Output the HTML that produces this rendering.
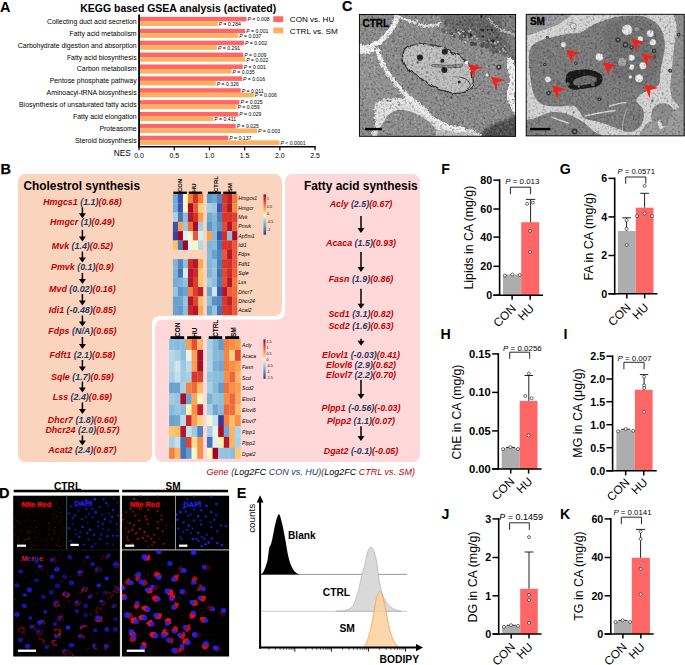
<!DOCTYPE html>
<html><head><meta charset="utf-8"><title>Figure</title>
<style>html,body{margin:0;padding:0;background:#fff;}svg{display:block;}text{font-family:"Liberation Sans",sans-serif;}</style></head>
<body>
<svg width="685" height="665" viewBox="0 0 685 665" font-family='"Liberation Sans", sans-serif'>
<rect width="685" height="665" fill="#fff"/>
<text x="0.00" y="11.80" font-size="14.5" fill="#000" font-weight="bold" >A</text>
<text x="178.20" y="12.40" font-size="10.5" fill="#000" font-weight="bold" text-anchor="middle" textLength="196.00" lengthAdjust="spacingAndGlyphs" >KEGG based GSEA analysis (activated)</text>
<rect x="140.00" y="16.90" width="106.50" height="4.55" fill="#FF6666" />
<rect x="140.00" y="21.45" width="77.75" height="4.55" fill="#FDB05E" />
<text x="136.60" y="23.90" font-size="6.9" fill="#000" text-anchor="end" >Collecting duct acid secretion</text>
<text x="247.50" y="21.20" font-size="5.15" fill="#000" ><tspan font-style="italic">P</tspan> = 0.008</text>
<text x="218.75" y="26.05" font-size="5.15" fill="#000" ><tspan font-style="italic">P</tspan> = 0.284</text>
<rect x="140.00" y="28.79" width="105.25" height="4.55" fill="#FF6666" />
<rect x="140.00" y="33.34" width="98.25" height="4.55" fill="#FDB05E" />
<text x="136.60" y="35.79" font-size="6.9" fill="#000" text-anchor="end" >Fatty acid metabolism</text>
<text x="246.25" y="33.09" font-size="5.15" fill="#000" ><tspan font-style="italic">P</tspan> = 0.001</text>
<text x="239.25" y="37.94" font-size="5.15" fill="#000" ><tspan font-style="italic">P</tspan> = 0.037</text>
<rect x="140.00" y="40.68" width="104.00" height="4.55" fill="#FF6666" />
<rect x="140.00" y="45.23" width="77.00" height="4.55" fill="#FDB05E" />
<text x="136.60" y="47.68" font-size="6.9" fill="#000" text-anchor="end" >Carbohydrate digestion and absorption</text>
<text x="245.00" y="44.98" font-size="5.15" fill="#000" ><tspan font-style="italic">P</tspan> = 0.002</text>
<text x="218.00" y="49.83" font-size="5.15" fill="#000" ><tspan font-style="italic">P</tspan> = 0.291</text>
<rect x="140.00" y="52.57" width="103.25" height="4.55" fill="#FF6666" />
<rect x="140.00" y="57.12" width="105.25" height="4.55" fill="#FDB05E" />
<text x="136.60" y="59.57" font-size="6.9" fill="#000" text-anchor="end" >Fatty acid biosynthesis</text>
<text x="244.25" y="56.87" font-size="5.15" fill="#000" ><tspan font-style="italic">P</tspan> = 0.009</text>
<text x="246.25" y="61.72" font-size="5.15" fill="#000" ><tspan font-style="italic">P</tspan> = 0.022</text>
<rect x="140.00" y="64.46" width="102.75" height="4.55" fill="#FF6666" />
<rect x="140.00" y="69.01" width="91.50" height="4.55" fill="#FDB05E" />
<text x="136.60" y="71.46" font-size="6.9" fill="#000" text-anchor="end" >Carbon metabolism</text>
<text x="243.75" y="68.76" font-size="5.15" fill="#000" ><tspan font-style="italic">P</tspan> = 0.001</text>
<text x="232.50" y="73.61" font-size="5.15" fill="#000" ><tspan font-style="italic">P</tspan> = 0.035</text>
<rect x="140.00" y="76.35" width="102.00" height="4.55" fill="#FF6666" />
<rect x="140.00" y="80.90" width="75.75" height="4.55" fill="#FDB05E" />
<text x="136.60" y="83.35" font-size="6.9" fill="#000" text-anchor="end" >Pentose phosphate pathway</text>
<text x="243.00" y="80.65" font-size="5.15" fill="#000" ><tspan font-style="italic">P</tspan> = 0.016</text>
<text x="216.75" y="85.50" font-size="5.15" fill="#000" ><tspan font-style="italic">P</tspan> = 0.326</text>
<rect x="140.00" y="88.24" width="100.75" height="4.55" fill="#FF6666" />
<rect x="140.00" y="92.79" width="113.75" height="4.55" fill="#FDB05E" />
<text x="136.60" y="95.24" font-size="6.9" fill="#000" text-anchor="end" >Aminoacyl-tRNA biosynthesis</text>
<text x="241.75" y="92.54" font-size="5.15" fill="#000" ><tspan font-style="italic">P</tspan> = 0.011</text>
<text x="254.75" y="97.39" font-size="5.15" fill="#000" ><tspan font-style="italic">P</tspan> = 0.006</text>
<rect x="140.00" y="100.13" width="99.50" height="4.55" fill="#FF6666" />
<rect x="140.00" y="104.68" width="96.50" height="4.55" fill="#FDB05E" />
<text x="136.60" y="107.13" font-size="6.9" fill="#000" text-anchor="end" >Biosynthesis of unsaturated fatty acids</text>
<text x="240.50" y="104.43" font-size="5.15" fill="#000" ><tspan font-style="italic">P</tspan> = 0.025</text>
<text x="237.50" y="109.28" font-size="5.15" fill="#000" ><tspan font-style="italic">P</tspan> = 0.059</text>
<rect x="140.00" y="112.02" width="98.25" height="4.55" fill="#FF6666" />
<rect x="140.00" y="116.57" width="73.25" height="4.55" fill="#FDB05E" />
<text x="136.60" y="119.02" font-size="6.9" fill="#000" text-anchor="end" >Fatty acid elongation</text>
<text x="239.25" y="116.32" font-size="5.15" fill="#000" ><tspan font-style="italic">P</tspan> = 0.029</text>
<text x="214.25" y="121.17" font-size="5.15" fill="#000" ><tspan font-style="italic">P</tspan> = 0.411</text>
<rect x="140.00" y="123.91" width="95.75" height="4.55" fill="#FF6666" />
<rect x="140.00" y="128.46" width="117.00" height="4.55" fill="#FDB05E" />
<text x="136.60" y="130.91" font-size="6.9" fill="#000" text-anchor="end" >Proteasome</text>
<text x="236.75" y="128.21" font-size="5.15" fill="#000" ><tspan font-style="italic">P</tspan> = 0.025</text>
<text x="258.00" y="133.06" font-size="5.15" fill="#000" ><tspan font-style="italic">P</tspan> = 0.003</text>
<rect x="140.00" y="135.80" width="88.25" height="4.55" fill="#FF6666" />
<rect x="140.00" y="140.35" width="139.50" height="4.55" fill="#FDB05E" />
<text x="136.60" y="142.80" font-size="6.9" fill="#000" text-anchor="end" >Steroid biosynthesis</text>
<text x="229.25" y="140.10" font-size="5.15" fill="#000" ><tspan font-style="italic">P</tspan> = 0.137</text>
<text x="280.50" y="144.95" font-size="5.15" fill="#000" ><tspan font-style="italic">P</tspan> &lt; 0.0001</text>
<line x1="139.05" y1="14.50" x2="139.05" y2="147.60" stroke="#000" stroke-width="1.8" />
<line x1="138.15" y1="146.80" x2="315.80" y2="146.80" stroke="#000" stroke-width="1.6" />
<line x1="139.05" y1="146.80" x2="139.05" y2="150.20" stroke="#000" stroke-width="1.2" />
<text x="139.05" y="157.60" font-size="7" fill="#000" text-anchor="middle" >0.0</text>
<line x1="174.25" y1="146.80" x2="174.25" y2="150.20" stroke="#000" stroke-width="1.2" />
<text x="174.25" y="157.60" font-size="7" fill="#000" text-anchor="middle" >0.5</text>
<line x1="209.45" y1="146.80" x2="209.45" y2="150.20" stroke="#000" stroke-width="1.2" />
<text x="209.45" y="157.60" font-size="7" fill="#000" text-anchor="middle" >1.0</text>
<line x1="244.65" y1="146.80" x2="244.65" y2="150.20" stroke="#000" stroke-width="1.2" />
<text x="244.65" y="157.60" font-size="7" fill="#000" text-anchor="middle" >1.5</text>
<line x1="279.85" y1="146.80" x2="279.85" y2="150.20" stroke="#000" stroke-width="1.2" />
<text x="279.85" y="157.60" font-size="7" fill="#000" text-anchor="middle" >2.0</text>
<line x1="315.05" y1="146.80" x2="315.05" y2="150.20" stroke="#000" stroke-width="1.2" />
<text x="315.05" y="157.60" font-size="7" fill="#000" text-anchor="middle" >2.5</text>
<text x="113.80" y="155.60" font-size="8.3" fill="#000" >NES</text>
<rect x="273.30" y="16.30" width="10.00" height="5.80" fill="#FF6666" />
<rect x="273.30" y="27.60" width="10.00" height="5.80" fill="#FDB05E" />
<text x="289.80" y="22.20" font-size="8.1" fill="#000" textLength="44.50" lengthAdjust="spacingAndGlyphs" >CON vs. HU</text>
<text x="289.80" y="33.60" font-size="8.1" fill="#000" textLength="48.00" lengthAdjust="spacingAndGlyphs" >CTRL vs. SM</text>
<text x="0.60" y="173.70" font-size="14.5" fill="#000" font-weight="bold" stroke="#000" stroke-width="0.25">B</text>
<path d="M18.00,181.50 A7.5,7.5 0 0 1 25.50,174.00 L274.50,174.00 A7.5,7.5 0 0 1 282.00,181.50 L282.00,308.50 A7.5,7.5 0 0 1 274.50,316.00 L159.50,316.00 A7.5,7.5 0 0 0 152.00,323.50 L152.00,454.50 A7.5,7.5 0 0 1 144.50,462.00 L25.50,462.00 A7.5,7.5 0 0 1 18.00,454.50 Z" fill="#FAD4BD" />
<path d="M285.00,181.50 A7.5,7.5 0 0 1 292.50,174.00 L412.50,174.00 A7.5,7.5 0 0 1 420.00,181.50 L420.00,454.50 A7.5,7.5 0 0 1 412.50,462.00 L162.50,462.00 A7.5,7.5 0 0 1 155.00,454.50 L155.00,327.00 A7.5,7.5 0 0 1 162.50,319.50 L277.50,319.50 A7.5,7.5 0 0 0 285.00,312.00 Z" fill="#FFD9D9" />
<text x="23.50" y="190.30" font-size="12" fill="#000" font-weight="bold" textLength="116.50" lengthAdjust="spacingAndGlyphs" >Cholestrol synthesis</text>
<text x="304.00" y="190.30" font-size="12" fill="#000" font-weight="bold" textLength="113.60" lengthAdjust="spacingAndGlyphs" >Fatty acid synthesis</text>
<text x="82.40" y="204.70" font-size="8.9" fill="#000" font-weight="bold" font-style="italic" text-anchor="middle" ><tspan fill="#C00000">Hmgcs1 </tspan><tspan fill="#1F3864">(1.1)</tspan><tspan fill="#C00000">(0.68)</tspan></text>
<text x="82.40" y="225.10" font-size="8.9" fill="#000" font-weight="bold" font-style="italic" text-anchor="middle" ><tspan fill="#C00000">Hmgcr </tspan><tspan fill="#1F3864">(1)</tspan><tspan fill="#C00000">(0.49)</tspan></text>
<text x="82.40" y="249.20" font-size="8.9" fill="#000" font-weight="bold" font-style="italic" text-anchor="middle" ><tspan fill="#C00000">Mvk </tspan><tspan fill="#1F3864">(1.4)</tspan><tspan fill="#C00000">(0.52)</tspan></text>
<text x="82.40" y="270.40" font-size="8.9" fill="#000" font-weight="bold" font-style="italic" text-anchor="middle" ><tspan fill="#C00000">Pmvk </tspan><tspan fill="#1F3864">(0.1)</tspan><tspan fill="#C00000">(0.9)</tspan></text>
<text x="82.40" y="291.60" font-size="8.9" fill="#000" font-weight="bold" font-style="italic" text-anchor="middle" ><tspan fill="#C00000">Mvd </tspan><tspan fill="#1F3864">(0.02)</tspan><tspan fill="#C00000">(0.16)</tspan></text>
<text x="82.40" y="313.10" font-size="8.9" fill="#000" font-weight="bold" font-style="italic" text-anchor="middle" ><tspan fill="#C00000">Idi1 </tspan><tspan fill="#1F3864">(-0.48)</tspan><tspan fill="#C00000">(0.85)</tspan></text>
<text x="82.40" y="334.20" font-size="8.9" fill="#000" font-weight="bold" font-style="italic" text-anchor="middle" ><tspan fill="#C00000">Fdps </tspan><tspan fill="#1F3864">(N/A)</tspan><tspan fill="#C00000">(0.65)</tspan></text>
<text x="82.40" y="357.80" font-size="8.9" fill="#000" font-weight="bold" font-style="italic" text-anchor="middle" ><tspan fill="#C00000">Fdft1 </tspan><tspan fill="#1F3864">(2.1)</tspan><tspan fill="#C00000">(0.58)</tspan></text>
<text x="82.40" y="379.50" font-size="8.9" fill="#000" font-weight="bold" font-style="italic" text-anchor="middle" ><tspan fill="#C00000">Sqle </tspan><tspan fill="#1F3864">(1.7)</tspan><tspan fill="#C00000">(0.59)</tspan></text>
<text x="82.40" y="400.00" font-size="8.9" fill="#000" font-weight="bold" font-style="italic" text-anchor="middle" ><tspan fill="#C00000">Lss </tspan><tspan fill="#1F3864">(2.4)</tspan><tspan fill="#C00000">(0.69)</tspan></text>
<text x="82.40" y="422.50" font-size="8.9" fill="#000" font-weight="bold" font-style="italic" text-anchor="middle" ><tspan fill="#C00000">Dhcr7 </tspan><tspan fill="#1F3864">(1.8)</tspan><tspan fill="#C00000">(0.60)</tspan></text>
<text x="82.40" y="433.20" font-size="8.9" fill="#000" font-weight="bold" font-style="italic" text-anchor="middle" ><tspan fill="#C00000">Dhcr24 </tspan><tspan fill="#1F3864">(2.0)</tspan><tspan fill="#C00000">(0.57)</tspan></text>
<text x="82.40" y="453.20" font-size="8.9" fill="#000" font-weight="bold" font-style="italic" text-anchor="middle" ><tspan fill="#C00000">Acat2 </tspan><tspan fill="#1F3864">(2.4)</tspan><tspan fill="#C00000">(0.87)</tspan></text>
<line x1="82.40" y1="207.30" x2="82.40" y2="213.80" stroke="#000" stroke-width="1.5" />
<path d="M78.90,213.30 L85.90,213.30 L82.40,218.30 Z" fill="#000" />
<line x1="82.40" y1="230.00" x2="82.40" y2="237.00" stroke="#000" stroke-width="1.5" />
<path d="M78.90,236.50 L85.90,236.50 L82.40,241.50 Z" fill="#000" />
<line x1="82.40" y1="251.50" x2="82.40" y2="258.00" stroke="#000" stroke-width="1.5" />
<path d="M78.90,257.50 L85.90,257.50 L82.40,262.50 Z" fill="#000" />
<line x1="82.40" y1="273.00" x2="82.40" y2="279.50" stroke="#000" stroke-width="1.5" />
<path d="M78.90,279.00 L85.90,279.00 L82.40,284.00 Z" fill="#000" />
<line x1="82.40" y1="294.00" x2="82.40" y2="301.00" stroke="#000" stroke-width="1.5" />
<path d="M78.90,300.50 L85.90,300.50 L82.40,305.50 Z" fill="#000" />
<line x1="82.40" y1="315.50" x2="82.40" y2="322.00" stroke="#000" stroke-width="1.5" />
<path d="M78.90,321.50 L85.90,321.50 L82.40,326.50 Z" fill="#000" />
<line x1="82.40" y1="337.00" x2="82.40" y2="344.50" stroke="#000" stroke-width="1.5" />
<path d="M78.90,344.00 L85.90,344.00 L82.40,349.00 Z" fill="#000" />
<line x1="82.40" y1="360.00" x2="82.40" y2="367.00" stroke="#000" stroke-width="1.5" />
<path d="M78.90,366.50 L85.90,366.50 L82.40,371.50 Z" fill="#000" />
<line x1="82.40" y1="381.50" x2="82.40" y2="388.00" stroke="#000" stroke-width="1.5" />
<path d="M78.90,387.50 L85.90,387.50 L82.40,392.50 Z" fill="#000" />
<line x1="82.40" y1="402.50" x2="82.40" y2="409.50" stroke="#000" stroke-width="1.5" />
<path d="M78.90,409.00 L85.90,409.00 L82.40,414.00 Z" fill="#000" />
<line x1="82.40" y1="435.50" x2="82.40" y2="441.00" stroke="#000" stroke-width="1.5" />
<path d="M78.90,440.50 L85.90,440.50 L82.40,445.50 Z" fill="#000" />
<text x="361.00" y="206.80" font-size="8.9" fill="#000" font-weight="bold" font-style="italic" text-anchor="middle" ><tspan fill="#C00000">Acly </tspan><tspan fill="#1F3864">(2.5)</tspan><tspan fill="#C00000">(0.67)</tspan></text>
<text x="361.00" y="245.50" font-size="8.9" fill="#000" font-weight="bold" font-style="italic" text-anchor="middle" ><tspan fill="#C00000">Acaca </tspan><tspan fill="#1F3864">(1.5)</tspan><tspan fill="#C00000">(0.93)</tspan></text>
<text x="361.00" y="281.60" font-size="8.9" fill="#000" font-weight="bold" font-style="italic" text-anchor="middle" ><tspan fill="#C00000">Fasn </tspan><tspan fill="#1F3864">(1.9)</tspan><tspan fill="#C00000">(0.86)</tspan></text>
<text x="361.00" y="317.20" font-size="8.9" fill="#000" font-weight="bold" font-style="italic" text-anchor="middle" ><tspan fill="#C00000">Scd1 </tspan><tspan fill="#1F3864">(3.1)</tspan><tspan fill="#C00000">(0.82)</tspan></text>
<text x="361.00" y="329.10" font-size="8.9" fill="#000" font-weight="bold" font-style="italic" text-anchor="middle" ><tspan fill="#C00000">Scd2 </tspan><tspan fill="#1F3864">(1.6)</tspan><tspan fill="#C00000">(0.63)</tspan></text>
<text x="361.00" y="357.50" font-size="8.9" fill="#000" font-weight="bold" font-style="italic" text-anchor="middle" ><tspan fill="#C00000">Elovl1 </tspan><tspan fill="#1F3864">(-0.03)</tspan><tspan fill="#C00000">(0.41)</tspan></text>
<text x="361.00" y="368.10" font-size="8.9" fill="#000" font-weight="bold" font-style="italic" text-anchor="middle" ><tspan fill="#C00000">Elovl6 </tspan><tspan fill="#1F3864">(2.9)</tspan><tspan fill="#C00000">(0.62)</tspan></text>
<text x="361.00" y="378.40" font-size="8.9" fill="#000" font-weight="bold" font-style="italic" text-anchor="middle" ><tspan fill="#C00000">Elovl7 </tspan><tspan fill="#1F3864">(2.2)</tspan><tspan fill="#C00000">(0.70)</tspan></text>
<text x="361.00" y="411.20" font-size="8.9" fill="#000" font-weight="bold" font-style="italic" text-anchor="middle" ><tspan fill="#C00000">Plpp1 </tspan><tspan fill="#1F3864">(-0.56)</tspan><tspan fill="#C00000">(-0.03)</tspan></text>
<text x="361.00" y="423.70" font-size="8.9" fill="#000" font-weight="bold" font-style="italic" text-anchor="middle" ><tspan fill="#C00000">Plpp2 </tspan><tspan fill="#1F3864">(1.1)</tspan><tspan fill="#C00000">(0.07)</tspan></text>
<text x="361.00" y="453.80" font-size="8.9" fill="#000" font-weight="bold" font-style="italic" text-anchor="middle" ><tspan fill="#C00000">Dgat2 </tspan><tspan fill="#1F3864">(-0.1)</tspan><tspan fill="#C00000">(-0.05)</tspan></text>
<line x1="361.00" y1="216.00" x2="361.00" y2="228.50" stroke="#000" stroke-width="1.5" />
<path d="M357.50,228.00 L364.50,228.00 L361.00,233.00 Z" fill="#000" />
<line x1="361.00" y1="252.00" x2="361.00" y2="267.50" stroke="#000" stroke-width="1.5" />
<path d="M357.50,267.00 L364.50,267.00 L361.00,272.00 Z" fill="#000" />
<line x1="361.00" y1="288.70" x2="361.00" y2="304.20" stroke="#000" stroke-width="1.5" />
<path d="M357.50,303.70 L364.50,303.70 L361.00,308.70 Z" fill="#000" />
<line x1="361.00" y1="338.80" x2="361.00" y2="341.30" stroke="#000" stroke-width="1.5" />
<path d="M357.50,340.80 L364.50,340.80 L361.00,345.80 Z" fill="#000" />
<line x1="361.00" y1="379.80" x2="361.00" y2="394.50" stroke="#000" stroke-width="1.5" />
<path d="M357.50,394.00 L364.50,394.00 L361.00,399.00 Z" fill="#000" />
<line x1="361.00" y1="426.20" x2="361.00" y2="436.60" stroke="#000" stroke-width="1.5" />
<path d="M357.50,436.10 L364.50,436.10 L361.00,441.10 Z" fill="#000" />
<rect x="172.90" y="193.90" width="5.17" height="9.46" fill="#6BAED6" />
<rect x="177.92" y="193.90" width="5.17" height="9.46" fill="#3A4CC0" />
<rect x="182.94" y="193.90" width="5.17" height="9.46" fill="#FFF5C0" />
<rect x="187.96" y="193.90" width="5.17" height="9.46" fill="#F5803A" />
<rect x="192.98" y="193.90" width="5.17" height="9.46" fill="#D62F27" />
<rect x="198.00" y="193.90" width="5.17" height="9.46" fill="#F5803A" />
<rect x="172.90" y="203.22" width="5.17" height="9.46" fill="#74B0DA" />
<rect x="177.92" y="203.22" width="5.17" height="9.46" fill="#3B50B5" />
<rect x="182.94" y="203.22" width="5.17" height="9.46" fill="#FDF2BE" />
<rect x="187.96" y="203.22" width="5.17" height="9.46" fill="#A50F26" />
<rect x="192.98" y="203.22" width="5.17" height="9.46" fill="#EA5A35" />
<rect x="198.00" y="203.22" width="5.17" height="9.46" fill="#FDD07E" />
<rect x="172.90" y="212.53" width="5.17" height="9.46" fill="#ABD2E8" />
<rect x="177.92" y="212.53" width="5.17" height="9.46" fill="#4A74B4" />
<rect x="182.94" y="212.53" width="5.17" height="9.46" fill="#8CBEDD" />
<rect x="187.96" y="212.53" width="5.17" height="9.46" fill="#B2182B" />
<rect x="192.98" y="212.53" width="5.17" height="9.46" fill="#D73027" />
<rect x="198.00" y="212.53" width="5.17" height="9.46" fill="#F99B4B" />
<rect x="172.90" y="221.84" width="5.17" height="9.46" fill="#3F52A8" />
<rect x="177.92" y="221.84" width="5.17" height="9.46" fill="#F9A155" />
<rect x="182.94" y="221.84" width="5.17" height="9.46" fill="#9ECAE1" />
<rect x="187.96" y="221.84" width="5.17" height="9.46" fill="#EE6A3C" />
<rect x="192.98" y="221.84" width="5.17" height="9.46" fill="#A50F26" />
<rect x="198.00" y="221.84" width="5.17" height="9.46" fill="#A6CEE3" />
<rect x="172.90" y="231.16" width="5.17" height="9.46" fill="#3A40A0" />
<rect x="177.92" y="231.16" width="5.17" height="9.46" fill="#A50026" />
<rect x="182.94" y="231.16" width="5.17" height="9.46" fill="#E0EFF3" />
<rect x="187.96" y="231.16" width="5.17" height="9.46" fill="#FBF7D0" />
<rect x="192.98" y="231.16" width="5.17" height="9.46" fill="#E8553A" />
<rect x="198.00" y="231.16" width="5.17" height="9.46" fill="#D5EAF2" />
<rect x="172.90" y="240.47" width="5.17" height="9.46" fill="#FDBE70" />
<rect x="177.92" y="240.47" width="5.17" height="9.46" fill="#4878B6" />
<rect x="182.94" y="240.47" width="5.17" height="9.46" fill="#A50026" />
<rect x="187.96" y="240.47" width="5.17" height="9.46" fill="#EAF4EC" />
<rect x="192.98" y="240.47" width="5.17" height="9.46" fill="#F7F7C8" />
<rect x="198.00" y="240.47" width="5.17" height="9.46" fill="#B5D8EA" />
<rect x="172.90" y="259.11" width="5.17" height="9.46" fill="#7FB5D7" />
<rect x="177.92" y="259.11" width="5.17" height="9.46" fill="#5087C0" />
<rect x="182.94" y="259.11" width="5.17" height="9.46" fill="#8FC1DE" />
<rect x="187.96" y="259.11" width="5.17" height="9.46" fill="#CF2A27" />
<rect x="192.98" y="259.11" width="5.17" height="9.46" fill="#B2182B" />
<rect x="198.00" y="259.11" width="5.17" height="9.46" fill="#FBA75B" />
<rect x="172.90" y="268.42" width="5.17" height="9.46" fill="#7FB5D7" />
<rect x="177.92" y="268.42" width="5.17" height="9.46" fill="#4670B5" />
<rect x="182.94" y="268.42" width="5.17" height="9.46" fill="#D5EAF2" />
<rect x="187.96" y="268.42" width="5.17" height="9.46" fill="#B2182B" />
<rect x="192.98" y="268.42" width="5.17" height="9.46" fill="#D0282A" />
<rect x="198.00" y="268.42" width="5.17" height="9.46" fill="#FDC870" />
<rect x="172.90" y="277.74" width="5.17" height="9.46" fill="#74AED4" />
<rect x="177.92" y="277.74" width="5.17" height="9.46" fill="#7BB2D6" />
<rect x="182.94" y="277.74" width="5.17" height="9.46" fill="#90C2DE" />
<rect x="187.96" y="277.74" width="5.17" height="9.46" fill="#B2182B" />
<rect x="192.98" y="277.74" width="5.17" height="9.46" fill="#DC3D2D" />
<rect x="198.00" y="277.74" width="5.17" height="9.46" fill="#FDC56D" />
<rect x="172.90" y="287.05" width="5.17" height="9.46" fill="#94C4DF" />
<rect x="177.92" y="287.05" width="5.17" height="9.46" fill="#5E96C7" />
<rect x="182.94" y="287.05" width="5.17" height="9.46" fill="#6BA3CF" />
<rect x="187.96" y="287.05" width="5.17" height="9.46" fill="#F57F3D" />
<rect x="192.98" y="287.05" width="5.17" height="9.46" fill="#DC3D2D" />
<rect x="198.00" y="287.05" width="5.17" height="9.46" fill="#BE1E2A" />
<rect x="172.90" y="296.37" width="5.17" height="9.46" fill="#6BA3CF" />
<rect x="177.92" y="296.37" width="5.17" height="9.46" fill="#6BA3CF" />
<rect x="182.94" y="296.37" width="5.17" height="9.46" fill="#94C4DF" />
<rect x="187.96" y="296.37" width="5.17" height="9.46" fill="#B2182B" />
<rect x="192.98" y="296.37" width="5.17" height="9.46" fill="#E0442F" />
<rect x="198.00" y="296.37" width="5.17" height="9.46" fill="#FDBC68" />
<rect x="172.90" y="305.68" width="5.17" height="9.46" fill="#6BA3CF" />
<rect x="177.92" y="305.68" width="5.17" height="9.46" fill="#639CCB" />
<rect x="182.94" y="305.68" width="5.17" height="9.46" fill="#8CBFDC" />
<rect x="187.96" y="305.68" width="5.17" height="9.46" fill="#CC2527" />
<rect x="192.98" y="305.68" width="5.17" height="9.46" fill="#B2182B" />
<rect x="198.00" y="305.68" width="5.17" height="9.46" fill="#FBA75B" />
<rect x="206.90" y="193.90" width="5.20" height="9.46" fill="#5E9BCB" />
<rect x="211.95" y="193.90" width="5.20" height="9.46" fill="#6BA5D0" />
<rect x="217.00" y="193.90" width="5.20" height="9.46" fill="#4F83BF" />
<rect x="222.05" y="193.90" width="5.20" height="9.46" fill="#D83428" />
<rect x="227.10" y="193.90" width="5.20" height="9.46" fill="#BE1E2A" />
<rect x="232.15" y="193.90" width="5.20" height="9.46" fill="#F4783A" />
<rect x="206.90" y="203.22" width="5.20" height="9.46" fill="#A5CFE4" />
<rect x="211.95" y="203.22" width="5.20" height="9.46" fill="#9CC9E0" />
<rect x="217.00" y="203.22" width="5.20" height="9.46" fill="#3F55AE" />
<rect x="222.05" y="203.22" width="5.20" height="9.46" fill="#DA3B2B" />
<rect x="227.10" y="203.22" width="5.20" height="9.46" fill="#B2182B" />
<rect x="232.15" y="203.22" width="5.20" height="9.46" fill="#F68D45" />
<rect x="206.90" y="212.53" width="5.20" height="9.46" fill="#6FA8D1" />
<rect x="211.95" y="212.53" width="5.20" height="9.46" fill="#82B7D8" />
<rect x="217.00" y="212.53" width="5.20" height="9.46" fill="#4E80BD" />
<rect x="222.05" y="212.53" width="5.20" height="9.46" fill="#D93629" />
<rect x="227.10" y="212.53" width="5.20" height="9.46" fill="#D93629" />
<rect x="232.15" y="212.53" width="5.20" height="9.46" fill="#DC4030" />
<rect x="206.90" y="221.84" width="5.20" height="9.46" fill="#5E96C7" />
<rect x="211.95" y="221.84" width="5.20" height="9.46" fill="#7DB4D6" />
<rect x="217.00" y="221.84" width="5.20" height="9.46" fill="#5B92C5" />
<rect x="222.05" y="221.84" width="5.20" height="9.46" fill="#E34B33" />
<rect x="227.10" y="221.84" width="5.20" height="9.46" fill="#B2182B" />
<rect x="232.15" y="221.84" width="5.20" height="9.46" fill="#EB6038" />
<rect x="206.90" y="231.16" width="5.20" height="9.46" fill="#F9A055" />
<rect x="211.95" y="231.16" width="5.20" height="9.46" fill="#84B8D9" />
<rect x="217.00" y="231.16" width="5.20" height="9.46" fill="#3D54AE" />
<rect x="222.05" y="231.16" width="5.20" height="9.46" fill="#D62F27" />
<rect x="227.10" y="231.16" width="5.20" height="9.46" fill="#8FC1DE" />
<rect x="232.15" y="231.16" width="5.20" height="9.46" fill="#A80F26" />
<rect x="206.90" y="240.47" width="5.20" height="9.46" fill="#7FB5D7" />
<rect x="211.95" y="240.47" width="5.20" height="9.46" fill="#86BAD9" />
<rect x="217.00" y="240.47" width="5.20" height="9.46" fill="#4878B6" />
<rect x="222.05" y="240.47" width="5.20" height="9.46" fill="#D83428" />
<rect x="227.10" y="240.47" width="5.20" height="9.46" fill="#D73027" />
<rect x="232.15" y="240.47" width="5.20" height="9.46" fill="#E9583A" />
<rect x="206.90" y="249.79" width="5.20" height="9.46" fill="#86BAD9" />
<rect x="211.95" y="249.79" width="5.20" height="9.46" fill="#6BA3CF" />
<rect x="217.00" y="249.79" width="5.20" height="9.46" fill="#5087C0" />
<rect x="222.05" y="249.79" width="5.20" height="9.46" fill="#E9583A" />
<rect x="227.10" y="249.79" width="5.20" height="9.46" fill="#B2182B" />
<rect x="232.15" y="249.79" width="5.20" height="9.46" fill="#E9583A" />
<rect x="206.90" y="259.11" width="5.20" height="9.46" fill="#7FB5D7" />
<rect x="211.95" y="259.11" width="5.20" height="9.46" fill="#90C2DE" />
<rect x="217.00" y="259.11" width="5.20" height="9.46" fill="#4B7DBB" />
<rect x="222.05" y="259.11" width="5.20" height="9.46" fill="#D93629" />
<rect x="227.10" y="259.11" width="5.20" height="9.46" fill="#D2302A" />
<rect x="232.15" y="259.11" width="5.20" height="9.46" fill="#E9583A" />
<rect x="206.90" y="268.42" width="5.20" height="9.46" fill="#7FB5D7" />
<rect x="211.95" y="268.42" width="5.20" height="9.46" fill="#94C4DF" />
<rect x="217.00" y="268.42" width="5.20" height="9.46" fill="#4670B5" />
<rect x="222.05" y="268.42" width="5.20" height="9.46" fill="#E24830" />
<rect x="227.10" y="268.42" width="5.20" height="9.46" fill="#CF2A27" />
<rect x="232.15" y="268.42" width="5.20" height="9.46" fill="#EB6038" />
<rect x="206.90" y="277.74" width="5.20" height="9.46" fill="#A0CBE2" />
<rect x="211.95" y="277.74" width="5.20" height="9.46" fill="#8CBFDC" />
<rect x="217.00" y="277.74" width="5.20" height="9.46" fill="#4B7DBB" />
<rect x="222.05" y="277.74" width="5.20" height="9.46" fill="#E34B33" />
<rect x="227.10" y="277.74" width="5.20" height="9.46" fill="#B2182B" />
<rect x="232.15" y="277.74" width="5.20" height="9.46" fill="#F4783A" />
<rect x="206.90" y="287.05" width="5.20" height="9.46" fill="#6BA3CF" />
<rect x="211.95" y="287.05" width="5.20" height="9.46" fill="#CFE6F0" />
<rect x="217.00" y="287.05" width="5.20" height="9.46" fill="#3F55AE" />
<rect x="222.05" y="287.05" width="5.20" height="9.46" fill="#B2182B" />
<rect x="227.10" y="287.05" width="5.20" height="9.46" fill="#EB6038" />
<rect x="232.15" y="287.05" width="5.20" height="9.46" fill="#EE683A" />
<rect x="206.90" y="296.37" width="5.20" height="9.46" fill="#8FC1DE" />
<rect x="211.95" y="296.37" width="5.20" height="9.46" fill="#5B92C5" />
<rect x="217.00" y="296.37" width="5.20" height="9.46" fill="#5087C0" />
<rect x="222.05" y="296.37" width="5.20" height="9.46" fill="#D93629" />
<rect x="227.10" y="296.37" width="5.20" height="9.46" fill="#BE1E2A" />
<rect x="232.15" y="296.37" width="5.20" height="9.46" fill="#EB6038" />
<rect x="206.90" y="305.68" width="5.20" height="9.46" fill="#6BA3CF" />
<rect x="211.95" y="305.68" width="5.20" height="9.46" fill="#94C4DF" />
<rect x="217.00" y="305.68" width="5.20" height="9.46" fill="#4670B5" />
<rect x="222.05" y="305.68" width="5.20" height="9.46" fill="#D93629" />
<rect x="227.10" y="305.68" width="5.20" height="9.46" fill="#D73027" />
<rect x="232.15" y="305.68" width="5.20" height="9.46" fill="#E9583A" />
<rect x="173.30" y="191.60" width="13.60" height="2.30" fill="#000" />
<rect x="188.70" y="191.60" width="13.50" height="2.30" fill="#000" />
<rect x="207.90" y="191.60" width="13.20" height="2.30" fill="#000" />
<rect x="223.20" y="191.60" width="13.10" height="2.30" fill="#000" />
<text x="182.40" y="191.90" font-size="5.9" fill="#000" font-weight="bold" transform="rotate(-90 182.40 191.90)" >CON</text>
<text x="196.40" y="191.90" font-size="5.9" fill="#000" font-weight="bold" transform="rotate(-90 196.40 191.90)" >HU</text>
<text x="217.60" y="191.90" font-size="5.9" fill="#000" font-weight="bold" transform="rotate(-90 217.60 191.90)" >CTRL</text>
<text x="232.50" y="191.90" font-size="5.9" fill="#000" font-weight="bold" transform="rotate(-90 232.50 191.90)" >SM</text>
<text x="238.20" y="200.40" font-size="5.2" fill="#000" font-style="italic" >Hmgcs1</text>
<text x="238.20" y="209.72" font-size="5.2" fill="#000" font-style="italic" >Hmgcr</text>
<text x="238.20" y="219.03" font-size="5.2" fill="#000" font-style="italic" >Mvk</text>
<text x="238.20" y="228.34" font-size="5.2" fill="#000" font-style="italic" >Pmvk</text>
<text x="238.20" y="237.66" font-size="5.2" fill="#000" font-style="italic" >Ap5m1</text>
<text x="238.20" y="246.97" font-size="5.2" fill="#000" font-style="italic" >Idi1</text>
<text x="238.20" y="256.29" font-size="5.2" fill="#000" font-style="italic" >Fdps</text>
<text x="238.20" y="265.61" font-size="5.2" fill="#000" font-style="italic" >Fdft1</text>
<text x="238.20" y="274.92" font-size="5.2" fill="#000" font-style="italic" >Sqle</text>
<text x="238.20" y="284.24" font-size="5.2" fill="#000" font-style="italic" >Lss</text>
<text x="238.20" y="293.55" font-size="5.2" fill="#000" font-style="italic" >Dhcr7</text>
<text x="238.20" y="302.87" font-size="5.2" fill="#000" font-style="italic" >Dhcr24</text>
<text x="238.20" y="312.18" font-size="5.2" fill="#000" font-style="italic" >Acat2</text>
<defs><linearGradient id="cb1" x1="0" y1="0" x2="0" y2="1"><stop offset="0" stop-color="#A50026"/><stop offset="0.12" stop-color="#D73027"/><stop offset="0.25" stop-color="#F46D43"/><stop offset="0.38" stop-color="#FDAE61"/><stop offset="0.5" stop-color="#FFFFBF"/><stop offset="0.62" stop-color="#ABD9E9"/><stop offset="0.75" stop-color="#74ADD1"/><stop offset="0.88" stop-color="#4575B4"/><stop offset="1" stop-color="#313695"/></linearGradient></defs>
<rect x="263.50" y="194.40" width="2.60" height="40.30" fill="url(#cb1)" />
<text x="267.10" y="199.60" font-size="3.6" fill="#000" >1</text>
<text x="267.10" y="207.80" font-size="3.6" fill="#000" >0.5</text>
<text x="267.10" y="215.30" font-size="3.6" fill="#000" >0</text>
<text x="267.10" y="223.20" font-size="3.6" fill="#000" >-0.5</text>
<text x="267.10" y="230.60" font-size="3.6" fill="#000" >-1</text>
<rect x="169.10" y="339.00" width="5.78" height="11.03" fill="#8CBFDC" />
<rect x="174.73" y="339.00" width="5.78" height="11.03" fill="#86BAD9" />
<rect x="180.36" y="339.00" width="5.78" height="11.03" fill="#8CBFDC" />
<rect x="185.99" y="339.00" width="5.78" height="11.03" fill="#FB9D50" />
<rect x="191.62" y="339.00" width="5.78" height="11.03" fill="#E6502F" />
<rect x="197.25" y="339.00" width="5.78" height="11.03" fill="#FDB466" />
<rect x="169.10" y="349.88" width="5.78" height="11.03" fill="#B5D8EA" />
<rect x="174.73" y="349.88" width="5.78" height="11.03" fill="#A8D0E5" />
<rect x="180.36" y="349.88" width="5.78" height="11.03" fill="#8CBFDC" />
<rect x="185.99" y="349.88" width="5.78" height="11.03" fill="#E8F3EA" />
<rect x="191.62" y="349.88" width="5.78" height="11.03" fill="#FB9D50" />
<rect x="197.25" y="349.88" width="5.78" height="11.03" fill="#A80F26" />
<rect x="169.10" y="360.76" width="5.78" height="11.03" fill="#B0D5E8" />
<rect x="174.73" y="360.76" width="5.78" height="11.03" fill="#CFE6F0" />
<rect x="180.36" y="360.76" width="5.78" height="11.03" fill="#9CC9E0" />
<rect x="185.99" y="360.76" width="5.78" height="11.03" fill="#BBDBEB" />
<rect x="191.62" y="360.76" width="5.78" height="11.03" fill="#FB9D50" />
<rect x="197.25" y="360.76" width="5.78" height="11.03" fill="#A80F26" />
<rect x="169.10" y="371.64" width="5.78" height="11.03" fill="#A5CFE4" />
<rect x="174.73" y="371.64" width="5.78" height="11.03" fill="#C5E0EE" />
<rect x="180.36" y="371.64" width="5.78" height="11.03" fill="#A0CBE2" />
<rect x="185.99" y="371.64" width="5.78" height="11.03" fill="#A8D0E5" />
<rect x="191.62" y="371.64" width="5.78" height="11.03" fill="#D93629" />
<rect x="197.25" y="371.64" width="5.78" height="11.03" fill="#DC4030" />
<rect x="169.10" y="382.52" width="5.78" height="11.03" fill="#6BA3CF" />
<rect x="174.73" y="382.52" width="5.78" height="11.03" fill="#6BA3CF" />
<rect x="180.36" y="382.52" width="5.78" height="11.03" fill="#A8D0E5" />
<rect x="185.99" y="382.52" width="5.78" height="11.03" fill="#F57F3D" />
<rect x="191.62" y="382.52" width="5.78" height="11.03" fill="#EE683A" />
<rect x="197.25" y="382.52" width="5.78" height="11.03" fill="#FDBC68" />
<rect x="169.10" y="393.40" width="5.78" height="11.03" fill="#A0CBE2" />
<rect x="174.73" y="393.40" width="5.78" height="11.03" fill="#94C4DF" />
<rect x="180.36" y="393.40" width="5.78" height="11.03" fill="#A80F26" />
<rect x="185.99" y="393.40" width="5.78" height="11.03" fill="#6BA3CF" />
<rect x="191.62" y="393.40" width="5.78" height="11.03" fill="#FBA75B" />
<rect x="197.25" y="393.40" width="5.78" height="11.03" fill="#FFF8C0" />
<rect x="169.10" y="404.28" width="5.78" height="11.03" fill="#86BAD9" />
<rect x="174.73" y="404.28" width="5.78" height="11.03" fill="#94C4DF" />
<rect x="180.36" y="404.28" width="5.78" height="11.03" fill="#86BAD9" />
<rect x="185.99" y="404.28" width="5.78" height="11.03" fill="#FFF5B0" />
<rect x="191.62" y="404.28" width="5.78" height="11.03" fill="#F98E47" />
<rect x="197.25" y="404.28" width="5.78" height="11.03" fill="#C4202A" />
<rect x="169.10" y="415.16" width="5.78" height="11.03" fill="#6BA3CF" />
<rect x="174.73" y="415.16" width="5.78" height="11.03" fill="#6FA8D1" />
<rect x="180.36" y="415.16" width="5.78" height="11.03" fill="#BBDBEB" />
<rect x="185.99" y="415.16" width="5.78" height="11.03" fill="#CC2527" />
<rect x="191.62" y="415.16" width="5.78" height="11.03" fill="#FB9D50" />
<rect x="197.25" y="415.16" width="5.78" height="11.03" fill="#FDD080" />
<rect x="169.10" y="426.04" width="5.78" height="11.03" fill="#FDC56D" />
<rect x="174.73" y="426.04" width="5.78" height="11.03" fill="#FDBC68" />
<rect x="180.36" y="426.04" width="5.78" height="11.03" fill="#B2182B" />
<rect x="185.99" y="426.04" width="5.78" height="11.03" fill="#BFE0EE" />
<rect x="191.62" y="426.04" width="5.78" height="11.03" fill="#9CC9E0" />
<rect x="197.25" y="426.04" width="5.78" height="11.03" fill="#4F83BF" />
<rect x="169.10" y="436.92" width="5.78" height="11.03" fill="#A8D0E5" />
<rect x="174.73" y="436.92" width="5.78" height="11.03" fill="#C5E0EE" />
<rect x="180.36" y="436.92" width="5.78" height="11.03" fill="#4575B4" />
<rect x="185.99" y="436.92" width="5.78" height="11.03" fill="#E0442F" />
<rect x="191.62" y="436.92" width="5.78" height="11.03" fill="#FEDD90" />
<rect x="197.25" y="436.92" width="5.78" height="11.03" fill="#F98E47" />
<rect x="169.10" y="447.80" width="5.78" height="11.03" fill="#F57F3D" />
<rect x="174.73" y="447.80" width="5.78" height="11.03" fill="#FDB466" />
<rect x="180.36" y="447.80" width="5.78" height="11.03" fill="#4575B4" />
<rect x="185.99" y="447.80" width="5.78" height="11.03" fill="#639CCB" />
<rect x="191.62" y="447.80" width="5.78" height="11.03" fill="#F7F7D0" />
<rect x="197.25" y="447.80" width="5.78" height="11.03" fill="#F98E47" />
<rect x="207.00" y="339.00" width="5.75" height="11.03" fill="#A8D0E5" />
<rect x="212.60" y="339.00" width="5.75" height="11.03" fill="#86BAD9" />
<rect x="218.20" y="339.00" width="5.75" height="11.03" fill="#639CCB" />
<rect x="223.80" y="339.00" width="5.75" height="11.03" fill="#F57F3D" />
<rect x="229.40" y="339.00" width="5.75" height="11.03" fill="#F98E47" />
<rect x="235.00" y="339.00" width="5.75" height="11.03" fill="#FB9D50" />
<rect x="207.00" y="349.88" width="5.75" height="11.03" fill="#ABD2E6" />
<rect x="212.60" y="349.88" width="5.75" height="11.03" fill="#86BAD9" />
<rect x="218.20" y="349.88" width="5.75" height="11.03" fill="#7FB5D7" />
<rect x="223.80" y="349.88" width="5.75" height="11.03" fill="#F68542" />
<rect x="229.40" y="349.88" width="5.75" height="11.03" fill="#FDD080" />
<rect x="235.00" y="349.88" width="5.75" height="11.03" fill="#E24830" />
<rect x="207.00" y="360.76" width="5.75" height="11.03" fill="#B0D5E8" />
<rect x="212.60" y="360.76" width="5.75" height="11.03" fill="#7BB2D6" />
<rect x="218.20" y="360.76" width="5.75" height="11.03" fill="#6FA8D1" />
<rect x="223.80" y="360.76" width="5.75" height="11.03" fill="#F57F3D" />
<rect x="229.40" y="360.76" width="5.75" height="11.03" fill="#F98E47" />
<rect x="235.00" y="360.76" width="5.75" height="11.03" fill="#FBA153" />
<rect x="207.00" y="371.64" width="5.75" height="11.03" fill="#94C4DF" />
<rect x="212.60" y="371.64" width="5.75" height="11.03" fill="#8CBFDC" />
<rect x="218.20" y="371.64" width="5.75" height="11.03" fill="#86BAD9" />
<rect x="223.80" y="371.64" width="5.75" height="11.03" fill="#F98E47" />
<rect x="229.40" y="371.64" width="5.75" height="11.03" fill="#EE683A" />
<rect x="235.00" y="371.64" width="5.75" height="11.03" fill="#FDB466" />
<rect x="207.00" y="382.52" width="5.75" height="11.03" fill="#A5CFE4" />
<rect x="212.60" y="382.52" width="5.75" height="11.03" fill="#86BAD9" />
<rect x="218.20" y="382.52" width="5.75" height="11.03" fill="#639CCB" />
<rect x="223.80" y="382.52" width="5.75" height="11.03" fill="#F0703B" />
<rect x="229.40" y="382.52" width="5.75" height="11.03" fill="#F98E47" />
<rect x="235.00" y="382.52" width="5.75" height="11.03" fill="#FB9D50" />
<rect x="207.00" y="393.40" width="5.75" height="11.03" fill="#7BB2D6" />
<rect x="212.60" y="393.40" width="5.75" height="11.03" fill="#94C4DF" />
<rect x="218.20" y="393.40" width="5.75" height="11.03" fill="#8CBFDC" />
<rect x="223.80" y="393.40" width="5.75" height="11.03" fill="#F98E47" />
<rect x="229.40" y="393.40" width="5.75" height="11.03" fill="#EE683A" />
<rect x="235.00" y="393.40" width="5.75" height="11.03" fill="#FBA75B" />
<rect x="207.00" y="404.28" width="5.75" height="11.03" fill="#A8D0E5" />
<rect x="212.60" y="404.28" width="5.75" height="11.03" fill="#6FA8D1" />
<rect x="218.20" y="404.28" width="5.75" height="11.03" fill="#86BAD9" />
<rect x="223.80" y="404.28" width="5.75" height="11.03" fill="#EE683A" />
<rect x="229.40" y="404.28" width="5.75" height="11.03" fill="#F0703B" />
<rect x="235.00" y="404.28" width="5.75" height="11.03" fill="#FDBC68" />
<rect x="207.00" y="415.16" width="5.75" height="11.03" fill="#F2F6D8" />
<rect x="212.60" y="415.16" width="5.75" height="11.03" fill="#C5E0EE" />
<rect x="218.20" y="415.16" width="5.75" height="11.03" fill="#36399A" />
<rect x="223.80" y="415.16" width="5.75" height="11.03" fill="#F57F3D" />
<rect x="229.40" y="415.16" width="5.75" height="11.03" fill="#FDBC68" />
<rect x="235.00" y="415.16" width="5.75" height="11.03" fill="#F98E47" />
<rect x="207.00" y="426.04" width="5.75" height="11.03" fill="#A8D0E5" />
<rect x="212.60" y="426.04" width="5.75" height="11.03" fill="#E8F3EA" />
<rect x="218.20" y="426.04" width="5.75" height="11.03" fill="#A80F26" />
<rect x="223.80" y="426.04" width="5.75" height="11.03" fill="#6FA8D1" />
<rect x="229.40" y="426.04" width="5.75" height="11.03" fill="#FDB466" />
<rect x="235.00" y="426.04" width="5.75" height="11.03" fill="#ABD8E8" />
<rect x="207.00" y="436.92" width="5.75" height="11.03" fill="#4575B4" />
<rect x="212.60" y="436.92" width="5.75" height="11.03" fill="#E0EFF3" />
<rect x="218.20" y="436.92" width="5.75" height="11.03" fill="#FFF0A8" />
<rect x="223.80" y="436.92" width="5.75" height="11.03" fill="#B2182B" />
<rect x="229.40" y="436.92" width="5.75" height="11.03" fill="#FDB466" />
<rect x="235.00" y="436.92" width="5.75" height="11.03" fill="#A5D3E6" />
<rect x="207.00" y="447.80" width="5.75" height="11.03" fill="#FFF8C0" />
<rect x="212.60" y="447.80" width="5.75" height="11.03" fill="#A50026" />
<rect x="218.20" y="447.80" width="5.75" height="11.03" fill="#94C4DF" />
<rect x="223.80" y="447.80" width="5.75" height="11.03" fill="#94C4DF" />
<rect x="229.40" y="447.80" width="5.75" height="11.03" fill="#8CBFDC" />
<rect x="235.00" y="447.80" width="5.75" height="11.03" fill="#FDC877" />
<rect x="170.50" y="336.20" width="13.70" height="2.80" fill="#000" />
<rect x="187.20" y="336.20" width="14.00" height="2.80" fill="#000" />
<rect x="208.70" y="336.20" width="13.50" height="2.80" fill="#000" />
<rect x="225.20" y="336.20" width="14.00" height="2.80" fill="#000" />
<text x="179.80" y="337.00" font-size="6.5" fill="#000" font-weight="bold" transform="rotate(-90 179.80 337.00)" >CON</text>
<text x="196.50" y="337.00" font-size="6.5" fill="#000" font-weight="bold" transform="rotate(-90 196.50 337.00)" >HU</text>
<text x="218.30" y="337.00" font-size="6.5" fill="#000" font-weight="bold" transform="rotate(-90 218.30 337.00)" >CTRL</text>
<text x="235.50" y="337.00" font-size="6.5" fill="#000" font-weight="bold" transform="rotate(-90 235.50 337.00)" >SM</text>
<text x="242.00" y="346.90" font-size="5.1" fill="#000" font-style="italic" >Acly</text>
<text x="242.00" y="357.78" font-size="5.1" fill="#000" font-style="italic" >Acaca</text>
<text x="242.00" y="368.66" font-size="5.1" fill="#000" font-style="italic" >Fasn</text>
<text x="242.00" y="379.54" font-size="5.1" fill="#000" font-style="italic" >Scd</text>
<text x="242.00" y="390.42" font-size="5.1" fill="#000" font-style="italic" >Scd2</text>
<text x="242.00" y="401.30" font-size="5.1" fill="#000" font-style="italic" >Elovl1</text>
<text x="242.00" y="412.18" font-size="5.1" fill="#000" font-style="italic" >Elovl6</text>
<text x="242.00" y="423.06" font-size="5.1" fill="#000" font-style="italic" >Elovl7</text>
<text x="242.00" y="433.94" font-size="5.1" fill="#000" font-style="italic" >Plpp1</text>
<text x="242.00" y="444.82" font-size="5.1" fill="#000" font-style="italic" >Plpp2</text>
<text x="242.00" y="455.70" font-size="5.1" fill="#000" font-style="italic" >Dgat2</text>
<defs><linearGradient id="cb2" x1="0" y1="0" x2="0" y2="1"><stop offset="0" stop-color="#A50026"/><stop offset="0.12" stop-color="#D73027"/><stop offset="0.25" stop-color="#F46D43"/><stop offset="0.38" stop-color="#FDAE61"/><stop offset="0.5" stop-color="#FFFFBF"/><stop offset="0.62" stop-color="#ABD9E9"/><stop offset="0.75" stop-color="#74ADD1"/><stop offset="0.88" stop-color="#4575B4"/><stop offset="1" stop-color="#313695"/></linearGradient></defs>
<rect x="263.40" y="339.40" width="2.20" height="39.40" fill="url(#cb2)" />
<text x="266.60" y="343.30" font-size="3.6" fill="#000" >1.5</text>
<text x="266.60" y="349.40" font-size="3.6" fill="#000" >1</text>
<text x="266.60" y="355.30" font-size="3.6" fill="#000" >0.5</text>
<text x="266.60" y="361.30" font-size="3.6" fill="#000" >0</text>
<text x="266.60" y="367.30" font-size="3.6" fill="#000" >-0.5</text>
<text x="266.60" y="373.30" font-size="3.6" fill="#000" >-1</text>
<text x="266.60" y="378.90" font-size="3.6" fill="#000" >-1.5</text>
<text x="206.60" y="475.00" font-size="9" fill="#000" font-style="italic" textLength="208.40" lengthAdjust="spacingAndGlyphs" ><tspan fill="#C00000">Gene </tspan><tspan fill="#1F3864">(</tspan><tspan fill="#000">Log2FC </tspan><tspan fill="#1F3864">CON vs. HU)</tspan><tspan fill="#C00000">(</tspan><tspan fill="#000">Log2FC </tspan><tspan fill="#C00000">CTRL vs. SM)</tspan></text>
<text x="342.00" y="10.50" font-size="14.3" fill="#000" font-weight="bold" stroke="#000" stroke-width="0.25">C</text>
<defs>
<filter id="emn" x="0" y="0" width="100%" height="100%"><feTurbulence type="fractalNoise" baseFrequency="0.42" numOctaves="3" seed="7" result="n"/>
<feColorMatrix in="n" type="matrix" values="0 0 0 0 0  0 0 0 0 0  0 0 0 0 0  1.6 1.6 0 0 -1.55" result="a"/>
<feFlood flood-color="#000"/><feComposite operator="in" in2="a"/></filter>
<filter id="emw" x="0" y="0" width="100%" height="100%"><feTurbulence type="fractalNoise" baseFrequency="0.42" numOctaves="3" seed="23" result="n"/>
<feColorMatrix in="n" type="matrix" values="0 0 0 0 0  0 0 0 0 0  0 0 0 0 0  1.6 1.6 0 0 -1.55" result="a"/>
<feFlood flood-color="#fff"/><feComposite operator="in" in2="a"/></filter>
<filter id="rag" x="-10%" y="-10%" width="120%" height="120%"><feTurbulence type="fractalNoise" baseFrequency="0.35" numOctaves="2" seed="4" result="t"/>
<feDisplacementMap in="SourceGraphic" in2="t" scale="4.5" xChannelSelector="R" yChannelSelector="G"/><feGaussianBlur stdDeviation="0.35"/></filter>
<filter id="rag2" x="-10%" y="-10%" width="120%" height="120%"><feTurbulence type="fractalNoise" baseFrequency="0.12" numOctaves="2" seed="9" result="t"/>
<feDisplacementMap in="SourceGraphic" in2="t" scale="5" xChannelSelector="R" yChannelSelector="G"/><feGaussianBlur stdDeviation="0.4"/></filter>
<filter id="rag3" x="-10%" y="-10%" width="120%" height="120%"><feTurbulence type="fractalNoise" baseFrequency="0.09" numOctaves="2" seed="12" result="t"/>
<feDisplacementMap in="SourceGraphic" in2="t" scale="6" xChannelSelector="R" yChannelSelector="G"/></filter>
<filter id="b1"><feGaussianBlur stdDeviation="0.6"/></filter>
<filter id="b2"><feGaussianBlur stdDeviation="1.4"/></filter>
<clipPath id="cc1"><rect x="359" y="14.1" width="157" height="122.4"/></clipPath>
<clipPath id="cc2"><rect x="526" y="13.9" width="158.4" height="122.1"/></clipPath>
</defs>
<g clip-path="url(#cc1)">
<rect x="359.00" y="14.00" width="157.00" height="122.50" fill="#8C8C8C" />
<path d="M357.4,52.2 C360.3,43.3 369.9,48.0 374.8,50.9 C379.8,53.8 383.1,63.1 387.2,69.5 C391.4,75.9 399.6,83.6 399.6,89.4 C399.6,95.2 394.3,101.8 387.2,104.3 C380.2,106.8 362.4,113.0 357.4,104.3 C352.5,95.6 354.6,61.1 357.4,52.2 Z" fill="#949494" filter="url(#b2)"/>
<path d="M444.3,13.7 C455.1,10.2 508.4,5.8 521.3,13.7 C534.1,21.5 524.2,53.8 521.3,60.8 C518.4,67.9 509.3,57.9 503.9,55.9 C498.5,53.8 494.0,51.1 489.0,48.4 C484.0,45.7 479.5,42.0 474.1,39.7 C468.7,37.5 461.7,39.1 456.7,34.8 C451.8,30.4 433.6,17.2 444.3,13.7 Z" fill="#6E6E6E" filter="url(#b2)"/>
<path d="M454.2,19.9 C457.6,17.6 479.9,17.4 489.0,18.7 C498.1,19.9 505.5,23.0 508.8,27.3 C512.2,31.7 512.2,42.2 508.8,44.7 C505.5,47.2 495.6,44.3 489.0,42.2 C482.4,40.2 474.9,36.0 469.1,32.3 C463.3,28.6 450.9,22.2 454.2,19.9 Z" fill="#5E5E5E" filter="url(#b2)" opacity="0.7"/>
<path d="M479.1,140.3 C473.7,138.0 484.9,129.9 489.0,126.6 C493.1,123.3 498.5,122.3 503.9,120.4 C509.3,118.6 518.4,112.1 521.3,115.4 C524.2,118.8 528.3,136.1 521.3,140.3 C514.2,144.4 484.4,142.5 479.1,140.3 Z" fill="#4C4C4C" filter="url(#b2)"/>
<path d="M501.4,14.9 C503.1,9.1 517.9,8.3 521.3,14.9 C524.6,21.5 522.9,48.8 521.3,54.6 C519.6,60.4 514.6,56.3 511.3,49.7 C508.0,43.1 499.7,20.7 501.4,14.9 Z" fill="#7E7E7E" filter="url(#b2)"/>
<path d="M375.5,103.7 C378.1,99.2 384.5,99.2 391.1,98.4 C397.8,97.7 409.2,97.5 415.2,99.4 C421.3,101.3 423.7,106.4 427.3,109.8 C430.9,113.1 432.1,116.5 436.9,119.4 C441.7,122.3 449.8,125.5 456.2,127.3 C462.6,129.2 472.7,128.8 475.5,130.7 C478.3,132.6 489.1,137.3 473.1,138.7 C457.0,140.0 395.4,140.9 379.1,138.7 C362.8,136.5 376.1,131.2 375.5,125.4 C374.9,119.6 372.9,108.2 375.5,103.7 Z" fill="#E2E2E2" filter="url(#rag)"/>
<clipPath id="llc"><path d="M375.5,103.7 C378.1,99.2 384.5,99.2 391.1,98.4 C397.8,97.7 409.2,97.5 415.2,99.4 C421.3,101.3 423.7,106.4 427.3,109.8 C430.9,113.1 432.1,116.5 436.9,119.4 C441.7,122.3 449.8,125.5 456.2,127.3 C462.6,129.2 472.7,128.8 475.5,130.7 C478.3,132.6 489.1,137.3 473.1,138.7 C457.0,140.0 395.4,140.9 379.1,138.7 C362.8,136.5 376.1,131.2 375.5,125.4 C374.9,119.6 372.9,108.2 375.5,103.7 Z"/></clipPath><g clip-path="url(#llc)">
<circle cx="391.15" cy="124.59" r="0.72" fill="#A8A8A8" opacity="0.85"/>
<circle cx="461.70" cy="136.59" r="0.64" fill="#9A9A9A" opacity="0.85"/>
<circle cx="426.53" cy="106.44" r="0.40" fill="#7A7A7A" opacity="0.85"/>
<circle cx="471.01" cy="114.13" r="0.47" fill="#9A9A9A" opacity="0.85"/>
<circle cx="469.84" cy="124.76" r="0.62" fill="#A8A8A8" opacity="0.85"/>
<circle cx="438.05" cy="98.36" r="0.56" fill="#A8A8A8" opacity="0.85"/>
<circle cx="446.17" cy="122.95" r="0.87" fill="#8A8A8A" opacity="0.85"/>
<circle cx="390.10" cy="129.70" r="0.46" fill="#8A8A8A" opacity="0.85"/>
<circle cx="421.13" cy="119.08" r="0.57" fill="#A8A8A8" opacity="0.85"/>
<circle cx="389.71" cy="123.60" r="0.63" fill="#9A9A9A" opacity="0.85"/>
<circle cx="381.76" cy="104.90" r="0.74" fill="#8A8A8A" opacity="0.85"/>
<circle cx="386.74" cy="116.05" r="0.81" fill="#9A9A9A" opacity="0.85"/>
<circle cx="409.49" cy="102.85" r="0.67" fill="#7A7A7A" opacity="0.85"/>
<circle cx="411.98" cy="115.05" r="0.59" fill="#A8A8A8" opacity="0.85"/>
<circle cx="414.21" cy="98.07" r="0.45" fill="#A8A8A8" opacity="0.85"/>
<circle cx="374.29" cy="99.80" r="0.70" fill="#9A9A9A" opacity="0.85"/>
<circle cx="433.44" cy="109.75" r="0.89" fill="#8A8A8A" opacity="0.85"/>
<circle cx="392.79" cy="103.80" r="0.57" fill="#7A7A7A" opacity="0.85"/>
<circle cx="410.05" cy="120.89" r="0.55" fill="#8A8A8A" opacity="0.85"/>
<circle cx="391.54" cy="133.93" r="0.49" fill="#A8A8A8" opacity="0.85"/>
<circle cx="412.99" cy="124.33" r="0.74" fill="#9A9A9A" opacity="0.85"/>
<circle cx="416.33" cy="136.56" r="0.88" fill="#8A8A8A" opacity="0.85"/>
<circle cx="465.85" cy="116.64" r="0.59" fill="#9A9A9A" opacity="0.85"/>
<circle cx="471.37" cy="106.83" r="0.68" fill="#A8A8A8" opacity="0.85"/>
<circle cx="457.75" cy="127.96" r="0.64" fill="#7A7A7A" opacity="0.85"/>
<circle cx="379.43" cy="107.32" r="0.54" fill="#A8A8A8" opacity="0.85"/>
<circle cx="399.85" cy="112.78" r="0.84" fill="#9A9A9A" opacity="0.85"/>
<circle cx="476.28" cy="126.83" r="0.64" fill="#7A7A7A" opacity="0.85"/>
<circle cx="388.52" cy="123.01" r="0.86" fill="#A8A8A8" opacity="0.85"/>
<circle cx="376.94" cy="105.48" r="0.82" fill="#9A9A9A" opacity="0.85"/>
<circle cx="465.67" cy="121.05" r="0.61" fill="#A8A8A8" opacity="0.85"/>
<circle cx="406.03" cy="118.37" r="0.54" fill="#8A8A8A" opacity="0.85"/>
<circle cx="413.77" cy="102.04" r="0.76" fill="#7A7A7A" opacity="0.85"/>
<circle cx="435.74" cy="122.75" r="0.83" fill="#A8A8A8" opacity="0.85"/>
<circle cx="400.75" cy="113.22" r="0.88" fill="#9A9A9A" opacity="0.85"/>
<circle cx="387.89" cy="100.79" r="0.45" fill="#8A8A8A" opacity="0.85"/>
<circle cx="440.74" cy="128.45" r="0.44" fill="#8A8A8A" opacity="0.85"/>
<circle cx="442.15" cy="102.06" r="0.67" fill="#7A7A7A" opacity="0.85"/>
<circle cx="415.21" cy="132.52" r="0.71" fill="#9A9A9A" opacity="0.85"/>
<circle cx="393.13" cy="112.11" r="0.75" fill="#8A8A8A" opacity="0.85"/>
<circle cx="436.81" cy="117.20" r="0.77" fill="#8A8A8A" opacity="0.85"/>
<circle cx="456.24" cy="97.31" r="0.63" fill="#8A8A8A" opacity="0.85"/>
<circle cx="415.39" cy="119.68" r="0.83" fill="#9A9A9A" opacity="0.85"/>
<circle cx="400.30" cy="124.87" r="0.56" fill="#8A8A8A" opacity="0.85"/>
<circle cx="399.45" cy="103.25" r="0.76" fill="#7A7A7A" opacity="0.85"/>
<circle cx="459.03" cy="129.12" r="0.65" fill="#8A8A8A" opacity="0.85"/>
<circle cx="430.72" cy="99.40" r="0.70" fill="#7A7A7A" opacity="0.85"/>
<circle cx="474.58" cy="109.41" r="0.75" fill="#9A9A9A" opacity="0.85"/>
<circle cx="380.63" cy="129.59" r="0.89" fill="#7A7A7A" opacity="0.85"/>
<circle cx="380.79" cy="123.32" r="0.61" fill="#8A8A8A" opacity="0.85"/>
<circle cx="441.78" cy="122.06" r="0.80" fill="#A8A8A8" opacity="0.85"/>
<circle cx="426.52" cy="134.88" r="0.74" fill="#A8A8A8" opacity="0.85"/>
<circle cx="422.97" cy="117.52" r="0.84" fill="#8A8A8A" opacity="0.85"/>
<circle cx="397.45" cy="98.95" r="0.62" fill="#9A9A9A" opacity="0.85"/>
<circle cx="402.66" cy="120.58" r="0.60" fill="#A8A8A8" opacity="0.85"/>
<circle cx="421.42" cy="106.46" r="0.59" fill="#A8A8A8" opacity="0.85"/>
<circle cx="397.69" cy="133.59" r="0.73" fill="#8A8A8A" opacity="0.85"/>
<circle cx="423.89" cy="116.68" r="0.76" fill="#9A9A9A" opacity="0.85"/>
<circle cx="455.07" cy="122.07" r="0.78" fill="#7A7A7A" opacity="0.85"/>
<circle cx="399.51" cy="133.67" r="0.59" fill="#A8A8A8" opacity="0.85"/>
<circle cx="459.78" cy="135.55" r="0.89" fill="#8A8A8A" opacity="0.85"/>
<circle cx="390.83" cy="105.08" r="0.84" fill="#9A9A9A" opacity="0.85"/>
<circle cx="383.43" cy="104.01" r="0.66" fill="#A8A8A8" opacity="0.85"/>
<circle cx="451.20" cy="115.49" r="0.45" fill="#9A9A9A" opacity="0.85"/>
<circle cx="447.21" cy="105.23" r="0.57" fill="#9A9A9A" opacity="0.85"/>
<circle cx="401.13" cy="135.05" r="0.56" fill="#7A7A7A" opacity="0.85"/>
<circle cx="472.28" cy="135.69" r="0.85" fill="#9A9A9A" opacity="0.85"/>
<circle cx="398.79" cy="124.53" r="0.76" fill="#9A9A9A" opacity="0.85"/>
<circle cx="471.84" cy="115.68" r="0.62" fill="#7A7A7A" opacity="0.85"/>
<circle cx="443.64" cy="123.71" r="0.71" fill="#8A8A8A" opacity="0.85"/>
<circle cx="393.60" cy="135.43" r="0.42" fill="#7A7A7A" opacity="0.85"/>
<circle cx="375.97" cy="117.05" r="0.42" fill="#A8A8A8" opacity="0.85"/>
<circle cx="446.84" cy="106.61" r="0.40" fill="#9A9A9A" opacity="0.85"/>
<circle cx="383.83" cy="109.36" r="0.63" fill="#8A8A8A" opacity="0.85"/>
<circle cx="412.48" cy="102.40" r="0.80" fill="#A8A8A8" opacity="0.85"/>
<circle cx="429.06" cy="98.97" r="0.49" fill="#A8A8A8" opacity="0.85"/>
<circle cx="465.78" cy="106.77" r="0.69" fill="#A8A8A8" opacity="0.85"/>
<circle cx="465.89" cy="97.70" r="0.69" fill="#8A8A8A" opacity="0.85"/>
<circle cx="419.32" cy="130.31" r="0.89" fill="#9A9A9A" opacity="0.85"/>
<circle cx="389.82" cy="116.89" r="0.66" fill="#A8A8A8" opacity="0.85"/>
<circle cx="423.00" cy="129.00" r="0.57" fill="#7A7A7A" opacity="0.85"/>
<circle cx="389.96" cy="108.52" r="0.72" fill="#8A8A8A" opacity="0.85"/>
<circle cx="466.58" cy="99.84" r="0.43" fill="#8A8A8A" opacity="0.85"/>
<circle cx="444.51" cy="104.59" r="0.53" fill="#8A8A8A" opacity="0.85"/>
<circle cx="390.86" cy="120.41" r="0.54" fill="#A8A8A8" opacity="0.85"/>
<circle cx="390.45" cy="101.16" r="0.87" fill="#7A7A7A" opacity="0.85"/>
<circle cx="416.48" cy="124.63" r="0.76" fill="#A8A8A8" opacity="0.85"/>
<circle cx="382.14" cy="130.09" r="0.51" fill="#8A8A8A" opacity="0.85"/>
<circle cx="449.68" cy="121.27" r="0.72" fill="#9A9A9A" opacity="0.85"/>
<circle cx="376.19" cy="111.74" r="0.64" fill="#A8A8A8" opacity="0.85"/>
<circle cx="457.90" cy="133.25" r="0.74" fill="#9A9A9A" opacity="0.85"/>
<circle cx="444.82" cy="122.91" r="0.71" fill="#8A8A8A" opacity="0.85"/>
<circle cx="474.90" cy="112.61" r="0.87" fill="#7A7A7A" opacity="0.85"/>
<circle cx="375.17" cy="111.08" r="0.71" fill="#8A8A8A" opacity="0.85"/>
<circle cx="452.59" cy="122.87" r="0.48" fill="#A8A8A8" opacity="0.85"/>
<circle cx="395.51" cy="136.92" r="0.68" fill="#A8A8A8" opacity="0.85"/>
<circle cx="450.96" cy="132.31" r="0.58" fill="#8A8A8A" opacity="0.85"/>
<circle cx="398.95" cy="120.97" r="0.58" fill="#7A7A7A" opacity="0.85"/>
<circle cx="433.58" cy="136.77" r="0.86" fill="#8A8A8A" opacity="0.85"/>
<circle cx="476.37" cy="126.60" r="0.77" fill="#9A9A9A" opacity="0.85"/>
<circle cx="470.48" cy="117.92" r="0.85" fill="#7A7A7A" opacity="0.85"/>
<circle cx="386.78" cy="106.60" r="0.61" fill="#A8A8A8" opacity="0.85"/>
<circle cx="454.17" cy="127.06" r="0.73" fill="#7A7A7A" opacity="0.85"/>
<circle cx="393.18" cy="130.08" r="0.51" fill="#A8A8A8" opacity="0.85"/>
<circle cx="401.61" cy="118.51" r="0.63" fill="#8A8A8A" opacity="0.85"/>
<circle cx="456.07" cy="110.44" r="0.62" fill="#7A7A7A" opacity="0.85"/>
<circle cx="450.60" cy="126.23" r="0.90" fill="#A8A8A8" opacity="0.85"/>
<circle cx="388.80" cy="98.31" r="0.79" fill="#7A7A7A" opacity="0.85"/>
<circle cx="433.95" cy="136.91" r="0.50" fill="#9A9A9A" opacity="0.85"/>
<circle cx="464.47" cy="119.13" r="0.78" fill="#8A8A8A" opacity="0.85"/>
</g>
<path d="M381.0,138.7 C372.0,135.5 382.6,124.1 385.1,119.4 C387.6,114.7 391.7,111.8 396.0,110.5 C400.2,109.2 405.6,110.1 410.4,111.4 C415.2,112.8 420.9,115.9 424.9,118.7 C428.9,121.4 432.1,124.5 434.5,127.8 C436.9,131.2 448.3,136.9 439.3,138.7 C430.4,140.5 390.1,141.9 381.0,138.7 Z" fill="#8E8E8E" filter="url(#b1)"/>
<path d="M439.8,138.7 C433.6,137.3 435.4,131.3 438.1,130.2 C440.9,129.2 450.4,131.4 456.2,132.2 C462.0,132.9 469.9,133.5 473.1,134.6 C476.3,135.7 481.0,138.0 475.5,138.7 C469.9,139.4 446.0,140.1 439.8,138.7 Z" fill="#BDBDBD" filter="url(#rag)"/>
<path d="M356.2,48.4 C357.9,48.3 362.4,48.7 366.1,47.7 C369.9,46.7 374.8,44.7 378.5,42.2 C382.3,39.7 385.8,35.9 388.5,32.8 C391.2,29.7 393.2,26.7 394.7,23.6 C396.1,20.6 396.7,16.0 397.2,14.4" fill="none" stroke="#F2F2F2" stroke-width="5.0" stroke-linecap="round" stroke-linejoin="round" filter="url(#rag)" opacity="1"/>
<path d="M357.4,44.7 C358.5,46.0 361.2,51.4 363.7,52.2 C366.1,52.9 370.9,49.7 372.3,49.2" fill="none" stroke="#F2F2F2" stroke-width="6.5" stroke-linecap="round" stroke-linejoin="round" filter="url(#rag)" opacity="1"/>
<path d="M397.2,16.2 C398.8,16.9 403.8,19.3 407.1,20.4 C410.4,21.5 414.1,21.9 417.0,22.9 C419.9,23.8 421.6,25.7 424.5,26.1 C427.4,26.5 431.7,26.0 434.4,25.4 C437.1,24.7 439.6,22.9 440.6,22.4" fill="none" stroke="#E4E4E4" stroke-width="2.6" stroke-linecap="round" stroke-linejoin="round" filter="url(#rag)" opacity="1"/>
<path d="M377.3,50.2 C377.9,51.7 379.4,56.0 381.0,59.6 C382.7,63.2 384.1,67.3 387.2,72.0 C390.3,76.8 395.5,83.4 399.6,88.1 C403.8,92.9 408.3,96.8 412.1,100.6 C415.8,104.3 418.5,107.5 422.0,110.5 C425.5,113.5 428.6,116.0 433.1,118.7 C437.7,121.4 444.3,124.9 449.3,126.6 C454.2,128.4 460.7,128.7 462.9,129.1" fill="none" stroke="#F2F2F2" stroke-width="4.2" stroke-linecap="round" stroke-linejoin="round" filter="url(#rag)" opacity="1"/>
<path d="M508.8,60.8 C509.8,63.9 514.1,73.9 514.3,79.5 C514.6,85.0 510.4,90.2 510.3,94.4 C510.3,98.5 512.3,101.0 513.8,104.3 C515.3,107.6 518.4,112.6 519.3,114.2" fill="none" stroke="#F2F2F2" stroke-width="8.0" stroke-linecap="round" stroke-linejoin="round" filter="url(#rag)" opacity="1"/>
<path d="M489.0,19.9 C491.1,21.5 497.3,27.3 501.4,29.8 C505.5,32.3 511.7,34.0 513.8,34.8" fill="none" stroke="#BEBEBE" stroke-width="1.8" stroke-linecap="round" stroke-linejoin="round" filter="url(#rag)" opacity="1"/>
<path d="M403.4,55.9 C403.0,52.2 404.5,49.3 407.6,47.2 C410.7,45.1 417.1,43.7 422.0,43.5 C426.9,43.3 431.5,44.3 436.9,46.0 C442.2,47.6 449.3,50.7 454.2,53.4 C459.2,56.1 463.7,58.8 466.7,62.1 C469.6,65.4 471.1,69.5 472.1,73.3 C473.1,77.0 473.8,81.3 472.9,84.4 C471.9,87.5 470.2,90.4 466.7,91.9 C463.1,93.3 456.7,93.7 451.8,93.1 C446.8,92.5 441.8,90.4 436.9,88.1 C431.9,85.9 426.5,82.6 422.0,79.5 C417.4,76.4 412.7,73.5 409.6,69.5 C406.5,65.6 403.7,59.6 403.4,55.9 Z" fill="#BEBEBE" stroke="#2A2A2A" stroke-width="1.2" filter="url(#rag3)"/>
<path d="M433.1,64.6 C435.8,64.4 444.5,65.4 449.3,65.3 C454.0,65.2 459.7,63.8 461.7,64.1 C463.7,64.4 463.3,66.5 461.2,67.1 C459.1,67.6 453.9,67.6 449.3,67.5 C444.6,67.5 436.1,67.1 433.4,66.6 C430.7,66.1 430.5,64.8 433.1,64.6 Z" fill="#9A9A9A" stroke="#3A3A3A" stroke-width="0.6"/>
<path d="M459.2,77.0 C460.4,77.4 464.8,78.0 466.7,79.5 C468.5,80.9 470.4,84.0 470.4,85.7 C470.4,87.3 467.3,88.8 466.7,89.4" fill="none" stroke="#2A2A2A" stroke-width="0.9"/>
<circle cx="419.99" cy="57.62" r="3.10" fill="#222" filter="url(#b1)"/>
<circle cx="444.81" cy="51.66" r="3.00" fill="#222" filter="url(#b1)"/>
<circle cx="444.32" cy="70.03" r="3.00" fill="#222" filter="url(#b1)"/>
<circle cx="442.33" cy="60.85" r="2.00" fill="#222" filter="url(#b1)"/>
<circle cx="459.21" cy="81.94" r="1.50" fill="#222" filter="url(#b1)"/>
<circle cx="482.13" cy="45.10" r="2.40" fill="#555" filter="url(#b1)"/>
<circle cx="496.62" cy="51.16" r="1.85" fill="#555" filter="url(#b1)"/>
<circle cx="497.83" cy="44.78" r="2.07" fill="#5C5C5C" filter="url(#b1)"/>
<circle cx="463.46" cy="31.12" r="1.85" fill="#5C5C5C" filter="url(#b1)"/>
<circle cx="465.60" cy="32.80" r="2.47" fill="#4E4E4E" filter="url(#b1)"/>
<circle cx="451.78" cy="33.72" r="1.74" fill="#4E4E4E" filter="url(#b1)"/>
<circle cx="446.27" cy="23.32" r="2.47" fill="#5C5C5C" filter="url(#b1)"/>
<circle cx="492.99" cy="51.63" r="1.77" fill="#5C5C5C" filter="url(#b1)"/>
<circle cx="461.03" cy="39.06" r="2.14" fill="#5C5C5C" filter="url(#b1)"/>
<circle cx="453.96" cy="36.35" r="1.80" fill="#4E4E4E" filter="url(#b1)"/>
<circle cx="459.14" cy="32.10" r="1.77" fill="#5C5C5C" filter="url(#b1)"/>
<circle cx="456.71" cy="30.84" r="2.42" fill="#555" filter="url(#b1)"/>
<circle cx="480.21" cy="43.99" r="1.67" fill="#636363" filter="url(#b1)"/>
<circle cx="493.94" cy="47.05" r="1.92" fill="#4E4E4E" filter="url(#b1)"/>
<circle cx="469.83" cy="34.40" r="1.86" fill="#555" filter="url(#b1)"/>
<circle cx="502.05" cy="48.97" r="2.00" fill="#4E4E4E" filter="url(#b1)"/>
<circle cx="464.50" cy="36.46" r="1.61" fill="#555" filter="url(#b1)"/>
<circle cx="487.23" cy="45.89" r="2.55" fill="#555" filter="url(#b1)"/>
<circle cx="491.68" cy="50.81" r="2.54" fill="#636363" filter="url(#b1)"/>
<circle cx="475.47" cy="44.04" r="1.85" fill="#4E4E4E" filter="url(#b1)"/>
<circle cx="448.17" cy="31.79" r="2.40" fill="#636363" filter="url(#b1)"/>
<circle cx="444.29" cy="32.30" r="1.69" fill="#636363" filter="url(#b1)"/>
<circle cx="473.27" cy="37.69" r="1.75" fill="#636363" filter="url(#b1)"/>
<circle cx="501.19" cy="50.57" r="1.91" fill="#636363" filter="url(#b1)"/>
<circle cx="461.46" cy="37.55" r="2.23" fill="#636363" filter="url(#b1)"/>
<circle cx="504.36" cy="47.85" r="1.65" fill="#4E4E4E" filter="url(#b1)"/>
<circle cx="443.11" cy="29.71" r="1.94" fill="#636363" filter="url(#b1)"/>
<circle cx="469.75" cy="36.91" r="1.66" fill="#555" filter="url(#b1)"/>
<circle cx="492.21" cy="44.85" r="1.81" fill="#5C5C5C" filter="url(#b1)"/>
<circle cx="482.82" cy="45.85" r="1.71" fill="#4E4E4E" filter="url(#b1)"/>
<circle cx="462.76" cy="30.40" r="2.02" fill="#5C5C5C" filter="url(#b1)"/>
<circle cx="472.01" cy="43.77" r="2.45" fill="#4E4E4E" filter="url(#b1)"/>
<circle cx="504.16" cy="53.23" r="1.92" fill="#636363" filter="url(#b1)"/>
<circle cx="458.80" cy="32.41" r="1.75" fill="#4E4E4E" filter="url(#b1)"/>
<circle cx="495.74" cy="47.59" r="0.61" fill="#D8D8D8" filter="url(#b1)" opacity="0.8"/>
<circle cx="505.92" cy="56.86" r="0.61" fill="#D8D8D8" filter="url(#b1)" opacity="0.8"/>
<circle cx="472.53" cy="38.05" r="0.83" fill="#D8D8D8" filter="url(#b1)" opacity="0.8"/>
<circle cx="470.45" cy="30.22" r="0.98" fill="#D8D8D8" filter="url(#b1)" opacity="0.8"/>
<circle cx="463.45" cy="35.53" r="0.52" fill="#D8D8D8" filter="url(#b1)" opacity="0.8"/>
<circle cx="459.77" cy="33.63" r="0.90" fill="#D8D8D8" filter="url(#b1)" opacity="0.8"/>
<circle cx="494.98" cy="43.15" r="1.09" fill="#D8D8D8" filter="url(#b1)" opacity="0.8"/>
<circle cx="491.00" cy="52.27" r="0.70" fill="#D8D8D8" filter="url(#b1)" opacity="0.8"/>
<circle cx="452.72" cy="35.33" r="0.78" fill="#D8D8D8" filter="url(#b1)" opacity="0.8"/>
<circle cx="491.06" cy="42.53" r="0.66" fill="#D8D8D8" filter="url(#b1)" opacity="0.8"/>
<circle cx="458.22" cy="32.09" r="0.90" fill="#D8D8D8" filter="url(#b1)" opacity="0.8"/>
<circle cx="461.54" cy="29.91" r="0.71" fill="#D8D8D8" filter="url(#b1)" opacity="0.8"/>
<circle cx="503.05" cy="48.60" r="1.05" fill="#D8D8D8" filter="url(#b1)" opacity="0.8"/>
<circle cx="452.39" cy="35.43" r="0.77" fill="#D8D8D8" filter="url(#b1)" opacity="0.8"/>
<circle cx="462.46" cy="31.22" r="0.59" fill="#D8D8D8" filter="url(#b1)" opacity="0.8"/>
<circle cx="504.72" cy="46.02" r="0.72" fill="#D8D8D8" filter="url(#b1)" opacity="0.8"/>
<circle cx="496.40" cy="44.00" r="0.55" fill="#D8D8D8" filter="url(#b1)" opacity="0.8"/>
<circle cx="484.43" cy="41.28" r="0.87" fill="#D8D8D8" filter="url(#b1)" opacity="0.8"/>
<circle cx="503.64" cy="50.51" r="1.06" fill="#D8D8D8" filter="url(#b1)" opacity="0.8"/>
<circle cx="459.52" cy="33.43" r="1.02" fill="#D8D8D8" filter="url(#b1)" opacity="0.8"/>
<circle cx="460.07" cy="40.51" r="0.62" fill="#D8D8D8" filter="url(#b1)" opacity="0.8"/>
<circle cx="479.83" cy="42.65" r="0.61" fill="#D8D8D8" filter="url(#b1)" opacity="0.8"/>
<circle cx="489.12" cy="39.50" r="0.93" fill="#D8D8D8" filter="url(#b1)" opacity="0.8"/>
<circle cx="510.08" cy="60.26" r="0.60" fill="#D8D8D8" filter="url(#b1)" opacity="0.8"/>
<circle cx="497.97" cy="41.97" r="1.08" fill="#D8D8D8" filter="url(#b1)" opacity="0.8"/>
<circle cx="472.09" cy="38.38" r="0.75" fill="#D8D8D8" filter="url(#b1)" opacity="0.8"/>
<circle cx="463.60" cy="36.76" r="0.54" fill="#D8D8D8" filter="url(#b1)" opacity="0.8"/>
<circle cx="453.68" cy="33.65" r="0.72" fill="#D8D8D8" filter="url(#b1)" opacity="0.8"/>
<circle cx="465.38" cy="41.95" r="1.01" fill="#D8D8D8" filter="url(#b1)" opacity="0.8"/>
<circle cx="499.84" cy="51.66" r="0.83" fill="#D8D8D8" filter="url(#b1)" opacity="0.8"/>
<circle cx="505.82" cy="51.90" r="0.68" fill="#D8D8D8" filter="url(#b1)" opacity="0.8"/>
<circle cx="458.75" cy="32.50" r="1.07" fill="#D8D8D8" filter="url(#b1)" opacity="0.8"/>
<circle cx="457.59" cy="29.54" r="0.58" fill="#D8D8D8" filter="url(#b1)" opacity="0.8"/>
<circle cx="467.05" cy="36.61" r="0.82" fill="#D8D8D8" filter="url(#b1)" opacity="0.8"/>
<circle cx="468.56" cy="30.91" r="0.73" fill="#D8D8D8" filter="url(#b1)" opacity="0.8"/>
<circle cx="469.50" cy="31.94" r="0.58" fill="#D8D8D8" filter="url(#b1)" opacity="0.8"/>
<circle cx="446.38" cy="32.33" r="0.90" fill="#D8D8D8" filter="url(#b1)" opacity="0.8"/>
<circle cx="463.63" cy="31.56" r="1.05" fill="#D8D8D8" filter="url(#b1)" opacity="0.8"/>
<circle cx="474.66" cy="35.96" r="1.03" fill="#D8D8D8" filter="url(#b1)" opacity="0.8"/>
<circle cx="477.05" cy="38.53" r="1.09" fill="#D8D8D8" filter="url(#b1)" opacity="0.8"/>
<circle cx="492.20" cy="29.91" r="1.12" fill="#1E1E1E" filter="url(#b1)"/>
<circle cx="487.28" cy="40.79" r="0.80" fill="#1E1E1E" filter="url(#b1)"/>
<circle cx="496.73" cy="37.49" r="0.88" fill="#1E1E1E" filter="url(#b1)"/>
<circle cx="481.30" cy="16.57" r="1.27" fill="#1E1E1E" filter="url(#b1)"/>
<circle cx="483.84" cy="42.96" r="0.79" fill="#1E1E1E" filter="url(#b1)"/>
<circle cx="471.07" cy="35.14" r="1.28" fill="#1E1E1E" filter="url(#b1)"/>
<circle cx="481.05" cy="17.16" r="0.78" fill="#1E1E1E" filter="url(#b1)"/>
<circle cx="487.66" cy="29.93" r="1.04" fill="#1E1E1E" filter="url(#b1)"/>
<circle cx="480.96" cy="29.75" r="0.72" fill="#1E1E1E" filter="url(#b1)"/>
<circle cx="492.06" cy="40.47" r="1.13" fill="#1E1E1E" filter="url(#b1)"/>
<circle cx="482.86" cy="30.28" r="1.30" fill="#1E1E1E" filter="url(#b1)"/>
<circle cx="493.32" cy="41.04" r="1.23" fill="#1E1E1E" filter="url(#b1)"/>
<circle cx="510.28" cy="16.47" r="0.78" fill="#1E1E1E" filter="url(#b1)"/>
<circle cx="482.71" cy="36.53" r="1.07" fill="#1E1E1E" filter="url(#b1)"/>
<circle cx="472.46" cy="20.51" r="0.74" fill="#555" filter="url(#b1)"/>
<circle cx="474.57" cy="86.33" r="0.53" fill="#6A6A6A" filter="url(#b1)"/>
<circle cx="445.06" cy="97.40" r="0.58" fill="#555" filter="url(#b1)"/>
<circle cx="443.89" cy="19.11" r="1.04" fill="#6A6A6A" filter="url(#b1)"/>
<circle cx="451.47" cy="97.79" r="1.17" fill="#555" filter="url(#b1)"/>
<circle cx="434.08" cy="123.77" r="0.77" fill="#6A6A6A" filter="url(#b1)"/>
<circle cx="464.93" cy="101.36" r="1.13" fill="#6A6A6A" filter="url(#b1)"/>
<circle cx="487.66" cy="25.12" r="1.09" fill="#555" filter="url(#b1)"/>
<circle cx="479.80" cy="85.32" r="0.95" fill="#6A6A6A" filter="url(#b1)"/>
<circle cx="500.07" cy="34.05" r="0.83" fill="#555" filter="url(#b1)"/>
<circle cx="496.68" cy="130.91" r="0.88" fill="#6A6A6A" filter="url(#b1)"/>
<circle cx="450.08" cy="112.11" r="0.55" fill="#5E5E5E" filter="url(#b1)"/>
<circle cx="401.05" cy="27.35" r="0.54" fill="#5E5E5E" filter="url(#b1)"/>
<circle cx="411.18" cy="67.49" r="0.55" fill="#6A6A6A" filter="url(#b1)"/>
<circle cx="467.84" cy="23.11" r="1.09" fill="#5E5E5E" filter="url(#b1)"/>
<circle cx="454.50" cy="113.57" r="0.58" fill="#5E5E5E" filter="url(#b1)"/>
<circle cx="512.90" cy="99.74" r="0.81" fill="#5E5E5E" filter="url(#b1)"/>
<circle cx="453.89" cy="65.70" r="0.61" fill="#555" filter="url(#b1)"/>
<circle cx="392.73" cy="82.21" r="0.96" fill="#555" filter="url(#b1)"/>
<circle cx="371.01" cy="24.12" r="0.90" fill="#555" filter="url(#b1)"/>
<circle cx="421.26" cy="90.17" r="0.51" fill="#5E5E5E" filter="url(#b1)"/>
<circle cx="408.34" cy="87.43" r="0.84" fill="#555" filter="url(#b1)"/>
<circle cx="417.51" cy="23.91" r="0.99" fill="#5E5E5E" filter="url(#b1)"/>
<circle cx="447.43" cy="96.50" r="0.70" fill="#555" filter="url(#b1)"/>
<circle cx="444.55" cy="43.14" r="0.54" fill="#5E5E5E" filter="url(#b1)"/>
<circle cx="399.04" cy="104.97" r="0.86" fill="#5E5E5E" filter="url(#b1)"/>
<circle cx="484.27" cy="118.14" r="0.82" fill="#6A6A6A" filter="url(#b1)"/>
<circle cx="387.52" cy="100.62" r="0.96" fill="#5E5E5E" filter="url(#b1)"/>
<circle cx="448.14" cy="21.60" r="1.10" fill="#555" filter="url(#b1)"/>
<circle cx="451.33" cy="45.24" r="1.11" fill="#6A6A6A" filter="url(#b1)"/>
<circle cx="508.16" cy="29.96" r="0.87" fill="#555" filter="url(#b1)"/>
<circle cx="471.50" cy="23.67" r="0.61" fill="#6A6A6A" filter="url(#b1)"/>
<circle cx="464.74" cy="43.43" r="0.58" fill="#555" filter="url(#b1)"/>
<circle cx="435.55" cy="42.08" r="0.99" fill="#6A6A6A" filter="url(#b1)"/>
<circle cx="414.45" cy="44.83" r="0.73" fill="#555" filter="url(#b1)"/>
<circle cx="468.47" cy="110.27" r="0.76" fill="#555" filter="url(#b1)"/>
<circle cx="487.82" cy="92.99" r="1.06" fill="#6A6A6A" filter="url(#b1)"/>
<circle cx="507.85" cy="59.66" r="0.53" fill="#555" filter="url(#b1)"/>
<circle cx="392.99" cy="38.47" r="0.54" fill="#5E5E5E" filter="url(#b1)"/>
<circle cx="365.03" cy="41.02" r="0.53" fill="#6A6A6A" filter="url(#b1)"/>
<circle cx="461.68" cy="58.07" r="0.80" fill="#6A6A6A" filter="url(#b1)"/>
<circle cx="496.85" cy="89.67" r="0.80" fill="#6A6A6A" filter="url(#b1)"/>
<circle cx="431.01" cy="39.76" r="0.96" fill="#5E5E5E" filter="url(#b1)"/>
<circle cx="417.58" cy="62.40" r="1.12" fill="#5E5E5E" filter="url(#b1)"/>
<circle cx="444.88" cy="30.27" r="1.07" fill="#6A6A6A" filter="url(#b1)"/>
<circle cx="498.92" cy="67.05" r="2.60" fill="#2A2A2A" />
<circle cx="498.92" cy="67.05" r="1.10" fill="#CFCFCF" />
<circle cx="466.65" cy="62.58" r="1.80" fill="#FFFFFF" />
<circle cx="487.01" cy="74.99" r="1.40" fill="#F0F0F0" />
<rect x="359.00" y="14.00" width="157.00" height="122.50" fill="#000" filter="url(#emn)" opacity="0.42"/>
<rect x="359.00" y="14.00" width="157.00" height="122.50" fill="#fff" filter="url(#emw)" opacity="0.28"/>
</g>
<rect x="359.40" y="14.50" width="156.20" height="121.80" fill="none" stroke="#000" stroke-width="0.9"/>
<text x="362.50" y="26.80" font-size="10" fill="#000" font-weight="bold" textLength="26.60" lengthAdjust="spacingAndGlyphs" stroke="#000" stroke-width="0.3">CTRL</text>
<rect x="364.90" y="127.90" width="16.90" height="2.40" fill="#000" />
<path d="M468.6,64.1 L483.4,67.7 L474.9,69.6 L474.3,78.2 Z" fill="#FF1A1A" />
<path d="M491.0,76.5 L505.7,80.2 L497.3,82.0 L496.7,90.6 Z" fill="#FF1A1A" />
<g clip-path="url(#cc2)">
<rect x="526.00" y="13.80" width="158.50" height="122.20" fill="#D4D4D4" />
<path d="M524.8,12.4 C532.2,8.8 563.2,10.8 569.4,12.4 C575.6,14.0 566.2,19.2 562.2,22.0 C558.2,24.9 551.5,27.3 545.3,29.3 C539.1,31.3 528.2,36.9 524.8,34.1 C521.4,31.3 517.4,16.0 524.8,12.4 Z" fill="#9C9C9C" filter="url(#b1)"/>
<path d="M674.2,12.4 C676.2,10.0 686.3,-3.2 688.7,12.4 C691.1,28.0 690.7,90.9 688.7,106.1 C686.7,121.4 679.6,106.1 676.6,103.7 C673.6,101.3 671.4,97.3 670.6,91.7 C669.8,86.1 671.2,77.8 671.8,70.2 C672.4,62.7 673.4,53.4 674.2,46.1 C675.0,38.9 676.6,32.5 676.6,26.9 C676.6,21.2 672.2,14.8 674.2,12.4 Z" fill="#8E8E8E" filter="url(#b1)"/>
<path d="M524.8,121.8 C526.4,118.4 530.0,119.8 534.5,118.2 C538.9,116.6 545.7,112.8 551.3,112.2 C556.9,111.6 563.0,113.0 568.2,114.6 C573.4,116.2 578.6,119.2 582.7,121.8 C586.7,124.4 589.3,127.4 592.3,130.2 C595.3,133.1 612.0,137.3 600.7,138.7 C589.5,140.1 537.5,141.5 524.8,138.7 C512.2,135.9 523.2,125.2 524.8,121.8 Z" fill="#808080" filter="url(#b1)"/>
<path d="M651.3,114.6 C651.7,112.0 652.7,108.0 654.9,106.1 C657.1,104.3 661.6,102.9 664.6,103.3 C667.6,103.7 671.3,106.1 673.0,108.6 C674.7,111.0 675.3,115.4 674.7,118.2 C674.1,121.0 672.1,124.1 669.4,125.4 C666.7,126.7 661.4,126.5 658.6,125.9 C655.7,125.3 653.7,123.7 652.5,121.8 C651.3,119.9 650.9,117.2 651.3,114.6 Z" fill="#8C8C8C" filter="url(#b1)"/>
<path d="M664.6,138.7 C661.0,136.7 665.0,129.4 667.0,126.6 C669.0,123.8 673.0,123.0 676.6,121.8 C680.2,120.6 686.7,116.6 688.7,119.4 C690.7,122.2 692.7,135.5 688.7,138.7 C684.7,141.9 668.2,140.7 664.6,138.7 Z" fill="#909090" filter="url(#b1)"/>
<path d="M645.3,138.7 C642.9,136.9 646.1,129.8 647.7,127.8 C649.3,125.8 652.5,125.8 654.9,126.6 C657.3,127.4 661.0,130.6 662.2,132.7 C663.4,134.7 665.0,137.7 662.2,138.7 C659.4,139.7 647.7,140.5 645.3,138.7 Z" fill="#A0A0A0" filter="url(#b1)"/>
<path d="M642.8,137.0 C635.7,135.4 642.8,130.0 643.7,127.5 C644.7,125.1 646.4,123.3 648.5,122.3 C650.5,121.3 653.8,120.3 656.1,121.3 C658.3,122.4 659.5,128.7 661.7,128.5 C664.0,128.2 667.4,122.8 669.3,119.9 C671.2,117.0 671.5,113.0 673.1,110.9 C674.7,108.9 676.6,108.5 678.8,107.6 C681.0,106.6 685.1,100.3 686.4,105.2 C687.7,110.1 693.7,131.7 686.4,137.0 C679.1,142.3 649.9,138.6 642.8,137.0 Z" fill="#9C9C9C" filter="url(#b1)"/>
<path d="M657.5,122.3 C657.6,121.0 659.5,119.5 660.3,120.4 C661.1,121.3 662.3,126.2 662.2,127.5 C662.1,128.9 660.6,129.3 659.8,128.5 C659.1,127.6 657.4,123.6 657.5,122.3 Z" fill="#E0E0E0" filter="url(#b1)"/>
<path d="M530.8,48.6 C532.4,44.5 535.9,43.1 539.3,41.3 C542.7,39.5 546.5,38.9 551.3,37.7 C556.1,36.5 563.4,34.9 568.2,34.1 C573.0,33.3 576.6,34.1 580.2,32.9 C583.9,31.7 586.7,28.6 589.9,26.9 C593.1,25.1 595.1,24.1 599.5,22.5 C603.9,20.9 610.8,18.3 616.4,17.2 C622.0,16.1 628.4,16.0 633.3,16.0 C638.1,16.0 641.3,15.8 645.3,17.2 C649.3,18.6 654.5,21.6 657.3,24.5 C660.2,27.3 661.4,30.5 662.7,34.1 C663.9,37.7 664.6,42.1 664.6,46.1 C664.6,50.2 663.4,54.2 662.7,58.2 C661.9,62.2 660.9,65.9 660.2,70.2 C659.6,74.6 660.2,81.3 658.6,84.5 C656.9,87.6 653.1,87.7 650.1,89.3 C647.1,90.9 642.8,92.1 640.5,94.1 C638.2,96.1 635.8,98.9 636.1,101.3 C636.5,103.7 641.2,105.7 642.4,108.6 C643.6,111.4 644.0,115.0 643.4,118.2 C642.7,121.4 641.0,125.6 638.6,127.8 C636.1,130.1 632.1,131.7 628.4,131.7 C624.7,131.7 621.2,129.5 616.4,127.8 C611.6,126.2 604.7,123.4 599.5,121.8 C594.3,120.2 588.3,119.8 585.1,118.2 C581.8,116.6 582.2,114.3 580.2,112.2 C578.2,110.0 576.6,106.2 573.0,105.2 C569.4,104.2 563.8,106.4 558.6,106.1 C553.3,105.9 545.9,106.1 541.7,103.7 C537.5,101.3 535.3,98.1 533.3,91.7 C531.2,85.3 530.0,72.6 529.6,65.4 C529.2,58.2 529.2,52.6 530.8,48.6 Z" fill="#7C7C7C" stroke="#686868" stroke-width="0.5"/>
<path d="M606.7,24.5 C611.6,20.0 625.2,19.2 633.3,19.6 C641.3,20.0 650.3,22.4 654.9,26.9 C659.6,31.3 660.6,38.9 661.0,46.1 C661.4,53.4 660.0,63.9 657.3,70.2 C654.7,76.6 651.3,82.9 645.3,84.5 C639.3,86.0 626.8,82.0 621.2,79.6 C615.6,77.3 614.4,75.8 611.6,70.2 C608.8,64.7 605.1,53.8 604.3,46.1 C603.5,38.5 601.9,28.9 606.7,24.5 Z" fill="#727272" filter="url(#b2)"/>
<path d="M565.9,77.5 C566.5,75.3 566.6,72.8 570.1,71.5 C573.6,70.2 582.1,69.2 587.0,69.5 C591.9,69.8 596.8,71.6 599.4,73.3 C602.0,74.9 602.8,77.4 602.6,79.5 C602.4,81.6 601.2,84.4 598.1,85.9 C595.1,87.4 588.8,87.8 584.5,88.4 C580.2,89.0 575.1,90.1 572.1,89.4 C569.1,88.7 567.7,86.4 566.6,84.4 C565.6,82.4 565.3,79.6 565.9,77.5 Z" fill="#181818" />
<path d="M574.1,80.0 C576.1,78.3 583.3,75.8 587.0,75.5 C590.7,75.2 595.0,76.9 596.4,78.0 C597.8,79.0 597.4,80.8 595.4,81.9 C593.4,83.1 587.9,84.4 584.5,84.9 C581.1,85.5 576.8,86.0 575.1,85.2 C573.3,84.3 572.1,81.6 574.1,80.0 Z" fill="#6E6E6E" filter="url(#b1)"/>
<circle cx="627.19" cy="29.82" r="5.50" fill="#E6E6E6" stroke="#5A5A5A" stroke-width="0.5"/>
<circle cx="650.27" cy="33.54" r="3.80" fill="#EFEFEF" stroke="#5A5A5A" stroke-width="0.5"/>
<circle cx="652.75" cy="42.23" r="3.50" fill="#EFEFEF" stroke="#5A5A5A" stroke-width="0.5"/>
<circle cx="640.34" cy="39.00" r="3.00" fill="#F2F2F2" stroke="#5A5A5A" stroke-width="0.5"/>
<circle cx="631.65" cy="57.62" r="3.40" fill="#F2F2F2" stroke="#5A5A5A" stroke-width="0.5"/>
<circle cx="631.65" cy="67.05" r="3.00" fill="#EEE" stroke="#5A5A5A" stroke-width="0.5"/>
<circle cx="642.82" cy="65.81" r="3.80" fill="#F0F0F0" stroke="#5A5A5A" stroke-width="0.5"/>
<circle cx="639.10" cy="78.22" r="4.20" fill="#F0F0F0" stroke="#5A5A5A" stroke-width="0.5"/>
<circle cx="630.41" cy="76.98" r="2.00" fill="#E6E6E6" stroke="#5A5A5A" stroke-width="0.5"/>
<circle cx="599.39" cy="57.12" r="4.10" fill="#EEE" stroke="#5A5A5A" stroke-width="0.5"/>
<circle cx="563.40" cy="44.71" r="2.90" fill="#E4E4E4" stroke="#5A5A5A" stroke-width="0.5"/>
<circle cx="548.01" cy="79.46" r="3.30" fill="#E8E8E8" stroke="#5A5A5A" stroke-width="0.5"/>
<circle cx="622.22" cy="62.09" r="4.60" fill="#A8A8A8" stroke="#5A5A5A" stroke-width="0.5"/>
<circle cx="573.33" cy="26.10" r="3.00" fill="#DCDCDC" stroke="#5A5A5A" stroke-width="0.5"/>
<circle cx="636.62" cy="29.32" r="2.60" fill="#9A9A9A" stroke="#5A5A5A" stroke-width="0.5"/>
<circle cx="618.00" cy="39.75" r="2.60" fill="#363636" filter="url(#b1)"/>
<circle cx="618.00" cy="39.75" r="1.04" fill="#9A9A9A" />
<circle cx="625.45" cy="44.71" r="3.00" fill="#363636" filter="url(#b1)"/>
<circle cx="625.45" cy="44.71" r="1.20" fill="#9A9A9A" />
<circle cx="631.65" cy="47.19" r="2.20" fill="#363636" filter="url(#b1)"/>
<circle cx="631.65" cy="47.19" r="0.88" fill="#9A9A9A" />
<circle cx="653.99" cy="50.92" r="2.30" fill="#363636" filter="url(#b1)"/>
<circle cx="653.99" cy="50.92" r="0.92" fill="#9A9A9A" />
<circle cx="548.51" cy="93.11" r="2.40" fill="#363636" filter="url(#b1)"/>
<circle cx="548.51" cy="93.11" r="0.96" fill="#9A9A9A" />
<circle cx="544.78" cy="64.57" r="1.80" fill="#363636" filter="url(#b1)"/>
<circle cx="544.78" cy="64.57" r="0.72" fill="#9A9A9A" />
<circle cx="575.81" cy="63.33" r="1.80" fill="#363636" filter="url(#b1)"/>
<circle cx="575.81" cy="63.33" r="0.72" fill="#9A9A9A" />
<circle cx="670.13" cy="70.77" r="2.00" fill="#363636" filter="url(#b1)"/>
<circle cx="670.13" cy="70.77" r="0.80" fill="#9A9A9A" />
<circle cx="678.81" cy="34.78" r="1.80" fill="#363636" filter="url(#b1)"/>
<circle cx="678.81" cy="34.78" r="0.72" fill="#9A9A9A" />
<circle cx="599.39" cy="99.32" r="2.00" fill="#363636" filter="url(#b1)"/>
<circle cx="599.39" cy="99.32" r="0.80" fill="#9A9A9A" />
<circle cx="574.57" cy="131.58" r="3.00" fill="#363636" filter="url(#b1)"/>
<circle cx="574.57" cy="131.58" r="1.20" fill="#9A9A9A" />
<circle cx="547.27" cy="37.27" r="1.50" fill="#363636" filter="url(#b1)"/>
<circle cx="547.27" cy="37.27" r="0.60" fill="#9A9A9A" />
<circle cx="653.99" cy="57.12" r="1.80" fill="#363636" filter="url(#b1)"/>
<circle cx="653.99" cy="57.12" r="0.72" fill="#9A9A9A" />
<circle cx="562.16" cy="13.69" r="1.60" fill="#363636" filter="url(#b1)"/>
<circle cx="562.16" cy="13.69" r="0.64" fill="#9A9A9A" />
<circle cx="592.83" cy="84.21" r="1.91" fill="#666" filter="url(#b1)"/>
<circle cx="592.77" cy="107.66" r="1.03" fill="#666" filter="url(#b1)"/>
<circle cx="612.65" cy="102.73" r="0.91" fill="#8A8A8A" filter="url(#b1)"/>
<circle cx="558.14" cy="82.53" r="1.87" fill="#6A6A6A" filter="url(#b1)"/>
<circle cx="608.81" cy="71.21" r="1.34" fill="#707070" filter="url(#b1)"/>
<circle cx="611.90" cy="105.81" r="0.88" fill="#6A6A6A" filter="url(#b1)"/>
<circle cx="563.55" cy="58.96" r="0.84" fill="#666" filter="url(#b1)"/>
<circle cx="578.75" cy="86.68" r="1.03" fill="#707070" filter="url(#b1)"/>
<circle cx="613.82" cy="79.44" r="1.59" fill="#666" filter="url(#b1)"/>
<circle cx="615.44" cy="72.06" r="1.46" fill="#6A6A6A" filter="url(#b1)"/>
<circle cx="621.36" cy="64.79" r="1.08" fill="#8A8A8A" filter="url(#b1)"/>
<circle cx="545.63" cy="84.48" r="0.93" fill="#6A6A6A" filter="url(#b1)"/>
<circle cx="636.86" cy="70.45" r="1.95" fill="#6A6A6A" filter="url(#b1)"/>
<circle cx="566.15" cy="113.38" r="0.86" fill="#666" filter="url(#b1)"/>
<circle cx="651.80" cy="71.31" r="0.89" fill="#707070" filter="url(#b1)"/>
<circle cx="629.25" cy="61.17" r="0.90" fill="#8A8A8A" filter="url(#b1)"/>
<circle cx="543.99" cy="72.32" r="1.91" fill="#707070" filter="url(#b1)"/>
<circle cx="569.82" cy="47.77" r="0.87" fill="#666" filter="url(#b1)"/>
<circle cx="562.15" cy="84.17" r="1.34" fill="#707070" filter="url(#b1)"/>
<circle cx="652.35" cy="100.87" r="1.30" fill="#666" filter="url(#b1)"/>
<circle cx="555.31" cy="73.17" r="1.06" fill="#8A8A8A" filter="url(#b1)"/>
<circle cx="638.84" cy="117.18" r="1.51" fill="#6A6A6A" filter="url(#b1)"/>
<circle cx="565.84" cy="71.06" r="1.83" fill="#6A6A6A" filter="url(#b1)"/>
<circle cx="547.01" cy="51.37" r="1.33" fill="#6A6A6A" filter="url(#b1)"/>
<circle cx="628.60" cy="65.88" r="1.16" fill="#6A6A6A" filter="url(#b1)"/>
<circle cx="550.60" cy="56.33" r="1.56" fill="#6A6A6A" filter="url(#b1)"/>
<circle cx="609.46" cy="69.27" r="1.34" fill="#666" filter="url(#b1)"/>
<circle cx="635.27" cy="50.53" r="1.26" fill="#707070" filter="url(#b1)"/>
<circle cx="577.02" cy="57.89" r="1.53" fill="#707070" filter="url(#b1)"/>
<circle cx="560.00" cy="89.70" r="1.46" fill="#666" filter="url(#b1)"/>
<circle cx="640.83" cy="87.68" r="1.31" fill="#6A6A6A" filter="url(#b1)"/>
<circle cx="554.48" cy="80.44" r="1.11" fill="#666" filter="url(#b1)"/>
<circle cx="571.00" cy="105.17" r="1.52" fill="#8A8A8A" filter="url(#b1)"/>
<circle cx="600.39" cy="113.55" r="1.97" fill="#707070" filter="url(#b1)"/>
<circle cx="567.81" cy="84.18" r="1.82" fill="#6A6A6A" filter="url(#b1)"/>
<circle cx="573.60" cy="112.61" r="1.04" fill="#6A6A6A" filter="url(#b1)"/>
<circle cx="550.03" cy="72.43" r="1.10" fill="#6A6A6A" filter="url(#b1)"/>
<circle cx="561.99" cy="69.04" r="1.49" fill="#707070" filter="url(#b1)"/>
<circle cx="552.60" cy="50.74" r="1.34" fill="#8A8A8A" filter="url(#b1)"/>
<circle cx="615.67" cy="94.65" r="1.50" fill="#707070" filter="url(#b1)"/>
<circle cx="608.19" cy="113.10" r="1.37" fill="#8A8A8A" filter="url(#b1)"/>
<circle cx="620.59" cy="116.22" r="0.83" fill="#6A6A6A" filter="url(#b1)"/>
<circle cx="596.16" cy="97.77" r="1.18" fill="#6A6A6A" filter="url(#b1)"/>
<circle cx="550.71" cy="83.12" r="1.68" fill="#707070" filter="url(#b1)"/>
<circle cx="630.90" cy="112.42" r="1.22" fill="#666" filter="url(#b1)"/>
<path d="M585.1,115.8 C587.5,115.3 594.5,113.8 599.5,112.9 C604.5,112.0 612.6,110.9 615.2,110.5" fill="none" stroke="#D8D8D8" stroke-width="1.5" stroke-linecap="round" filter="url(#b1)"/>
<path d="M609.2,106.1 C610.8,105.7 616.0,104.3 618.8,103.7 C621.6,103.1 624.8,102.7 626.0,102.5" fill="none" stroke="#D8D8D8" stroke-width="1.3" stroke-linecap="round" filter="url(#b1)"/>
<path d="M551.3,117.0 C552.9,117.6 558.2,119.6 561.0,120.6 C563.8,121.6 567.0,122.6 568.2,123.0" fill="none" stroke="#D8D8D8" stroke-width="1.3" stroke-linecap="round" filter="url(#b1)"/>
<path d="M622.4,130.2 C622.6,128.2 622.8,121.8 623.6,118.2 C624.4,114.6 626.6,110.2 627.2,108.6" fill="none" stroke="#B4B4B4" stroke-width="0.8" stroke-linecap="round" filter="url(#b1)"/>
<rect x="526.00" y="13.80" width="158.50" height="122.20" fill="#000" filter="url(#emn)" opacity="0.36"/>
<rect x="526.00" y="13.80" width="158.50" height="122.20" fill="#fff" filter="url(#emw)" opacity="0.15"/>
</g>
<rect x="526.20" y="14.30" width="158.00" height="121.60" fill="none" stroke="#000" stroke-width="0.9"/>
<text x="529.90" y="25.30" font-size="10" fill="#000" font-weight="bold" stroke="#000" stroke-width="0.3">SM</text>
<rect x="529.90" y="127.90" width="20.60" height="2.40" fill="#000" />
<path d="M631.2,38.5 L645.7,42.1 L637.4,43.9 L636.8,52.4 Z" fill="#FF1A1A" />
<path d="M641.6,53.4 L656.1,57.0 L647.8,58.8 L647.2,67.3 Z" fill="#FF1A1A" />
<path d="M603.1,62.1 L617.7,65.7 L609.3,67.5 L608.7,76.0 Z" fill="#FF1A1A" />
<path d="M566.4,49.7 L580.9,53.3 L572.6,55.1 L572.0,63.6 Z" fill="#FF1A1A" />
<path d="M552.2,85.7 L566.8,89.3 L558.5,91.1 L557.8,99.6 Z" fill="#FF1A1A" />
<path d="M644.1,84.4 L658.6,88.1 L650.3,89.8 L649.7,98.3 Z" fill="#FF1A1A" />
<text x="-1.00" y="497.60" font-size="14.5" fill="#000" font-weight="bold" stroke="#000" stroke-width="0.25">D</text>
<text x="67.60" y="490.00" font-size="10.2" fill="#000" font-weight="bold" text-anchor="middle" textLength="27.30" lengthAdjust="spacingAndGlyphs" >CTRL</text>
<text x="173.00" y="490.00" font-size="10.2" fill="#000" font-weight="bold" text-anchor="middle" textLength="15.00" lengthAdjust="spacingAndGlyphs" >SM</text>
<rect x="13.70" y="489.75" width="105.40" height="2.55" fill="#000" />
<rect x="122.20" y="489.75" width="105.90" height="2.55" fill="#000" />
<defs><filter id="fb" x="-50%" y="-50%" width="200%" height="200%"><feGaussianBlur stdDeviation="0.45"/></filter><filter id="frag" x="0" y="0" width="100%" height="100%" filterUnits="userSpaceOnUse"><feTurbulence type="fractalNoise" baseFrequency="0.3" numOctaves="2" seed="5" result="t"/><feDisplacementMap in="SourceGraphic" in2="t" scale="3.2" xChannelSelector="R" yChannelSelector="G"/></filter><filter id="fb2" x="-50%" y="-50%" width="200%" height="200%"><feGaussianBlur stdDeviation="0.8"/></filter><clipPath id="d1"><rect x="13.5" y="495.3" width="52.8" height="54"/></clipPath><clipPath id="d2"><rect x="67.0" y="495.3" width="52.6" height="54"/></clipPath><clipPath id="d3"><rect x="13.2" y="550.3" width="106.7" height="106.4"/></clipPath><clipPath id="d4"><rect x="122.2" y="495.3" width="52.9" height="54"/></clipPath><clipPath id="d5"><rect x="175.9" y="495.3" width="53" height="54"/></clipPath><clipPath id="d6"><rect x="121.9" y="550.3" width="107.2" height="106.4"/></clipPath></defs>
<rect x="13.20" y="495.70" width="106.70" height="160.80" fill="#000" />
<rect x="122.00" y="495.70" width="107.10" height="160.80" fill="#000" />
<line x1="66.65" y1="495.30" x2="66.65" y2="549.50" stroke="#6E6E6E" stroke-width="0.7" />
<line x1="13.20" y1="549.90" x2="119.90" y2="549.90" stroke="#2A2A2A" stroke-width="0.6" />
<line x1="175.50" y1="495.30" x2="175.50" y2="549.50" stroke="#B8B8B8" stroke-width="0.8" />
<line x1="121.90" y1="549.90" x2="229.10" y2="549.90" stroke="#D8D8D8" stroke-width="0.9" />
<line x1="120.90" y1="495.30" x2="120.90" y2="656.70" stroke="#C4C4C4" stroke-width="1.0" />
<g clip-path="url(#d3)">
<g filter="url(#frag)">
<path d="M68.8,593.4 A2.7,2.7 0 1 1 64.6,592.0" fill="none" stroke="#E8101C" stroke-width="1.5" stroke-linecap="round" opacity="0.80" filter="url(#fb)"/>
<path d="M87.2,588.9 A2.7,2.7 0 0 1 82.4,589.5" fill="none" stroke="#E8101C" stroke-width="1.5" stroke-linecap="round" opacity="0.80" filter="url(#fb)"/>
<path d="M100.1,616.5 A2.7,2.7 0 1 1 96.2,619.7" fill="none" stroke="#E8101C" stroke-width="1.5" stroke-linecap="round" opacity="0.80" filter="url(#fb)"/>
<path d="M40.3,620.8 A2.7,2.7 0 0 1 43.6,624.9" fill="none" stroke="#E8101C" stroke-width="1.5" stroke-linecap="round" opacity="0.64" filter="url(#fb)"/>
<path d="M55.3,630.3 A2.7,2.7 0 1 1 58.8,634.3" fill="none" stroke="#E8101C" stroke-width="1.5" stroke-linecap="round" opacity="0.72" filter="url(#fb)"/>
<path d="M55.0,635.9 A2.7,2.7 0 0 1 60.0,636.6" fill="none" stroke="#E8101C" stroke-width="1.5" stroke-linecap="round" opacity="0.72" filter="url(#fb)"/>
<path d="M81.3,629.6 A2.7,2.7 0 0 1 86.0,626.9" fill="none" stroke="#E8101C" stroke-width="1.5" stroke-linecap="round" opacity="0.72" filter="url(#fb)"/>
<path d="M55.7,601.2 A2.7,2.7 0 1 1 53.7,604.9" fill="none" stroke="#E8101C" stroke-width="1.5" stroke-linecap="round" opacity="0.56" filter="url(#fb)"/>
<path d="M80.2,602.1 A2.7,2.7 0 1 1 74.9,603.2" fill="none" stroke="#E8101C" stroke-width="1.5" stroke-linecap="round" opacity="0.48" filter="url(#fb)"/>
<path d="M88.3,598.6 A2.7,2.7 0 0 1 92.7,595.7" fill="none" stroke="#E8101C" stroke-width="1.5" stroke-linecap="round" opacity="0.40" filter="url(#fb)"/>
<path d="M104.9,602.7 A2.7,2.7 0 0 1 100.4,604.1" fill="none" stroke="#E8101C" stroke-width="1.5" stroke-linecap="round" opacity="0.48" filter="url(#fb)"/>
<path d="M111.9,607.9 A2.7,2.7 0 0 1 116.8,605.9" fill="none" stroke="#E8101C" stroke-width="1.5" stroke-linecap="round" opacity="0.40" filter="url(#fb)"/>
<path d="M58.9,620.6 A2.7,2.7 0 1 1 63.5,619.7" fill="none" stroke="#E8101C" stroke-width="1.5" stroke-linecap="round" opacity="0.48" filter="url(#fb)"/>
<path d="M78.5,636.8 A2.7,2.7 0 1 1 83.6,638.3" fill="none" stroke="#E8101C" stroke-width="1.5" stroke-linecap="round" opacity="0.56" filter="url(#fb)"/>
<path d="M96.3,648.7 A2.7,2.7 0 0 1 93.6,645.0" fill="none" stroke="#E8101C" stroke-width="1.5" stroke-linecap="round" opacity="0.56" filter="url(#fb)"/>
<path d="M106.3,649.3 A2.7,2.7 0 0 1 106.6,644.4" fill="none" stroke="#E8101C" stroke-width="1.5" stroke-linecap="round" opacity="0.48" filter="url(#fb)"/>
<path d="M18.7,630.0 A2.7,2.7 0 1 1 21.8,632.9" fill="none" stroke="#E8101C" stroke-width="1.5" stroke-linecap="round" opacity="0.48" filter="url(#fb)"/>
<path d="M39.5,639.2 A2.7,2.7 0 0 1 43.2,642.7" fill="none" stroke="#E8101C" stroke-width="1.5" stroke-linecap="round" opacity="0.48" filter="url(#fb)"/>
<path d="M67.4,649.6 A2.7,2.7 0 1 1 62.7,650.8" fill="none" stroke="#E8101C" stroke-width="1.5" stroke-linecap="round" opacity="0.48" filter="url(#fb)"/>
<path d="M116.0,587.1 A2.7,2.7 0 1 1 114.0,591.2" fill="none" stroke="#E8101C" stroke-width="1.5" stroke-linecap="round" opacity="0.48" filter="url(#fb)"/>
<path d="M80.5,570.4 A2.7,2.7 0 1 1 78.1,574.7" fill="none" stroke="#E8101C" stroke-width="1.5" stroke-linecap="round" opacity="0.40" filter="url(#fb)"/>
<path d="M96.6,572.6 A2.7,2.7 0 1 1 100.7,571.4" fill="none" stroke="#E8101C" stroke-width="1.5" stroke-linecap="round" opacity="0.32" filter="url(#fb)"/>
<path d="M43.3,566.3 A2.7,2.7 0 0 1 39.2,569.1" fill="none" stroke="#E8101C" stroke-width="1.5" stroke-linecap="round" opacity="0.32" filter="url(#fb)"/>
<path d="M116.4,562.4 A2.7,2.7 0 1 1 114.6,567.3" fill="none" stroke="#E8101C" stroke-width="1.5" stroke-linecap="round" opacity="0.40" filter="url(#fb)"/>
<path d="M101.4,559.6 A2.7,2.7 0 1 1 106.7,558.8" fill="none" stroke="#E8101C" stroke-width="1.5" stroke-linecap="round" opacity="0.40" filter="url(#fb)"/>
<path d="M50.3,560.9 A2.7,2.7 0 1 1 54.2,563.2" fill="none" stroke="#E8101C" stroke-width="1.5" stroke-linecap="round" opacity="0.32" filter="url(#fb)"/>
<path d="M106.6,595.0 A2.7,2.7 0 1 1 110.9,597.2" fill="none" stroke="#E8101C" stroke-width="1.5" stroke-linecap="round" opacity="0.40" filter="url(#fb)"/>
<path d="M97.1,613.0 A2.7,2.7 0 1 1 101.4,611.3" fill="none" stroke="#E8101C" stroke-width="1.5" stroke-linecap="round" opacity="0.40" filter="url(#fb)"/>
<path d="M41.1,630.4 A2.7,2.7 0 1 1 36.7,633.5" fill="none" stroke="#E8101C" stroke-width="1.5" stroke-linecap="round" opacity="0.40" filter="url(#fb)"/>
<path d="M30.3,626.5 A2.7,2.7 0 1 1 32.7,630.3" fill="none" stroke="#E8101C" stroke-width="1.5" stroke-linecap="round" opacity="0.32" filter="url(#fb)"/>
<path d="M70.1,653.0 A2.7,2.7 0 1 1 70.8,658.4" fill="none" stroke="#E8101C" stroke-width="1.5" stroke-linecap="round" opacity="0.56" filter="url(#fb)"/>
<path d="M56.1,645.2 A2.7,2.7 0 0 1 54.3,640.2" fill="none" stroke="#E8101C" stroke-width="1.5" stroke-linecap="round" opacity="0.64" filter="url(#fb)"/>
</g>
<ellipse cx="69.8" cy="557.3" rx="2.6" ry="2.5" fill="#1F22F5" opacity="0.52" filter="url(#fb)"/>
<ellipse cx="39.9" cy="566.1" rx="2.2" ry="1.9" fill="#1F22F5" opacity="0.86" filter="url(#fb)"/>
<ellipse cx="57.1" cy="569.3" rx="2.8" ry="2.5" fill="#1F22F5" opacity="0.77" filter="url(#fb)"/>
<ellipse cx="79.5" cy="572.3" rx="2.4" ry="2.2" fill="#1F22F5" opacity="0.74" filter="url(#fb)"/>
<ellipse cx="97.4" cy="569.6" rx="2.2" ry="2.0" fill="#1F22F5" opacity="0.54" filter="url(#fb)"/>
<ellipse cx="115.5" cy="564.3" rx="2.7" ry="2.2" fill="#1F22F5" opacity="0.73" filter="url(#fb)"/>
<ellipse cx="29.3" cy="589.8" rx="2.7" ry="2.6" fill="#1F22F5" opacity="0.78" filter="url(#fb)"/>
<ellipse cx="24.9" cy="595.1" rx="2.2" ry="1.7" fill="#1F22F5" opacity="0.79" filter="url(#fb)"/>
<ellipse cx="43.4" cy="596.9" rx="2.5" ry="2.1" fill="#1F22F5" opacity="0.57" filter="url(#fb)"/>
<ellipse cx="51.3" cy="592.5" rx="2.7" ry="2.4" fill="#1F22F5" opacity="0.50" filter="url(#fb)"/>
<ellipse cx="57.5" cy="585.8" rx="2.7" ry="2.3" fill="#1F22F5" opacity="0.56" filter="url(#fb)"/>
<ellipse cx="71.5" cy="582.8" rx="2.7" ry="2.6" fill="#1F22F5" opacity="0.64" filter="url(#fb)"/>
<ellipse cx="83.9" cy="588.1" rx="2.0" ry="1.7" fill="#1F22F5" opacity="0.61" filter="url(#fb)"/>
<ellipse cx="65.4" cy="593.4" rx="2.5" ry="2.5" fill="#1F22F5" opacity="0.49" filter="url(#fb)"/>
<ellipse cx="90.0" cy="596.9" rx="2.0" ry="1.6" fill="#1F22F5" opacity="0.78" filter="url(#fb)"/>
<ellipse cx="76.8" cy="602.1" rx="2.2" ry="1.8" fill="#1F22F5" opacity="0.82" filter="url(#fb)"/>
<ellipse cx="55.4" cy="603.0" rx="2.1" ry="1.9" fill="#1F22F5" opacity="0.76" filter="url(#fb)"/>
<ellipse cx="101.4" cy="601.3" rx="2.0" ry="1.7" fill="#1F22F5" opacity="0.90" filter="url(#fb)"/>
<ellipse cx="113.7" cy="606.5" rx="2.0" ry="1.9" fill="#1F22F5" opacity="0.60" filter="url(#fb)"/>
<ellipse cx="85.6" cy="605.7" rx="2.6" ry="2.3" fill="#1F22F5" opacity="0.50" filter="url(#fb)"/>
<ellipse cx="30.2" cy="618.0" rx="2.0" ry="1.9" fill="#1F22F5" opacity="0.65" filter="url(#fb)"/>
<ellipse cx="39.9" cy="622.4" rx="2.6" ry="2.5" fill="#1F22F5" opacity="0.86" filter="url(#fb)"/>
<ellipse cx="17.0" cy="614.5" rx="2.7" ry="2.4" fill="#1F22F5" opacity="0.77" filter="url(#fb)"/>
<ellipse cx="32.0" cy="626.8" rx="2.2" ry="1.9" fill="#1F22F5" opacity="0.75" filter="url(#fb)"/>
<ellipse cx="38.1" cy="631.2" rx="2.1" ry="2.0" fill="#1F22F5" opacity="0.65" filter="url(#fb)"/>
<ellipse cx="54.8" cy="624.1" rx="2.1" ry="1.8" fill="#1F22F5" opacity="0.71" filter="url(#fb)"/>
<ellipse cx="60.1" cy="618.0" rx="2.4" ry="2.4" fill="#1F22F5" opacity="0.51" filter="url(#fb)"/>
<ellipse cx="56.6" cy="636.4" rx="2.2" ry="2.0" fill="#1F22F5" opacity="0.72" filter="url(#fb)"/>
<ellipse cx="64.5" cy="650.5" rx="2.0" ry="1.7" fill="#1F22F5" opacity="0.70" filter="url(#fb)"/>
<ellipse cx="83.0" cy="626.8" rx="2.0" ry="1.7" fill="#1F22F5" opacity="0.47" filter="url(#fb)"/>
<ellipse cx="80.3" cy="636.4" rx="2.1" ry="1.9" fill="#1F22F5" opacity="0.74" filter="url(#fb)"/>
<ellipse cx="97.9" cy="618.0" rx="2.8" ry="2.8" fill="#1F22F5" opacity="0.87" filter="url(#fb)"/>
<ellipse cx="95.3" cy="630.3" rx="2.2" ry="1.9" fill="#1F22F5" opacity="0.65" filter="url(#fb)"/>
<ellipse cx="106.7" cy="629.4" rx="2.5" ry="2.4" fill="#1F22F5" opacity="0.73" filter="url(#fb)"/>
<ellipse cx="115.5" cy="629.4" rx="2.6" ry="2.3" fill="#1F22F5" opacity="0.57" filter="url(#fb)"/>
<ellipse cx="85.6" cy="615.3" rx="2.4" ry="2.0" fill="#1F22F5" opacity="0.45" filter="url(#fb)"/>
<ellipse cx="76.8" cy="610.9" rx="2.3" ry="2.2" fill="#1F22F5" opacity="0.50" filter="url(#fb)"/>
<ellipse cx="105.0" cy="592.5" rx="2.2" ry="1.8" fill="#1F22F5" opacity="0.49" filter="url(#fb)"/>
<ellipse cx="117.3" cy="589.0" rx="2.2" ry="2.0" fill="#1F22F5" opacity="0.55" filter="url(#fb)"/>
<ellipse cx="92.6" cy="564.3" rx="2.4" ry="2.2" fill="#1F22F5" opacity="0.59" filter="url(#fb)"/>
<ellipse cx="106.7" cy="578.4" rx="2.2" ry="2.2" fill="#1F22F5" opacity="0.86" filter="url(#fb)"/>
<ellipse cx="52.2" cy="576.7" rx="2.6" ry="2.3" fill="#1F22F5" opacity="0.65" filter="url(#fb)"/>
<ellipse cx="64.5" cy="576.7" rx="2.5" ry="2.2" fill="#1F22F5" opacity="0.47" filter="url(#fb)"/>
<ellipse cx="36.4" cy="580.2" rx="2.4" ry="2.0" fill="#1F22F5" opacity="0.53" filter="url(#fb)"/>
<ellipse cx="20.6" cy="640.0" rx="2.6" ry="2.4" fill="#1F22F5" opacity="0.61" filter="url(#fb)"/>
<ellipse cx="27.6" cy="646.1" rx="2.7" ry="2.3" fill="#1F22F5" opacity="0.72" filter="url(#fb)"/>
<ellipse cx="106.7" cy="646.1" rx="2.8" ry="2.2" fill="#1F22F5" opacity="0.62" filter="url(#fb)"/>
<ellipse cx="94.4" cy="645.2" rx="2.5" ry="2.2" fill="#1F22F5" opacity="0.50" filter="url(#fb)"/>
<ellipse cx="71.5" cy="645.2" rx="2.7" ry="2.1" fill="#1F22F5" opacity="0.75" filter="url(#fb)"/>
<ellipse cx="46.9" cy="647.0" rx="2.4" ry="2.1" fill="#1F22F5" opacity="0.63" filter="url(#fb)"/>
<ellipse cx="52.2" cy="559.9" rx="2.2" ry="1.8" fill="#1F22F5" opacity="0.71" filter="url(#fb)"/>
<ellipse cx="108.5" cy="555.6" rx="2.2" ry="2.2" fill="#1F22F5" opacity="0.62" filter="url(#fb)"/>
<ellipse cx="87.4" cy="557.3" rx="2.1" ry="1.7" fill="#1F22F5" opacity="0.79" filter="url(#fb)"/>
<ellipse cx="20.6" cy="571.4" rx="2.5" ry="2.2" fill="#1F22F5" opacity="0.63" filter="url(#fb)"/>
<ellipse cx="17.0" cy="585.4" rx="2.6" ry="2.1" fill="#1F22F5" opacity="0.63" filter="url(#fb)"/>
<ellipse cx="115.5" cy="618.9" rx="2.1" ry="2.0" fill="#1F22F5" opacity="0.49" filter="url(#fb)"/>
<ellipse cx="68.0" cy="627.6" rx="2.5" ry="2.4" fill="#1F22F5" opacity="0.88" filter="url(#fb)"/>
<ellipse cx="45.2" cy="611.8" rx="2.0" ry="1.9" fill="#1F22F5" opacity="0.75" filter="url(#fb)"/>
<ellipse cx="24.1" cy="605.7" rx="2.6" ry="2.2" fill="#1F22F5" opacity="0.67" filter="url(#fb)"/>
<ellipse cx="98.8" cy="585.4" rx="2.4" ry="2.0" fill="#1F22F5" opacity="0.81" filter="url(#fb)"/>
<circle cx="69.26" cy="601.19" r="0.68" fill="#E8101C" opacity="0.70"/>
<circle cx="111.87" cy="638.11" r="0.42" fill="#E8101C" opacity="0.42"/>
<circle cx="65.32" cy="578.72" r="0.47" fill="#E8101C" opacity="0.64"/>
<circle cx="110.45" cy="612.35" r="0.63" fill="#E8101C" opacity="0.35"/>
<circle cx="51.39" cy="654.77" r="0.36" fill="#E8101C" opacity="0.51"/>
<circle cx="21.02" cy="560.87" r="0.66" fill="#E8101C" opacity="0.79"/>
<circle cx="82.05" cy="565.24" r="0.42" fill="#E8101C" opacity="0.42"/>
<circle cx="84.43" cy="622.15" r="0.48" fill="#E8101C" opacity="0.56"/>
<circle cx="25.77" cy="607.71" r="0.68" fill="#E8101C" opacity="0.68"/>
<circle cx="24.10" cy="605.20" r="0.59" fill="#E8101C" opacity="0.43"/>
<circle cx="107.96" cy="599.48" r="0.58" fill="#E8101C" opacity="0.50"/>
<circle cx="118.49" cy="632.63" r="0.53" fill="#E8101C" opacity="0.37"/>
<circle cx="60.32" cy="555.03" r="0.54" fill="#E8101C" opacity="0.74"/>
<circle cx="32.94" cy="604.55" r="0.49" fill="#E8101C" opacity="0.50"/>
<circle cx="88.60" cy="648.48" r="0.58" fill="#E8101C" opacity="0.54"/>
<circle cx="115.01" cy="586.06" r="0.60" fill="#E8101C" opacity="0.63"/>
<circle cx="93.97" cy="639.76" r="0.39" fill="#E8101C" opacity="0.61"/>
<circle cx="56.29" cy="620.70" r="0.69" fill="#E8101C" opacity="0.62"/>
<circle cx="15.22" cy="599.85" r="0.58" fill="#E8101C" opacity="0.74"/>
<circle cx="82.26" cy="636.06" r="0.31" fill="#E8101C" opacity="0.77"/>
<circle cx="90.59" cy="614.46" r="0.66" fill="#E8101C" opacity="0.74"/>
<circle cx="24.55" cy="636.01" r="0.61" fill="#E8101C" opacity="0.40"/>
<circle cx="92.15" cy="612.38" r="0.38" fill="#E8101C" opacity="0.70"/>
<circle cx="28.48" cy="615.07" r="0.47" fill="#E8101C" opacity="0.43"/>
<circle cx="73.44" cy="600.11" r="0.38" fill="#E8101C" opacity="0.78"/>
<circle cx="21.65" cy="552.31" r="0.49" fill="#E8101C" opacity="0.72"/>
<circle cx="83.13" cy="629.73" r="0.49" fill="#E8101C" opacity="0.64"/>
<circle cx="49.16" cy="579.50" r="0.50" fill="#E8101C" opacity="0.31"/>
<circle cx="22.38" cy="629.66" r="0.37" fill="#E8101C" opacity="0.68"/>
<circle cx="96.36" cy="593.66" r="0.57" fill="#E8101C" opacity="0.69"/>
<circle cx="104.72" cy="565.89" r="0.37" fill="#E8101C" opacity="0.49"/>
<circle cx="62.79" cy="582.37" r="0.30" fill="#E8101C" opacity="0.58"/>
<circle cx="115.53" cy="589.75" r="0.52" fill="#E8101C" opacity="0.49"/>
<circle cx="60.49" cy="641.66" r="0.42" fill="#E8101C" opacity="0.62"/>
<circle cx="64.80" cy="607.47" r="0.67" fill="#E8101C" opacity="0.34"/>
<circle cx="100.56" cy="583.33" r="0.56" fill="#E8101C" opacity="0.70"/>
<circle cx="82.61" cy="592.48" r="0.64" fill="#E8101C" opacity="0.35"/>
<circle cx="80.50" cy="592.29" r="0.51" fill="#E8101C" opacity="0.73"/>
<circle cx="97.78" cy="616.77" r="0.42" fill="#E8101C" opacity="0.42"/>
<circle cx="62.04" cy="575.91" r="0.41" fill="#E8101C" opacity="0.78"/>
<circle cx="25.76" cy="636.32" r="0.45" fill="#E8101C" opacity="0.48"/>
<circle cx="47.43" cy="559.97" r="0.48" fill="#E8101C" opacity="0.38"/>
<circle cx="60.41" cy="582.07" r="0.66" fill="#E8101C" opacity="0.76"/>
<circle cx="60.41" cy="617.88" r="0.67" fill="#E8101C" opacity="0.46"/>
<circle cx="24.45" cy="576.50" r="0.38" fill="#E8101C" opacity="0.64"/>
<circle cx="53.25" cy="588.68" r="0.62" fill="#E8101C" opacity="0.42"/>
<circle cx="98.90" cy="617.19" r="0.46" fill="#E8101C" opacity="0.71"/>
<circle cx="49.94" cy="642.49" r="0.67" fill="#E8101C" opacity="0.55"/>
<circle cx="86.45" cy="649.72" r="0.60" fill="#E8101C" opacity="0.68"/>
<circle cx="105.28" cy="648.36" r="0.60" fill="#E8101C" opacity="0.79"/>
<circle cx="44.62" cy="616.12" r="0.57" fill="#E8101C" opacity="0.48"/>
<circle cx="55.49" cy="570.00" r="0.68" fill="#E8101C" opacity="0.48"/>
<circle cx="64.05" cy="644.04" r="0.37" fill="#E8101C" opacity="0.78"/>
<circle cx="27.34" cy="554.89" r="0.44" fill="#E8101C" opacity="0.48"/>
<circle cx="110.35" cy="642.97" r="0.60" fill="#E8101C" opacity="0.52"/>
<circle cx="70.98" cy="576.39" r="0.63" fill="#E8101C" opacity="0.49"/>
<circle cx="43.89" cy="617.69" r="0.36" fill="#E8101C" opacity="0.46"/>
<circle cx="111.25" cy="561.79" r="0.36" fill="#E8101C" opacity="0.40"/>
<circle cx="40.35" cy="595.30" r="0.40" fill="#E8101C" opacity="0.47"/>
<circle cx="39.88" cy="576.73" r="0.54" fill="#E8101C" opacity="0.47"/>
<circle cx="53.14" cy="631.09" r="0.32" fill="#E8101C" opacity="0.37"/>
<circle cx="103.34" cy="596.27" r="0.61" fill="#E8101C" opacity="0.37"/>
<circle cx="68.91" cy="639.07" r="0.44" fill="#E8101C" opacity="0.68"/>
<circle cx="78.09" cy="592.64" r="0.70" fill="#E8101C" opacity="0.50"/>
<circle cx="63.75" cy="615.81" r="0.43" fill="#E8101C" opacity="0.72"/>
<circle cx="76.74" cy="612.56" r="0.52" fill="#E8101C" opacity="0.79"/>
<circle cx="117.84" cy="638.60" r="0.48" fill="#E8101C" opacity="0.51"/>
<circle cx="69.10" cy="556.75" r="0.34" fill="#E8101C" opacity="0.80"/>
<circle cx="27.46" cy="648.55" r="0.57" fill="#E8101C" opacity="0.76"/>
<circle cx="22.12" cy="583.50" r="0.62" fill="#E8101C" opacity="0.30"/>
<circle cx="25.13" cy="588.12" r="0.37" fill="#E8101C" opacity="0.37"/>
<circle cx="84.33" cy="561.47" r="0.69" fill="#E8101C" opacity="0.62"/>
<circle cx="19.23" cy="644.57" r="0.40" fill="#E8101C" opacity="0.54"/>
<circle cx="72.67" cy="566.28" r="0.50" fill="#E8101C" opacity="0.33"/>
<circle cx="34.96" cy="646.61" r="0.63" fill="#E8101C" opacity="0.56"/>
<circle cx="85.59" cy="642.18" r="0.36" fill="#E8101C" opacity="0.55"/>
<circle cx="27.84" cy="564.00" r="0.34" fill="#E8101C" opacity="0.41"/>
<circle cx="19.58" cy="574.17" r="0.45" fill="#E8101C" opacity="0.61"/>
<circle cx="104.15" cy="645.13" r="0.59" fill="#E8101C" opacity="0.55"/>
<circle cx="110.28" cy="568.79" r="0.34" fill="#E8101C" opacity="0.71"/>
<circle cx="79.85" cy="573.66" r="0.45" fill="#E8101C" opacity="0.45"/>
<circle cx="59.24" cy="596.06" r="0.46" fill="#E8101C" opacity="0.70"/>
<circle cx="99.21" cy="609.93" r="0.49" fill="#E8101C" opacity="0.44"/>
<circle cx="94.36" cy="653.65" r="0.39" fill="#E8101C" opacity="0.65"/>
<circle cx="87.40" cy="619.80" r="0.31" fill="#E8101C" opacity="0.58"/>
<circle cx="35.21" cy="572.02" r="0.53" fill="#E8101C" opacity="0.62"/>
<circle cx="79.67" cy="628.45" r="0.58" fill="#E8101C" opacity="0.54"/>
<circle cx="19.02" cy="631.54" r="0.63" fill="#E8101C" opacity="0.72"/>
<circle cx="76.80" cy="555.93" r="0.38" fill="#E8101C" opacity="0.35"/>
<circle cx="80.76" cy="608.06" r="0.37" fill="#E8101C" opacity="0.78"/>
</g>
<g clip-path="url(#d6)">
<g filter="url(#frag)">
<ellipse cx="146.9" cy="557.8" rx="3.5" ry="3.0" fill="#E8101C" opacity="1.00" filter="url(#fb)" transform="rotate(0 146.1 557.0)"/>
<ellipse cx="159.6" cy="551.1" rx="3.5" ry="3.0" fill="#E8101C" opacity="1.00" filter="url(#fb)" transform="rotate(-90 158.8 550.3)"/>
<ellipse cx="194.4" cy="551.5" rx="3.5" ry="3.0" fill="#E8101C" opacity="0.50" filter="url(#fb)" transform="rotate(-90 193.6 550.7)"/>
<ellipse cx="183.0" cy="571.3" rx="3.5" ry="3.0" fill="#E8101C" opacity="0.40" filter="url(#fb)" transform="rotate(180 182.2 570.5)"/>
<ellipse cx="206.7" cy="567.8" rx="3.5" ry="3.0" fill="#E8101C" opacity="0.30" filter="url(#fb)" transform="rotate(0 205.9 567.0)"/>
<ellipse cx="139.0" cy="577.0" rx="3.5" ry="3.0" fill="#E8101C" opacity="0.80" filter="url(#fb)" transform="rotate(90 138.2 576.2)"/>
<ellipse cx="130.3" cy="583.6" rx="3.5" ry="3.0" fill="#E8101C" opacity="0.70" filter="url(#fb)" transform="rotate(180 129.5 582.8)"/>
<ellipse cx="144.2" cy="582.7" rx="3.5" ry="3.0" fill="#E8101C" opacity="0.60" filter="url(#fb)" transform="rotate(0 143.4 581.9)"/>
<ellipse cx="158.4" cy="577.1" rx="3.5" ry="3.0" fill="#E8101C" opacity="1.00" filter="url(#fb)" transform="rotate(-135 157.6 576.3)"/>
<ellipse cx="175.4" cy="578.9" rx="3.5" ry="3.0" fill="#E8101C" opacity="0.90" filter="url(#fb)" transform="rotate(-45 174.6 578.1)"/>
<ellipse cx="194.4" cy="581.9" rx="3.5" ry="3.0" fill="#E8101C" opacity="0.80" filter="url(#fb)" transform="rotate(-90 193.6 581.1)"/>
<ellipse cx="149.5" cy="590.6" rx="3.5" ry="3.0" fill="#E8101C" opacity="0.90" filter="url(#fb)" transform="rotate(0 148.7 589.8)"/>
<ellipse cx="154.8" cy="587.6" rx="3.5" ry="3.0" fill="#E8101C" opacity="0.30" filter="url(#fb)" transform="rotate(0 154.0 586.8)"/>
<ellipse cx="169.7" cy="591.9" rx="3.5" ry="3.0" fill="#E8101C" opacity="1.00" filter="url(#fb)" transform="rotate(0 168.9 591.1)"/>
<ellipse cx="184.7" cy="592.4" rx="3.5" ry="3.0" fill="#E8101C" opacity="0.20" filter="url(#fb)" transform="rotate(0 183.9 591.6)"/>
<ellipse cx="202.4" cy="589.8" rx="3.5" ry="3.0" fill="#E8101C" opacity="0.60" filter="url(#fb)" transform="rotate(180 201.6 589.0)"/>
<ellipse cx="124.1" cy="598.6" rx="3.5" ry="3.0" fill="#E8101C" opacity="1.00" filter="url(#fb)" transform="rotate(180 123.3 597.8)"/>
<ellipse cx="157.5" cy="600.0" rx="3.5" ry="3.0" fill="#E8101C" opacity="0.90" filter="url(#fb)" transform="rotate(180 156.7 599.2)"/>
<ellipse cx="172.4" cy="598.3" rx="3.5" ry="3.0" fill="#E8101C" opacity="0.90" filter="url(#fb)" transform="rotate(-90 171.6 597.5)"/>
<ellipse cx="194.4" cy="602.9" rx="3.5" ry="3.0" fill="#E8101C" opacity="0.90" filter="url(#fb)" transform="rotate(0 193.6 602.1)"/>
<ellipse cx="202.3" cy="598.6" rx="3.5" ry="3.0" fill="#E8101C" opacity="0.90" filter="url(#fb)" transform="rotate(0 201.5 597.8)"/>
<ellipse cx="138.1" cy="605.5" rx="3.5" ry="3.0" fill="#E8101C" opacity="0.90" filter="url(#fb)" transform="rotate(90 137.3 604.7)"/>
<ellipse cx="175.0" cy="606.8" rx="3.5" ry="3.0" fill="#E8101C" opacity="0.90" filter="url(#fb)" transform="rotate(-60 174.2 606.0)"/>
<ellipse cx="147.0" cy="610.0" rx="3.5" ry="3.0" fill="#E8101C" opacity="1.00" filter="url(#fb)" transform="rotate(180 146.2 609.2)"/>
<ellipse cx="158.3" cy="616.1" rx="3.5" ry="3.0" fill="#E8101C" opacity="1.00" filter="url(#fb)" transform="rotate(0 157.5 615.3)"/>
<ellipse cx="129.3" cy="615.8" rx="3.5" ry="3.0" fill="#E8101C" opacity="0.60" filter="url(#fb)" transform="rotate(0 128.5 615.0)"/>
<ellipse cx="143.5" cy="618.8" rx="3.5" ry="3.0" fill="#E8101C" opacity="1.00" filter="url(#fb)" transform="rotate(180 142.7 618.0)"/>
<ellipse cx="135.6" cy="622.3" rx="3.5" ry="3.0" fill="#E8101C" opacity="1.00" filter="url(#fb)" transform="rotate(180 134.8 621.5)"/>
<ellipse cx="194.4" cy="615.2" rx="3.5" ry="3.0" fill="#E8101C" opacity="1.00" filter="url(#fb)" transform="rotate(90 193.6 614.4)"/>
<ellipse cx="212.1" cy="610.0" rx="3.5" ry="3.0" fill="#E8101C" opacity="0.40" filter="url(#fb)" transform="rotate(180 211.3 609.2)"/>
<ellipse cx="224.3" cy="612.9" rx="3.5" ry="3.0" fill="#E8101C" opacity="0.30" filter="url(#fb)" transform="rotate(90 223.5 612.1)"/>
<ellipse cx="205.0" cy="621.4" rx="3.5" ry="3.0" fill="#E8101C" opacity="0.90" filter="url(#fb)" transform="rotate(180 204.2 620.6)"/>
<ellipse cx="151.4" cy="624.9" rx="3.5" ry="3.0" fill="#E8101C" opacity="1.00" filter="url(#fb)" transform="rotate(180 150.6 624.1)"/>
<ellipse cx="168.0" cy="622.9" rx="3.5" ry="3.0" fill="#E8101C" opacity="1.00" filter="url(#fb)" transform="rotate(-90 167.2 622.1)"/>
<ellipse cx="187.3" cy="628.1" rx="3.5" ry="3.0" fill="#E8101C" opacity="0.80" filter="url(#fb)" transform="rotate(0 186.5 627.3)"/>
<ellipse cx="133.2" cy="633.2" rx="3.5" ry="3.0" fill="#E8101C" opacity="0.90" filter="url(#fb)" transform="rotate(45 132.4 632.4)"/>
<ellipse cx="154.9" cy="636.4" rx="3.5" ry="3.0" fill="#E8101C" opacity="1.00" filter="url(#fb)" transform="rotate(180 154.1 635.6)"/>
<ellipse cx="164.5" cy="634.7" rx="3.5" ry="3.0" fill="#E8101C" opacity="1.00" filter="url(#fb)" transform="rotate(-90 163.7 633.9)"/>
<ellipse cx="175.1" cy="631.1" rx="3.5" ry="3.0" fill="#E8101C" opacity="0.90" filter="url(#fb)" transform="rotate(-90 174.3 630.3)"/>
<ellipse cx="182.0" cy="635.8" rx="3.5" ry="3.0" fill="#E8101C" opacity="0.90" filter="url(#fb)" transform="rotate(0 181.2 635.0)"/>
<ellipse cx="197.0" cy="635.5" rx="3.5" ry="3.0" fill="#E8101C" opacity="0.30" filter="url(#fb)" transform="rotate(0 196.2 634.7)"/>
<ellipse cx="170.6" cy="640.8" rx="3.5" ry="3.0" fill="#E8101C" opacity="0.60" filter="url(#fb)" transform="rotate(0 169.8 640.0)"/>
<ellipse cx="187.4" cy="643.4" rx="3.5" ry="3.0" fill="#E8101C" opacity="1.00" filter="url(#fb)" transform="rotate(180 186.6 642.6)"/>
<ellipse cx="183.0" cy="648.6" rx="3.5" ry="3.0" fill="#E8101C" opacity="0.70" filter="url(#fb)" transform="rotate(90 182.2 647.8)"/>
<ellipse cx="176.8" cy="651.0" rx="3.5" ry="3.0" fill="#E8101C" opacity="0.50" filter="url(#fb)" transform="rotate(0 176.0 650.2)"/>
<ellipse cx="206.7" cy="646.0" rx="3.5" ry="3.0" fill="#E8101C" opacity="0.90" filter="url(#fb)" transform="rotate(90 205.9 645.2)"/>
<ellipse cx="218.1" cy="648.7" rx="3.5" ry="3.0" fill="#E8101C" opacity="0.30" filter="url(#fb)" transform="rotate(0 217.3 647.9)"/>
<ellipse cx="143.4" cy="647.0" rx="3.5" ry="3.0" fill="#E8101C" opacity="1.00" filter="url(#fb)" transform="rotate(-90 142.6 646.2)"/>
<ellipse cx="134.6" cy="638.9" rx="3.5" ry="3.0" fill="#E8101C" opacity="0.80" filter="url(#fb)" transform="rotate(90 133.8 638.1)"/>
<ellipse cx="122.4" cy="588.9" rx="3.5" ry="3.0" fill="#E8101C" opacity="1.00" filter="url(#fb)" transform="rotate(180 121.6 588.1)"/>
</g>
<ellipse cx="144.4" cy="557.0" rx="3.0" ry="2.9" fill="#1F22F5" opacity="0.87" filter="url(#fb)"/>
<ellipse cx="158.8" cy="552.0" rx="2.5" ry="2.2" fill="#1F22F5" opacity="0.96" filter="url(#fb)"/>
<ellipse cx="193.6" cy="552.4" rx="2.8" ry="2.5" fill="#1F22F5" opacity="0.98" filter="url(#fb)"/>
<ellipse cx="169.9" cy="563.5" rx="2.7" ry="2.5" fill="#1F22F5" opacity="0.85" filter="url(#fb)"/>
<ellipse cx="183.9" cy="570.5" rx="2.8" ry="2.6" fill="#1F22F5" opacity="0.91" filter="url(#fb)"/>
<ellipse cx="204.2" cy="567.0" rx="2.4" ry="2.3" fill="#1F22F5" opacity="0.82" filter="url(#fb)"/>
<ellipse cx="138.2" cy="574.5" rx="2.9" ry="2.6" fill="#1F22F5" opacity="0.83" filter="url(#fb)"/>
<ellipse cx="131.2" cy="582.8" rx="2.7" ry="2.4" fill="#1F22F5" opacity="0.88" filter="url(#fb)"/>
<ellipse cx="141.7" cy="581.9" rx="2.9" ry="2.6" fill="#1F22F5" opacity="0.94" filter="url(#fb)"/>
<ellipse cx="158.8" cy="577.5" rx="2.8" ry="2.7" fill="#1F22F5" opacity="0.86" filter="url(#fb)"/>
<ellipse cx="173.4" cy="579.3" rx="2.6" ry="2.4" fill="#1F22F5" opacity="0.87" filter="url(#fb)"/>
<ellipse cx="193.6" cy="582.8" rx="2.5" ry="2.2" fill="#1F22F5" opacity="0.87" filter="url(#fb)"/>
<ellipse cx="147.0" cy="589.8" rx="2.4" ry="2.2" fill="#1F22F5" opacity="0.89" filter="url(#fb)"/>
<ellipse cx="152.3" cy="586.8" rx="2.5" ry="2.2" fill="#1F22F5" opacity="0.90" filter="url(#fb)"/>
<ellipse cx="167.2" cy="591.1" rx="2.9" ry="2.6" fill="#1F22F5" opacity="0.90" filter="url(#fb)"/>
<ellipse cx="182.2" cy="591.6" rx="2.8" ry="2.7" fill="#1F22F5" opacity="0.92" filter="url(#fb)"/>
<ellipse cx="203.3" cy="589.0" rx="2.5" ry="2.2" fill="#1F22F5" opacity="0.96" filter="url(#fb)"/>
<ellipse cx="125.0" cy="597.8" rx="2.5" ry="2.1" fill="#1F22F5" opacity="0.97" filter="url(#fb)"/>
<ellipse cx="158.4" cy="599.2" rx="2.4" ry="2.2" fill="#1F22F5" opacity="0.83" filter="url(#fb)"/>
<ellipse cx="171.6" cy="599.2" rx="2.5" ry="2.4" fill="#1F22F5" opacity="0.84" filter="url(#fb)"/>
<ellipse cx="191.9" cy="602.1" rx="2.6" ry="2.4" fill="#1F22F5" opacity="0.96" filter="url(#fb)"/>
<ellipse cx="199.8" cy="597.8" rx="2.3" ry="2.2" fill="#1F22F5" opacity="0.78" filter="url(#fb)"/>
<ellipse cx="137.3" cy="603.0" rx="2.4" ry="2.3" fill="#1F22F5" opacity="0.84" filter="url(#fb)"/>
<ellipse cx="173.4" cy="607.4" rx="2.3" ry="2.2" fill="#1F22F5" opacity="0.98" filter="url(#fb)"/>
<ellipse cx="147.9" cy="609.2" rx="2.8" ry="2.5" fill="#1F22F5" opacity="0.95" filter="url(#fb)"/>
<ellipse cx="155.8" cy="615.3" rx="2.9" ry="2.6" fill="#1F22F5" opacity="0.82" filter="url(#fb)"/>
<ellipse cx="126.8" cy="615.0" rx="3.0" ry="2.9" fill="#1F22F5" opacity="0.80" filter="url(#fb)"/>
<ellipse cx="144.4" cy="618.0" rx="2.8" ry="2.7" fill="#1F22F5" opacity="0.90" filter="url(#fb)"/>
<ellipse cx="136.5" cy="621.5" rx="2.8" ry="2.6" fill="#1F22F5" opacity="0.81" filter="url(#fb)"/>
<ellipse cx="193.6" cy="612.7" rx="2.4" ry="2.1" fill="#1F22F5" opacity="0.92" filter="url(#fb)"/>
<ellipse cx="213.0" cy="609.2" rx="2.4" ry="2.3" fill="#1F22F5" opacity="0.85" filter="url(#fb)"/>
<ellipse cx="223.5" cy="610.4" rx="2.6" ry="2.6" fill="#1F22F5" opacity="0.85" filter="url(#fb)"/>
<ellipse cx="205.9" cy="620.6" rx="2.6" ry="2.4" fill="#1F22F5" opacity="0.80" filter="url(#fb)"/>
<ellipse cx="152.3" cy="624.1" rx="2.5" ry="2.3" fill="#1F22F5" opacity="0.95" filter="url(#fb)"/>
<ellipse cx="167.2" cy="623.8" rx="2.4" ry="2.3" fill="#1F22F5" opacity="0.92" filter="url(#fb)"/>
<ellipse cx="184.8" cy="627.3" rx="2.3" ry="2.2" fill="#1F22F5" opacity="0.85" filter="url(#fb)"/>
<ellipse cx="131.2" cy="631.2" rx="2.7" ry="2.3" fill="#1F22F5" opacity="0.88" filter="url(#fb)"/>
<ellipse cx="155.8" cy="635.6" rx="2.7" ry="2.6" fill="#1F22F5" opacity="0.90" filter="url(#fb)"/>
<ellipse cx="163.7" cy="635.6" rx="2.8" ry="2.7" fill="#1F22F5" opacity="0.81" filter="url(#fb)"/>
<ellipse cx="174.3" cy="632.0" rx="2.3" ry="2.1" fill="#1F22F5" opacity="0.78" filter="url(#fb)"/>
<ellipse cx="179.5" cy="635.0" rx="2.4" ry="2.2" fill="#1F22F5" opacity="0.88" filter="url(#fb)"/>
<ellipse cx="194.5" cy="634.7" rx="2.7" ry="2.6" fill="#1F22F5" opacity="0.99" filter="url(#fb)"/>
<ellipse cx="168.1" cy="640.0" rx="2.4" ry="2.2" fill="#1F22F5" opacity="0.77" filter="url(#fb)"/>
<ellipse cx="188.3" cy="642.6" rx="2.8" ry="2.5" fill="#1F22F5" opacity="0.79" filter="url(#fb)"/>
<ellipse cx="182.2" cy="646.1" rx="2.5" ry="2.4" fill="#1F22F5" opacity="0.87" filter="url(#fb)"/>
<ellipse cx="174.3" cy="650.2" rx="3.0" ry="2.7" fill="#1F22F5" opacity="0.84" filter="url(#fb)"/>
<ellipse cx="205.9" cy="643.5" rx="2.9" ry="2.8" fill="#1F22F5" opacity="0.78" filter="url(#fb)"/>
<ellipse cx="215.6" cy="647.9" rx="2.8" ry="2.6" fill="#1F22F5" opacity="0.99" filter="url(#fb)"/>
<ellipse cx="142.6" cy="647.9" rx="2.7" ry="2.7" fill="#1F22F5" opacity="0.97" filter="url(#fb)"/>
<ellipse cx="133.8" cy="636.4" rx="2.7" ry="2.6" fill="#1F22F5" opacity="0.76" filter="url(#fb)"/>
<ellipse cx="123.3" cy="588.1" rx="2.5" ry="2.5" fill="#1F22F5" opacity="0.75" filter="url(#fb)"/>
<circle cx="184.87" cy="654.92" r="0.59" fill="#E8101C" opacity="0.73"/>
<circle cx="130.06" cy="607.65" r="0.54" fill="#E8101C" opacity="0.52"/>
<circle cx="161.59" cy="633.43" r="0.37" fill="#E8101C" opacity="0.32"/>
<circle cx="177.56" cy="651.55" r="0.63" fill="#E8101C" opacity="0.64"/>
<circle cx="150.12" cy="645.15" r="0.32" fill="#E8101C" opacity="0.42"/>
<circle cx="195.50" cy="644.15" r="0.46" fill="#E8101C" opacity="0.75"/>
<circle cx="133.20" cy="613.49" r="0.33" fill="#E8101C" opacity="0.42"/>
<circle cx="140.47" cy="552.65" r="0.46" fill="#E8101C" opacity="0.55"/>
<circle cx="148.85" cy="619.12" r="0.32" fill="#E8101C" opacity="0.56"/>
<circle cx="171.55" cy="593.52" r="0.67" fill="#E8101C" opacity="0.36"/>
<circle cx="162.27" cy="599.36" r="0.45" fill="#E8101C" opacity="0.79"/>
<circle cx="175.61" cy="605.19" r="0.48" fill="#E8101C" opacity="0.52"/>
<circle cx="210.49" cy="634.31" r="0.56" fill="#E8101C" opacity="0.38"/>
<circle cx="177.70" cy="565.17" r="0.44" fill="#E8101C" opacity="0.31"/>
<circle cx="187.88" cy="652.68" r="0.56" fill="#E8101C" opacity="0.58"/>
<circle cx="146.04" cy="597.57" r="0.49" fill="#E8101C" opacity="0.51"/>
<circle cx="147.79" cy="574.59" r="0.60" fill="#E8101C" opacity="0.78"/>
<circle cx="198.56" cy="616.02" r="0.31" fill="#E8101C" opacity="0.45"/>
<circle cx="200.28" cy="652.19" r="0.52" fill="#E8101C" opacity="0.58"/>
<circle cx="186.15" cy="577.45" r="0.58" fill="#E8101C" opacity="0.48"/>
<circle cx="200.93" cy="599.56" r="0.57" fill="#E8101C" opacity="0.58"/>
<circle cx="172.19" cy="599.47" r="0.68" fill="#E8101C" opacity="0.68"/>
<circle cx="161.62" cy="604.05" r="0.66" fill="#E8101C" opacity="0.67"/>
<circle cx="183.08" cy="650.76" r="0.35" fill="#E8101C" opacity="0.60"/>
<circle cx="180.43" cy="598.83" r="0.69" fill="#E8101C" opacity="0.78"/>
<circle cx="158.93" cy="615.48" r="0.61" fill="#E8101C" opacity="0.65"/>
<circle cx="156.37" cy="634.22" r="0.44" fill="#E8101C" opacity="0.37"/>
<circle cx="184.14" cy="618.87" r="0.46" fill="#E8101C" opacity="0.55"/>
<circle cx="213.89" cy="635.23" r="0.46" fill="#E8101C" opacity="0.76"/>
<circle cx="175.47" cy="593.71" r="0.56" fill="#E8101C" opacity="0.69"/>
<circle cx="205.46" cy="621.04" r="0.57" fill="#E8101C" opacity="0.50"/>
<circle cx="126.71" cy="598.84" r="0.35" fill="#E8101C" opacity="0.77"/>
<circle cx="156.35" cy="614.32" r="0.59" fill="#E8101C" opacity="0.39"/>
<circle cx="199.68" cy="585.54" r="0.33" fill="#E8101C" opacity="0.60"/>
<circle cx="160.02" cy="646.67" r="0.48" fill="#E8101C" opacity="0.35"/>
<circle cx="124.70" cy="555.13" r="0.50" fill="#E8101C" opacity="0.66"/>
<circle cx="127.72" cy="585.97" r="0.49" fill="#E8101C" opacity="0.75"/>
<circle cx="212.29" cy="642.14" r="0.56" fill="#E8101C" opacity="0.59"/>
<circle cx="143.51" cy="615.06" r="0.37" fill="#E8101C" opacity="0.45"/>
<circle cx="199.38" cy="610.52" r="0.59" fill="#E8101C" opacity="0.53"/>
<circle cx="148.70" cy="603.88" r="0.53" fill="#E8101C" opacity="0.42"/>
<circle cx="200.78" cy="653.06" r="0.37" fill="#E8101C" opacity="0.42"/>
<circle cx="197.65" cy="626.35" r="0.39" fill="#E8101C" opacity="0.59"/>
<circle cx="144.91" cy="640.87" r="0.53" fill="#E8101C" opacity="0.56"/>
<circle cx="137.87" cy="593.79" r="0.49" fill="#E8101C" opacity="0.48"/>
<circle cx="139.55" cy="572.41" r="0.58" fill="#E8101C" opacity="0.76"/>
<circle cx="200.64" cy="615.37" r="0.62" fill="#E8101C" opacity="0.37"/>
<circle cx="142.32" cy="624.48" r="0.30" fill="#E8101C" opacity="0.34"/>
<circle cx="194.65" cy="572.28" r="0.37" fill="#E8101C" opacity="0.50"/>
<circle cx="199.99" cy="553.07" r="0.65" fill="#E8101C" opacity="0.45"/>
<circle cx="175.53" cy="600.68" r="0.35" fill="#E8101C" opacity="0.78"/>
<circle cx="139.18" cy="634.91" r="0.65" fill="#E8101C" opacity="0.53"/>
<circle cx="211.34" cy="558.48" r="0.36" fill="#E8101C" opacity="0.54"/>
<circle cx="129.87" cy="635.20" r="0.51" fill="#E8101C" opacity="0.70"/>
<circle cx="149.36" cy="554.80" r="0.66" fill="#E8101C" opacity="0.40"/>
<circle cx="161.36" cy="564.94" r="0.53" fill="#E8101C" opacity="0.53"/>
<circle cx="141.22" cy="556.03" r="0.44" fill="#E8101C" opacity="0.69"/>
<circle cx="137.16" cy="575.52" r="0.55" fill="#E8101C" opacity="0.62"/>
<circle cx="197.00" cy="618.44" r="0.64" fill="#E8101C" opacity="0.38"/>
<circle cx="207.83" cy="554.97" r="0.35" fill="#E8101C" opacity="0.35"/>
</g>
<g clip-path="url(#d1)">
<circle cx="54.30" cy="530.59" r="0.71" fill="#D01018" opacity="0.74"/>
<circle cx="63.52" cy="534.06" r="0.46" fill="#D01018" opacity="0.73"/>
<circle cx="52.09" cy="517.93" r="0.55" fill="#D01018" opacity="0.26"/>
<circle cx="14.91" cy="534.79" r="0.62" fill="#D01018" opacity="0.68"/>
<circle cx="53.17" cy="514.50" r="0.63" fill="#D01018" opacity="0.74"/>
<circle cx="49.19" cy="529.78" r="0.43" fill="#D01018" opacity="0.28"/>
<circle cx="46.52" cy="544.77" r="0.35" fill="#D01018" opacity="0.66"/>
<circle cx="60.68" cy="525.06" r="0.68" fill="#D01018" opacity="0.33"/>
<circle cx="29.63" cy="532.59" r="0.70" fill="#D01018" opacity="0.52"/>
<circle cx="18.64" cy="543.27" r="0.56" fill="#D01018" opacity="0.64"/>
<circle cx="25.95" cy="524.36" r="0.34" fill="#D01018" opacity="0.34"/>
<circle cx="36.73" cy="527.32" r="0.60" fill="#D01018" opacity="0.67"/>
<circle cx="31.38" cy="543.10" r="0.59" fill="#D01018" opacity="0.42"/>
<circle cx="23.61" cy="544.46" r="0.60" fill="#D01018" opacity="0.27"/>
<circle cx="49.60" cy="526.07" r="0.49" fill="#D01018" opacity="0.63"/>
<circle cx="25.60" cy="521.49" r="0.54" fill="#D01018" opacity="0.70"/>
<circle cx="18.48" cy="540.19" r="0.62" fill="#D01018" opacity="0.34"/>
<circle cx="48.41" cy="534.27" r="0.62" fill="#D01018" opacity="0.52"/>
<circle cx="30.31" cy="530.52" r="0.41" fill="#D01018" opacity="0.48"/>
<circle cx="35.12" cy="512.44" r="0.40" fill="#D01018" opacity="0.42"/>
<circle cx="34.47" cy="532.49" r="0.64" fill="#D01018" opacity="0.38"/>
<circle cx="42.84" cy="524.48" r="0.40" fill="#D01018" opacity="0.32"/>
<circle cx="63.91" cy="543.37" r="0.67" fill="#D01018" opacity="0.34"/>
<circle cx="21.85" cy="512.27" r="0.44" fill="#D01018" opacity="0.46"/>
<circle cx="14.38" cy="527.72" r="0.61" fill="#D01018" opacity="0.67"/>
<circle cx="23.87" cy="499.01" r="0.66" fill="#D01018" opacity="0.44"/>
<circle cx="30.31" cy="515.59" r="0.42" fill="#D01018" opacity="0.38"/>
<circle cx="27.36" cy="519.82" r="0.53" fill="#D01018" opacity="0.66"/>
<circle cx="30.07" cy="527.51" r="0.52" fill="#D01018" opacity="0.67"/>
<circle cx="53.86" cy="546.39" r="0.38" fill="#D01018" opacity="0.65"/>
<circle cx="29.32" cy="532.90" r="0.54" fill="#D01018" opacity="0.54"/>
<circle cx="30.74" cy="509.69" r="0.30" fill="#D01018" opacity="0.71"/>
<circle cx="60.10" cy="529.07" r="0.34" fill="#D01018" opacity="0.67"/>
<circle cx="40.09" cy="529.43" r="0.59" fill="#D01018" opacity="0.33"/>
<circle cx="25.36" cy="539.68" r="0.63" fill="#D01018" opacity="0.74"/>
<circle cx="36.53" cy="545.36" r="0.70" fill="#D01018" opacity="0.50"/>
<circle cx="60.39" cy="516.07" r="0.33" fill="#D01018" opacity="0.66"/>
<circle cx="21.35" cy="530.95" r="0.63" fill="#D01018" opacity="0.59"/>
<circle cx="25.44" cy="538.95" r="0.32" fill="#D01018" opacity="0.53"/>
<circle cx="60.68" cy="531.95" r="0.44" fill="#D01018" opacity="0.75"/>
<circle cx="51.80" cy="539.07" r="0.70" fill="#D01018" opacity="0.72"/>
<circle cx="43.85" cy="539.93" r="0.53" fill="#D01018" opacity="0.38"/>
<circle cx="28.47" cy="521.19" r="0.31" fill="#D01018" opacity="0.56"/>
<circle cx="34.81" cy="542.52" r="0.32" fill="#D01018" opacity="0.64"/>
<circle cx="24.14" cy="523.91" r="0.43" fill="#D01018" opacity="0.73"/>
<circle cx="47.59" cy="529.33" r="0.38" fill="#D01018" opacity="0.27"/>
<circle cx="33.11" cy="545.52" r="0.50" fill="#D01018" opacity="0.59"/>
<circle cx="59.78" cy="507.31" r="0.44" fill="#D01018" opacity="0.46"/>
<circle cx="25.76" cy="526.26" r="0.61" fill="#D01018" opacity="0.32"/>
<circle cx="50.11" cy="522.75" r="0.60" fill="#D01018" opacity="0.34"/>
<circle cx="55.05" cy="527.62" r="0.67" fill="#D01018" opacity="0.73"/>
<circle cx="44.23" cy="503.89" r="0.46" fill="#D01018" opacity="0.74"/>
<circle cx="47.91" cy="538.18" r="0.51" fill="#D01018" opacity="0.72"/>
<circle cx="61.16" cy="534.01" r="0.57" fill="#D01018" opacity="0.30"/>
<circle cx="14.38" cy="518.43" r="0.62" fill="#D01018" opacity="0.67"/>
<circle cx="54.03" cy="541.73" r="0.31" fill="#D01018" opacity="0.26"/>
<circle cx="27.27" cy="503.36" r="0.56" fill="#D01018" opacity="0.71"/>
<circle cx="60.74" cy="512.42" r="0.60" fill="#D01018" opacity="0.59"/>
<circle cx="48.18" cy="527.34" r="0.41" fill="#D01018" opacity="0.69"/>
<circle cx="60.99" cy="537.02" r="0.54" fill="#D01018" opacity="0.27"/>
<circle cx="28.38" cy="520.15" r="0.41" fill="#D01018" opacity="0.36"/>
<circle cx="48.74" cy="535.99" r="0.38" fill="#D01018" opacity="0.70"/>
<circle cx="14.03" cy="544.44" r="0.56" fill="#D01018" opacity="0.57"/>
<circle cx="28.64" cy="536.32" r="0.69" fill="#D01018" opacity="0.35"/>
<circle cx="20.85" cy="538.97" r="0.41" fill="#D01018" opacity="0.30"/>
<circle cx="39.58" cy="517.44" r="0.40" fill="#D01018" opacity="0.39"/>
<circle cx="18.39" cy="539.79" r="0.55" fill="#D01018" opacity="0.58"/>
<circle cx="29.18" cy="538.63" r="0.73" fill="#D01018" opacity="0.75"/>
<circle cx="16.21" cy="523.35" r="0.34" fill="#D01018" opacity="0.49"/>
<circle cx="48.19" cy="533.88" r="0.46" fill="#D01018" opacity="0.73"/>
<circle cx="46.44" cy="547.75" r="0.49" fill="#D01018" opacity="0.57"/>
<circle cx="19.16" cy="531.61" r="0.59" fill="#D01018" opacity="0.37"/>
<circle cx="46.46" cy="514.20" r="0.51" fill="#D01018" opacity="0.55"/>
<circle cx="38.95" cy="515.40" r="0.39" fill="#D01018" opacity="0.44"/>
<circle cx="47.91" cy="528.12" r="0.39" fill="#D01018" opacity="0.42"/>
<circle cx="30.04" cy="514.54" r="0.57" fill="#D01018" opacity="0.49"/>
<circle cx="30.93" cy="498.89" r="0.71" fill="#D01018" opacity="0.27"/>
<circle cx="19.99" cy="522.63" r="0.66" fill="#D01018" opacity="0.72"/>
<circle cx="53.47" cy="518.48" r="0.68" fill="#D01018" opacity="0.27"/>
<circle cx="19.84" cy="512.81" r="0.55" fill="#D01018" opacity="0.55"/>
<circle cx="46.59" cy="544.07" r="0.64" fill="#D01018" opacity="0.62"/>
<circle cx="22.99" cy="542.53" r="0.71" fill="#D01018" opacity="0.66"/>
<circle cx="18.20" cy="536.96" r="0.53" fill="#D01018" opacity="0.52"/>
<circle cx="27.93" cy="538.57" r="0.66" fill="#D01018" opacity="0.63"/>
<circle cx="29.70" cy="537.57" r="0.34" fill="#D01018" opacity="0.59"/>
<circle cx="15.58" cy="500.71" r="0.35" fill="#D01018" opacity="0.58"/>
<circle cx="65.16" cy="529.33" r="0.59" fill="#D01018" opacity="0.54"/>
<circle cx="57.75" cy="545.23" r="0.67" fill="#D01018" opacity="0.42"/>
<circle cx="17.74" cy="541.93" r="0.43" fill="#D01018" opacity="0.63"/>
<circle cx="58.98" cy="516.38" r="0.39" fill="#D01018" opacity="0.46"/>
<circle cx="57.90" cy="540.68" r="0.75" fill="#D01018" opacity="0.39"/>
<circle cx="46.39" cy="541.29" r="0.47" fill="#D01018" opacity="0.54"/>
<circle cx="25.68" cy="540.81" r="0.50" fill="#D01018" opacity="0.49"/>
<circle cx="48.11" cy="523.71" r="0.67" fill="#D01018" opacity="0.48"/>
<circle cx="36.34" cy="537.28" r="0.60" fill="#D01018" opacity="0.60"/>
<circle cx="59.50" cy="539.53" r="0.48" fill="#D01018" opacity="0.57"/>
<circle cx="58.91" cy="508.16" r="0.60" fill="#D01018" opacity="0.51"/>
<circle cx="34.96" cy="513.32" r="0.43" fill="#D01018" opacity="0.62"/>
<circle cx="59.98" cy="546.50" r="0.64" fill="#D01018" opacity="0.69"/>
<circle cx="56.96" cy="516.20" r="0.61" fill="#D01018" opacity="0.68"/>
<circle cx="53.11" cy="521.86" r="0.62" fill="#D01018" opacity="0.44"/>
<circle cx="36.50" cy="537.42" r="0.60" fill="#D01018" opacity="0.32"/>
<circle cx="47.32" cy="508.55" r="0.39" fill="#D01018" opacity="0.66"/>
<circle cx="61.47" cy="520.84" r="0.64" fill="#D01018" opacity="0.34"/>
<circle cx="39.90" cy="524.91" r="0.34" fill="#D01018" opacity="0.47"/>
<circle cx="42.70" cy="540.66" r="0.35" fill="#D01018" opacity="0.39"/>
<circle cx="14.21" cy="518.60" r="0.42" fill="#D01018" opacity="0.66"/>
<circle cx="62.81" cy="518.93" r="0.52" fill="#D01018" opacity="0.51"/>
<circle cx="39.52" cy="544.63" r="0.73" fill="#D01018" opacity="0.27"/>
<circle cx="35.22" cy="531.37" r="0.59" fill="#D01018" opacity="0.52"/>
<circle cx="56.65" cy="511.85" r="0.51" fill="#D01018" opacity="0.67"/>
<circle cx="22.88" cy="516.71" r="0.58" fill="#D01018" opacity="0.32"/>
<circle cx="42.36" cy="513.68" r="0.38" fill="#D01018" opacity="0.42"/>
<circle cx="54.72" cy="533.97" r="0.57" fill="#D01018" opacity="0.56"/>
<circle cx="34.63" cy="545.66" r="0.57" fill="#D01018" opacity="0.56"/>
<circle cx="17.50" cy="520.63" r="0.56" fill="#D01018" opacity="0.73"/>
<circle cx="50.58" cy="508.02" r="0.66" fill="#D01018" opacity="0.36"/>
<circle cx="44.96" cy="517.67" r="0.33" fill="#D01018" opacity="0.64"/>
<circle cx="39.26" cy="533.78" r="0.62" fill="#D01018" opacity="0.55"/>
<circle cx="35.66" cy="523.83" r="0.54" fill="#D01018" opacity="0.37"/>
<circle cx="27.64" cy="539.58" r="0.45" fill="#D01018" opacity="0.61"/>
<circle cx="49.33" cy="529.26" r="0.65" fill="#D01018" opacity="0.42"/>
<circle cx="14.19" cy="540.58" r="0.64" fill="#D01018" opacity="0.62"/>
<circle cx="61.84" cy="527.21" r="0.49" fill="#D01018" opacity="0.56"/>
<circle cx="59.35" cy="522.07" r="0.64" fill="#D01018" opacity="0.73"/>
<circle cx="27.22" cy="503.24" r="0.37" fill="#D01018" opacity="0.57"/>
<circle cx="25.24" cy="544.08" r="0.34" fill="#D01018" opacity="0.70"/>
<circle cx="32.41" cy="542.89" r="0.45" fill="#D01018" opacity="0.31"/>
<circle cx="49.12" cy="522.87" r="0.72" fill="#D01018" opacity="0.66"/>
<circle cx="27.33" cy="530.11" r="0.55" fill="#D01018" opacity="0.64"/>
<circle cx="27.72" cy="532.58" r="0.53" fill="#D01018" opacity="0.54"/>
<circle cx="42.89" cy="528.09" r="0.47" fill="#D01018" opacity="0.45"/>
<circle cx="65.71" cy="531.17" r="0.35" fill="#D01018" opacity="0.45"/>
<circle cx="53.83" cy="536.06" r="0.34" fill="#D01018" opacity="0.46"/>
<circle cx="37.50" cy="540.49" r="0.42" fill="#D01018" opacity="0.71"/>
<circle cx="56.32" cy="503.64" r="0.52" fill="#D01018" opacity="0.52"/>
<circle cx="46.81" cy="541.75" r="0.39" fill="#D01018" opacity="0.66"/>
<circle cx="14.46" cy="540.16" r="0.42" fill="#D01018" opacity="0.26"/>
<circle cx="56.27" cy="545.31" r="0.60" fill="#D01018" opacity="0.64"/>
<circle cx="34.65" cy="520.54" r="0.60" fill="#D01018" opacity="0.65"/>
<circle cx="27.96" cy="525.98" r="0.42" fill="#D01018" opacity="0.38"/>
<circle cx="59.04" cy="500.92" r="0.31" fill="#D01018" opacity="0.34"/>
<circle cx="54.81" cy="532.70" r="0.64" fill="#D01018" opacity="0.60"/>
<circle cx="60.19" cy="533.22" r="0.31" fill="#D01018" opacity="0.30"/>
<circle cx="35.41" cy="513.27" r="0.44" fill="#D01018" opacity="0.39"/>
<circle cx="65.14" cy="544.93" r="0.60" fill="#D01018" opacity="0.46"/>
<circle cx="35.48" cy="509.55" r="0.50" fill="#D01018" opacity="0.32"/>
<circle cx="41.67" cy="539.72" r="0.48" fill="#D01018" opacity="0.60"/>
<circle cx="56.35" cy="542.68" r="0.49" fill="#D01018" opacity="0.37"/>
<circle cx="60.26" cy="530.41" r="0.42" fill="#D01018" opacity="0.59"/>
</g>
<g clip-path="url(#d2)">
<circle cx="94.90" cy="499.21" r="1.33" fill="#1F22F5" opacity="0.99" filter="url(#fb)"/>
<circle cx="80.16" cy="503.66" r="1.09" fill="#1F22F5" opacity="0.63" filter="url(#fb)"/>
<circle cx="88.66" cy="505.27" r="1.03" fill="#1F22F5" opacity="0.65" filter="url(#fb)"/>
<circle cx="99.66" cy="506.78" r="1.01" fill="#1F22F5" opacity="0.96" filter="url(#fb)"/>
<circle cx="108.51" cy="505.45" r="1.22" fill="#1F22F5" opacity="0.53" filter="url(#fb)"/>
<circle cx="117.44" cy="502.77" r="0.95" fill="#1F22F5" opacity="0.59" filter="url(#fb)"/>
<circle cx="74.96" cy="515.70" r="1.38" fill="#1F22F5" opacity="0.67" filter="url(#fb)"/>
<circle cx="72.79" cy="518.37" r="1.30" fill="#1F22F5" opacity="0.61" filter="url(#fb)"/>
<circle cx="81.89" cy="519.26" r="1.00" fill="#1F22F5" opacity="0.97" filter="url(#fb)"/>
<circle cx="85.79" cy="517.04" r="0.94" fill="#1F22F5" opacity="0.75" filter="url(#fb)"/>
<circle cx="88.83" cy="513.65" r="1.16" fill="#1F22F5" opacity="0.67" filter="url(#fb)"/>
<circle cx="95.76" cy="512.13" r="1.28" fill="#1F22F5" opacity="0.93" filter="url(#fb)"/>
<circle cx="101.83" cy="514.81" r="1.01" fill="#1F22F5" opacity="0.65" filter="url(#fb)"/>
<circle cx="92.73" cy="517.48" r="1.14" fill="#1F22F5" opacity="0.74" filter="url(#fb)"/>
<circle cx="104.87" cy="519.26" r="1.22" fill="#1F22F5" opacity="0.89" filter="url(#fb)"/>
<circle cx="98.36" cy="521.94" r="1.07" fill="#1F22F5" opacity="0.97" filter="url(#fb)"/>
<circle cx="87.79" cy="522.38" r="1.13" fill="#1F22F5" opacity="0.51" filter="url(#fb)"/>
<circle cx="110.50" cy="521.49" r="1.11" fill="#1F22F5" opacity="0.76" filter="url(#fb)"/>
<circle cx="116.57" cy="524.17" r="0.99" fill="#1F22F5" opacity="0.94" filter="url(#fb)"/>
<circle cx="102.70" cy="523.72" r="1.20" fill="#1F22F5" opacity="0.76" filter="url(#fb)"/>
<circle cx="75.39" cy="529.96" r="1.04" fill="#1F22F5" opacity="0.57" filter="url(#fb)"/>
<circle cx="80.16" cy="532.19" r="1.04" fill="#1F22F5" opacity="0.82" filter="url(#fb)"/>
<circle cx="68.89" cy="528.18" r="1.24" fill="#1F22F5" opacity="0.84" filter="url(#fb)"/>
<circle cx="76.26" cy="534.42" r="0.92" fill="#1F22F5" opacity="0.89" filter="url(#fb)"/>
<circle cx="79.29" cy="536.65" r="1.25" fill="#1F22F5" opacity="0.84" filter="url(#fb)"/>
<circle cx="87.53" cy="533.08" r="1.16" fill="#1F22F5" opacity="0.93" filter="url(#fb)"/>
<circle cx="90.13" cy="529.96" r="1.38" fill="#1F22F5" opacity="0.79" filter="url(#fb)"/>
<circle cx="88.39" cy="539.32" r="1.12" fill="#1F22F5" opacity="0.77" filter="url(#fb)"/>
<circle cx="92.30" cy="546.46" r="1.30" fill="#1F22F5" opacity="0.84" filter="url(#fb)"/>
<circle cx="101.40" cy="534.42" r="1.29" fill="#1F22F5" opacity="0.65" filter="url(#fb)"/>
<circle cx="100.10" cy="539.32" r="1.20" fill="#1F22F5" opacity="0.62" filter="url(#fb)"/>
<circle cx="108.77" cy="529.96" r="1.19" fill="#1F22F5" opacity="0.51" filter="url(#fb)"/>
<circle cx="107.47" cy="536.20" r="1.17" fill="#1F22F5" opacity="0.86" filter="url(#fb)"/>
<circle cx="113.10" cy="535.76" r="1.36" fill="#1F22F5" opacity="0.74" filter="url(#fb)"/>
<circle cx="117.44" cy="535.76" r="1.34" fill="#1F22F5" opacity="0.60" filter="url(#fb)"/>
<circle cx="102.70" cy="528.63" r="0.91" fill="#1F22F5" opacity="0.78" filter="url(#fb)"/>
<circle cx="98.36" cy="526.40" r="1.07" fill="#1F22F5" opacity="0.70" filter="url(#fb)"/>
<circle cx="112.23" cy="517.04" r="1.20" fill="#1F22F5" opacity="0.88" filter="url(#fb)"/>
<circle cx="118.30" cy="515.25" r="1.33" fill="#1F22F5" opacity="0.66" filter="url(#fb)"/>
<circle cx="106.17" cy="502.77" r="1.19" fill="#1F22F5" opacity="0.81" filter="url(#fb)"/>
<circle cx="113.10" cy="509.90" r="1.24" fill="#1F22F5" opacity="0.79" filter="url(#fb)"/>
<circle cx="86.23" cy="509.01" r="1.13" fill="#1F22F5" opacity="0.90" filter="url(#fb)"/>
<circle cx="92.30" cy="509.01" r="0.91" fill="#1F22F5" opacity="0.89" filter="url(#fb)"/>
<circle cx="78.43" cy="510.80" r="0.98" fill="#1F22F5" opacity="0.59" filter="url(#fb)"/>
<circle cx="70.62" cy="541.11" r="1.24" fill="#1F22F5" opacity="0.73" filter="url(#fb)"/>
<circle cx="74.09" cy="544.23" r="1.07" fill="#1F22F5" opacity="0.54" filter="url(#fb)"/>
<circle cx="113.10" cy="544.23" r="0.93" fill="#1F22F5" opacity="0.63" filter="url(#fb)"/>
<circle cx="107.03" cy="543.78" r="0.95" fill="#1F22F5" opacity="0.85" filter="url(#fb)"/>
<circle cx="95.76" cy="543.78" r="1.00" fill="#1F22F5" opacity="0.69" filter="url(#fb)"/>
<circle cx="83.63" cy="544.67" r="1.11" fill="#1F22F5" opacity="0.85" filter="url(#fb)"/>
<circle cx="86.23" cy="500.54" r="1.31" fill="#1F22F5" opacity="0.82" filter="url(#fb)"/>
<circle cx="113.97" cy="498.31" r="1.01" fill="#1F22F5" opacity="0.57" filter="url(#fb)"/>
<circle cx="103.57" cy="499.21" r="1.18" fill="#1F22F5" opacity="0.68" filter="url(#fb)"/>
<circle cx="70.62" cy="506.34" r="1.26" fill="#1F22F5" opacity="0.61" filter="url(#fb)"/>
<circle cx="68.89" cy="513.47" r="1.25" fill="#1F22F5" opacity="0.68" filter="url(#fb)"/>
<circle cx="117.44" cy="530.41" r="1.04" fill="#1F22F5" opacity="0.59" filter="url(#fb)"/>
<circle cx="94.03" cy="534.87" r="1.28" fill="#1F22F5" opacity="0.75" filter="url(#fb)"/>
<circle cx="82.76" cy="526.84" r="1.17" fill="#1F22F5" opacity="0.92" filter="url(#fb)"/>
<circle cx="72.36" cy="523.72" r="0.91" fill="#1F22F5" opacity="0.77" filter="url(#fb)"/>
<circle cx="109.20" cy="513.47" r="1.06" fill="#1F22F5" opacity="0.62" filter="url(#fb)"/>
</g>
<g clip-path="url(#d4)">
<circle cx="134.18" cy="499.03" r="1.15" fill="#E8101C" opacity="0.70" filter="url(#fb)"/>
<circle cx="140.39" cy="495.63" r="1.15" fill="#E8101C" opacity="0.70" filter="url(#fb)"/>
<circle cx="157.55" cy="495.81" r="1.15" fill="#E8101C" opacity="0.35" filter="url(#fb)"/>
<circle cx="151.89" cy="505.89" r="1.15" fill="#E8101C" opacity="0.28" filter="url(#fb)"/>
<circle cx="163.65" cy="504.11" r="1.15" fill="#E8101C" opacity="0.21" filter="url(#fb)"/>
<circle cx="130.25" cy="508.84" r="1.15" fill="#E8101C" opacity="0.56" filter="url(#fb)"/>
<circle cx="125.88" cy="512.13" r="1.15" fill="#E8101C" opacity="0.49" filter="url(#fb)"/>
<circle cx="132.88" cy="511.69" r="1.15" fill="#E8101C" opacity="0.42" filter="url(#fb)"/>
<circle cx="139.75" cy="508.82" r="1.15" fill="#E8101C" opacity="0.70" filter="url(#fb)"/>
<circle cx="148.22" cy="509.71" r="1.15" fill="#E8101C" opacity="0.63" filter="url(#fb)"/>
<circle cx="157.55" cy="511.23" r="1.15" fill="#E8101C" opacity="0.56" filter="url(#fb)"/>
<circle cx="135.48" cy="515.70" r="1.15" fill="#E8101C" opacity="0.63" filter="url(#fb)"/>
<circle cx="138.08" cy="514.18" r="1.15" fill="#E8101C" opacity="0.21" filter="url(#fb)"/>
<circle cx="145.45" cy="516.32" r="1.15" fill="#E8101C" opacity="0.70" filter="url(#fb)"/>
<circle cx="161.42" cy="515.25" r="1.15" fill="#E8101C" opacity="0.42" filter="url(#fb)"/>
<circle cx="122.84" cy="519.71" r="1.15" fill="#E8101C" opacity="0.70" filter="url(#fb)"/>
<circle cx="139.32" cy="520.42" r="1.15" fill="#E8101C" opacity="0.63" filter="url(#fb)"/>
<circle cx="146.72" cy="519.52" r="1.15" fill="#E8101C" opacity="0.63" filter="url(#fb)"/>
<circle cx="157.59" cy="521.94" r="1.15" fill="#E8101C" opacity="0.63" filter="url(#fb)"/>
<circle cx="161.49" cy="519.71" r="1.15" fill="#E8101C" opacity="0.63" filter="url(#fb)"/>
<circle cx="129.81" cy="523.28" r="1.15" fill="#E8101C" opacity="0.63" filter="url(#fb)"/>
<circle cx="148.03" cy="523.83" r="1.15" fill="#E8101C" opacity="0.63" filter="url(#fb)"/>
<circle cx="134.11" cy="525.51" r="1.15" fill="#E8101C" opacity="0.70" filter="url(#fb)"/>
<circle cx="139.82" cy="528.63" r="1.15" fill="#E8101C" opacity="0.70" filter="url(#fb)"/>
<circle cx="125.51" cy="528.45" r="1.15" fill="#E8101C" opacity="0.42" filter="url(#fb)"/>
<circle cx="132.38" cy="529.96" r="1.15" fill="#E8101C" opacity="0.70" filter="url(#fb)"/>
<circle cx="128.48" cy="531.75" r="1.15" fill="#E8101C" opacity="0.70" filter="url(#fb)"/>
<circle cx="157.55" cy="528.19" r="1.15" fill="#E8101C" opacity="0.70" filter="url(#fb)"/>
<circle cx="166.19" cy="525.51" r="1.15" fill="#E8101C" opacity="0.28" filter="url(#fb)"/>
<circle cx="172.29" cy="527.03" r="1.15" fill="#E8101C" opacity="0.21" filter="url(#fb)"/>
<circle cx="162.72" cy="531.30" r="1.15" fill="#E8101C" opacity="0.63" filter="url(#fb)"/>
<circle cx="136.28" cy="533.08" r="1.15" fill="#E8101C" opacity="0.70" filter="url(#fb)"/>
<circle cx="144.55" cy="532.00" r="1.15" fill="#E8101C" opacity="0.70" filter="url(#fb)"/>
<circle cx="154.12" cy="534.69" r="1.15" fill="#E8101C" opacity="0.56" filter="url(#fb)"/>
<circle cx="127.42" cy="537.29" r="1.15" fill="#E8101C" opacity="0.63" filter="url(#fb)"/>
<circle cx="138.02" cy="538.88" r="1.15" fill="#E8101C" opacity="0.70" filter="url(#fb)"/>
<circle cx="142.82" cy="537.98" r="1.15" fill="#E8101C" opacity="0.70" filter="url(#fb)"/>
<circle cx="148.02" cy="536.19" r="1.15" fill="#E8101C" opacity="0.63" filter="url(#fb)"/>
<circle cx="151.52" cy="538.61" r="1.15" fill="#E8101C" opacity="0.63" filter="url(#fb)"/>
<circle cx="158.89" cy="538.43" r="1.15" fill="#E8101C" opacity="0.21" filter="url(#fb)"/>
<circle cx="145.88" cy="541.11" r="1.15" fill="#E8101C" opacity="0.42" filter="url(#fb)"/>
<circle cx="154.05" cy="542.44" r="1.15" fill="#E8101C" opacity="0.70" filter="url(#fb)"/>
<circle cx="151.92" cy="545.13" r="1.15" fill="#E8101C" opacity="0.49" filter="url(#fb)"/>
<circle cx="148.92" cy="546.28" r="1.15" fill="#E8101C" opacity="0.35" filter="url(#fb)"/>
<circle cx="163.62" cy="543.79" r="1.15" fill="#E8101C" opacity="0.63" filter="url(#fb)"/>
<circle cx="169.29" cy="545.12" r="1.15" fill="#E8101C" opacity="0.21" filter="url(#fb)"/>
<circle cx="132.41" cy="544.22" r="1.15" fill="#E8101C" opacity="0.70" filter="url(#fb)"/>
<circle cx="128.08" cy="540.22" r="1.15" fill="#E8101C" opacity="0.56" filter="url(#fb)"/>
<circle cx="121.98" cy="514.81" r="1.15" fill="#E8101C" opacity="0.70" filter="url(#fb)"/>
<circle cx="166.08" cy="509.63" r="0.46" fill="#D01018" opacity="0.45"/>
<circle cx="130.18" cy="513.12" r="0.30" fill="#D01018" opacity="0.48"/>
<circle cx="155.66" cy="548.98" r="0.68" fill="#D01018" opacity="0.40"/>
<circle cx="173.09" cy="502.42" r="0.36" fill="#D01018" opacity="0.49"/>
<circle cx="158.50" cy="527.88" r="0.31" fill="#D01018" opacity="0.43"/>
<circle cx="148.61" cy="517.10" r="0.60" fill="#D01018" opacity="0.58"/>
<circle cx="127.49" cy="521.19" r="0.58" fill="#D01018" opacity="0.60"/>
<circle cx="157.48" cy="547.83" r="0.60" fill="#D01018" opacity="0.43"/>
<circle cx="166.42" cy="528.84" r="0.54" fill="#D01018" opacity="0.52"/>
<circle cx="162.14" cy="533.85" r="0.48" fill="#D01018" opacity="0.60"/>
<circle cx="144.90" cy="535.52" r="0.67" fill="#D01018" opacity="0.49"/>
<circle cx="130.70" cy="544.11" r="0.39" fill="#D01018" opacity="0.34"/>
<circle cx="125.37" cy="518.81" r="0.46" fill="#D01018" opacity="0.62"/>
<circle cx="131.95" cy="516.62" r="0.61" fill="#D01018" opacity="0.26"/>
<circle cx="144.47" cy="504.73" r="0.61" fill="#D01018" opacity="0.38"/>
<circle cx="130.34" cy="502.83" r="0.38" fill="#D01018" opacity="0.57"/>
<circle cx="129.03" cy="499.07" r="0.40" fill="#D01018" opacity="0.27"/>
<circle cx="161.01" cy="536.43" r="0.51" fill="#D01018" opacity="0.40"/>
<circle cx="125.03" cy="534.19" r="0.40" fill="#D01018" opacity="0.50"/>
<circle cx="174.37" cy="509.48" r="0.58" fill="#D01018" opacity="0.45"/>
<circle cx="150.75" cy="518.04" r="0.58" fill="#D01018" opacity="0.48"/>
<circle cx="124.69" cy="539.63" r="0.40" fill="#D01018" opacity="0.41"/>
<circle cx="147.93" cy="527.89" r="0.60" fill="#D01018" opacity="0.30"/>
<circle cx="142.92" cy="529.29" r="0.49" fill="#D01018" opacity="0.36"/>
<circle cx="164.39" cy="547.10" r="0.56" fill="#D01018" opacity="0.49"/>
<circle cx="131.04" cy="521.90" r="0.61" fill="#D01018" opacity="0.39"/>
<circle cx="145.75" cy="520.29" r="0.42" fill="#D01018" opacity="0.53"/>
<circle cx="138.41" cy="544.93" r="0.64" fill="#D01018" opacity="0.39"/>
<circle cx="126.46" cy="498.21" r="0.63" fill="#D01018" opacity="0.44"/>
<circle cx="129.24" cy="499.47" r="0.61" fill="#D01018" opacity="0.34"/>
<circle cx="170.88" cy="515.57" r="0.55" fill="#D01018" opacity="0.41"/>
<circle cx="157.08" cy="504.33" r="0.41" fill="#D01018" opacity="0.31"/>
<circle cx="126.29" cy="526.27" r="0.70" fill="#D01018" opacity="0.25"/>
<circle cx="168.68" cy="511.94" r="0.36" fill="#D01018" opacity="0.26"/>
<circle cx="141.20" cy="501.48" r="0.50" fill="#D01018" opacity="0.46"/>
<circle cx="131.70" cy="542.96" r="0.53" fill="#D01018" opacity="0.59"/>
<circle cx="135.50" cy="534.53" r="0.58" fill="#D01018" opacity="0.60"/>
<circle cx="132.65" cy="546.37" r="0.48" fill="#D01018" opacity="0.29"/>
<circle cx="170.94" cy="512.90" r="0.66" fill="#D01018" opacity="0.34"/>
<circle cx="126.77" cy="523.69" r="0.52" fill="#D01018" opacity="0.55"/>
<circle cx="156.33" cy="515.81" r="0.60" fill="#D01018" opacity="0.48"/>
<circle cx="130.52" cy="527.37" r="0.44" fill="#D01018" opacity="0.50"/>
<circle cx="131.23" cy="510.13" r="0.41" fill="#D01018" opacity="0.55"/>
<circle cx="124.23" cy="518.65" r="0.46" fill="#D01018" opacity="0.64"/>
<circle cx="129.39" cy="523.76" r="0.62" fill="#D01018" opacity="0.43"/>
<circle cx="172.71" cy="510.22" r="0.50" fill="#D01018" opacity="0.39"/>
<circle cx="137.64" cy="500.66" r="0.61" fill="#D01018" opacity="0.54"/>
<circle cx="166.49" cy="521.80" r="0.37" fill="#D01018" opacity="0.55"/>
<circle cx="171.59" cy="525.96" r="0.41" fill="#D01018" opacity="0.49"/>
<circle cx="167.39" cy="539.60" r="0.55" fill="#D01018" opacity="0.58"/>
</g>
<g clip-path="url(#d5)">
<circle cx="186.98" cy="499.03" r="1.01" fill="#1F22F5" opacity="0.65" filter="url(#fb)"/>
<circle cx="194.09" cy="496.53" r="1.00" fill="#1F22F5" opacity="0.78" filter="url(#fb)"/>
<circle cx="211.25" cy="496.71" r="1.20" fill="#1F22F5" opacity="0.61" filter="url(#fb)"/>
<circle cx="199.55" cy="502.33" r="1.33" fill="#1F22F5" opacity="0.82" filter="url(#fb)"/>
<circle cx="206.49" cy="505.89" r="1.29" fill="#1F22F5" opacity="0.99" filter="url(#fb)"/>
<circle cx="216.45" cy="504.11" r="1.31" fill="#1F22F5" opacity="0.90" filter="url(#fb)"/>
<circle cx="183.95" cy="507.94" r="1.26" fill="#1F22F5" opacity="0.81" filter="url(#fb)"/>
<circle cx="180.48" cy="512.13" r="1.31" fill="#1F22F5" opacity="0.91" filter="url(#fb)"/>
<circle cx="185.68" cy="511.69" r="1.12" fill="#1F22F5" opacity="0.92" filter="url(#fb)"/>
<circle cx="194.09" cy="509.46" r="1.06" fill="#1F22F5" opacity="0.81" filter="url(#fb)"/>
<circle cx="201.28" cy="510.35" r="1.37" fill="#1F22F5" opacity="0.69" filter="url(#fb)"/>
<circle cx="211.25" cy="512.13" r="1.36" fill="#1F22F5" opacity="0.79" filter="url(#fb)"/>
<circle cx="188.28" cy="515.70" r="1.29" fill="#1F22F5" opacity="0.66" filter="url(#fb)"/>
<circle cx="190.88" cy="514.18" r="1.02" fill="#1F22F5" opacity="0.70" filter="url(#fb)"/>
<circle cx="198.25" cy="516.32" r="1.24" fill="#1F22F5" opacity="0.96" filter="url(#fb)"/>
<circle cx="205.62" cy="516.59" r="1.23" fill="#1F22F5" opacity="0.81" filter="url(#fb)"/>
<circle cx="216.02" cy="515.25" r="1.15" fill="#1F22F5" opacity="0.80" filter="url(#fb)"/>
<circle cx="177.44" cy="519.71" r="1.29" fill="#1F22F5" opacity="0.95" filter="url(#fb)"/>
<circle cx="193.92" cy="520.42" r="1.14" fill="#1F22F5" opacity="0.87" filter="url(#fb)"/>
<circle cx="200.42" cy="520.42" r="1.14" fill="#1F22F5" opacity="0.70" filter="url(#fb)"/>
<circle cx="210.39" cy="521.94" r="1.02" fill="#1F22F5" opacity="0.76" filter="url(#fb)"/>
<circle cx="214.29" cy="519.71" r="1.24" fill="#1F22F5" opacity="0.80" filter="url(#fb)"/>
<circle cx="183.51" cy="522.38" r="1.18" fill="#1F22F5" opacity="0.91" filter="url(#fb)"/>
<circle cx="201.28" cy="524.61" r="1.18" fill="#1F22F5" opacity="0.88" filter="url(#fb)"/>
<circle cx="188.71" cy="525.51" r="1.22" fill="#1F22F5" opacity="0.98" filter="url(#fb)"/>
<circle cx="192.62" cy="528.63" r="1.13" fill="#1F22F5" opacity="0.78" filter="url(#fb)"/>
<circle cx="178.31" cy="528.45" r="1.31" fill="#1F22F5" opacity="0.72" filter="url(#fb)"/>
<circle cx="186.98" cy="529.96" r="1.32" fill="#1F22F5" opacity="0.73" filter="url(#fb)"/>
<circle cx="183.08" cy="531.75" r="1.06" fill="#1F22F5" opacity="0.82" filter="url(#fb)"/>
<circle cx="211.25" cy="527.29" r="1.22" fill="#1F22F5" opacity="0.72" filter="url(#fb)"/>
<circle cx="220.79" cy="525.51" r="1.11" fill="#1F22F5" opacity="1.00" filter="url(#fb)"/>
<circle cx="225.99" cy="526.13" r="1.20" fill="#1F22F5" opacity="0.88" filter="url(#fb)"/>
<circle cx="217.32" cy="531.30" r="1.17" fill="#1F22F5" opacity="0.82" filter="url(#fb)"/>
<circle cx="190.88" cy="533.08" r="1.11" fill="#1F22F5" opacity="0.67" filter="url(#fb)"/>
<circle cx="198.25" cy="532.90" r="1.33" fill="#1F22F5" opacity="0.87" filter="url(#fb)"/>
<circle cx="206.92" cy="534.69" r="1.12" fill="#1F22F5" opacity="0.76" filter="url(#fb)"/>
<circle cx="180.48" cy="536.65" r="1.22" fill="#1F22F5" opacity="0.63" filter="url(#fb)"/>
<circle cx="192.62" cy="538.88" r="1.25" fill="#1F22F5" opacity="1.00" filter="url(#fb)"/>
<circle cx="196.52" cy="538.88" r="1.27" fill="#1F22F5" opacity="0.79" filter="url(#fb)"/>
<circle cx="201.72" cy="537.09" r="1.05" fill="#1F22F5" opacity="0.82" filter="url(#fb)"/>
<circle cx="204.32" cy="538.61" r="1.23" fill="#1F22F5" opacity="0.88" filter="url(#fb)"/>
<circle cx="211.69" cy="538.43" r="1.35" fill="#1F22F5" opacity="0.71" filter="url(#fb)"/>
<circle cx="198.68" cy="541.11" r="1.04" fill="#1F22F5" opacity="0.99" filter="url(#fb)"/>
<circle cx="208.65" cy="542.44" r="1.21" fill="#1F22F5" opacity="0.96" filter="url(#fb)"/>
<circle cx="205.62" cy="544.23" r="1.24" fill="#1F22F5" opacity="0.96" filter="url(#fb)"/>
<circle cx="201.72" cy="546.28" r="1.24" fill="#1F22F5" opacity="0.89" filter="url(#fb)"/>
<circle cx="217.32" cy="542.89" r="1.25" fill="#1F22F5" opacity="0.98" filter="url(#fb)"/>
<circle cx="222.09" cy="545.12" r="1.30" fill="#1F22F5" opacity="0.99" filter="url(#fb)"/>
<circle cx="186.11" cy="545.12" r="1.17" fill="#1F22F5" opacity="0.68" filter="url(#fb)"/>
<circle cx="181.78" cy="539.32" r="1.08" fill="#1F22F5" opacity="0.78" filter="url(#fb)"/>
<circle cx="176.58" cy="514.81" r="1.22" fill="#1F22F5" opacity="0.88" filter="url(#fb)"/>
</g>
<text x="21.60" y="506.80" font-size="7.4" fill="#FF0808" font-weight="bold" textLength="29.60" lengthAdjust="spacingAndGlyphs" stroke="#FF0808" stroke-width="0.25">Nile Red</text>
<text x="74.60" y="505.80" font-size="7.4" fill="#2020FF" font-weight="bold" textLength="17.70" lengthAdjust="spacingAndGlyphs" stroke="#2020FF" stroke-width="0.25">DAPI</text>
<text x="129.90" y="506.80" font-size="7.4" fill="#FF0808" font-weight="bold" textLength="29.60" lengthAdjust="spacingAndGlyphs" stroke="#FF0808" stroke-width="0.25">Nile Red</text>
<text x="183.50" y="506.50" font-size="7.4" fill="#2020FF" font-weight="bold" textLength="17.70" lengthAdjust="spacingAndGlyphs" stroke="#2020FF" stroke-width="0.25">DAPI</text>
<text x="21.40" y="560.80" font-size="7.4" fill="#000" font-weight="bold" textLength="21.60" lengthAdjust="spacingAndGlyphs" ><tspan fill="#F01010">M</tspan><tspan fill="#2A2AE0">e</tspan><tspan fill="#F01010">r</tspan><tspan fill="#2A2AE0">g</tspan><tspan fill="#F01010">e</tspan></text>
<rect x="17.00" y="544.60" width="9.00" height="2.20" fill="#fff" />
<rect x="70.40" y="543.80" width="8.40" height="2.20" fill="#fff" />
<rect x="125.20" y="544.60" width="9.00" height="2.20" fill="#fff" />
<rect x="179.00" y="544.60" width="8.40" height="2.20" fill="#fff" />
<rect x="17.90" y="649.60" width="18.10" height="2.30" fill="#fff" />
<rect x="126.80" y="649.60" width="17.90" height="2.30" fill="#fff" />
<text x="236.70" y="497.80" font-size="14.5" fill="#000" font-weight="bold" >E</text>
<line x1="260.10" y1="574.40" x2="407.20" y2="574.40" stroke="#8C8C8C" stroke-width="0.9" />
<line x1="260.10" y1="611.30" x2="407.20" y2="611.30" stroke="#C8C8C8" stroke-width="0.9" />
<path d="M260.1,574.4 C260.7,574.0 262.2,574.3 263.4,572.1 C264.5,570.0 266.2,565.4 267.2,561.5 C268.2,557.6 268.5,551.5 269.1,548.7 C269.7,545.9 270.2,546.4 270.7,544.8 C271.3,543.2 271.6,542.4 272.3,539.0 C273.1,535.7 274.2,528.7 275.2,524.6 C276.3,520.5 277.6,514.6 278.8,514.3 C279.9,514.0 280.9,518.9 282.0,523.0 C283.0,527.1 284.1,533.4 285.2,539.0 C286.3,544.7 287.2,551.9 288.4,556.7 C289.6,561.5 290.8,565.2 292.3,567.9 C293.7,570.7 295.7,572.3 297.1,573.4 C298.4,574.5 299.7,574.2 300.3,574.4 Z" fill="#000" />
<path d="M335.6,611.3 C337.5,611.1 343.9,611.1 346.8,610.0 C349.8,608.9 351.4,607.9 353.3,604.9 C355.1,601.9 356.7,596.6 358.1,592.0 C359.4,587.5 360.1,582.4 361.3,577.6 C362.5,572.8 364.1,567.4 365.2,563.1 C366.2,558.8 366.8,554.6 367.7,551.9 C368.7,549.2 369.9,547.1 370.9,547.1 C372.0,547.1 373.2,549.5 374.1,551.9 C375.1,554.3 375.9,557.0 376.7,561.5 C377.5,566.1 378.0,573.8 379.0,579.2 C379.9,584.5 380.8,589.6 382.2,593.6 C383.5,597.6 385.1,600.8 387.0,603.3 C388.9,605.8 391.0,607.4 393.4,608.7 C395.8,610.1 400.1,610.9 401.4,611.3 Z" fill="#D9D9D9" stroke="#ADADAD" stroke-width="0.7"/>
<path d="M362.3,647.6 C362.9,646.9 364.8,646.2 366.1,643.4 C367.5,640.6 369.1,635.4 370.3,630.6 C371.5,625.7 372.5,619.9 373.5,614.5 C374.5,609.2 375.4,602.3 376.4,598.5 C377.4,594.6 378.5,591.7 379.6,591.4 C380.7,591.1 381.7,593.5 382.8,596.8 C383.9,600.2 384.9,605.9 386.0,611.3 C387.1,616.6 388.3,624.1 389.6,629.0 C390.8,633.8 392.1,637.4 393.4,640.2 C394.7,643.0 396.2,644.7 397.3,646.0 C398.3,647.2 399.4,647.3 399.8,647.6 Z" fill="#FBD0A0" stroke="#F5A040" stroke-width="0.8" fill-opacity="0.85"/>
<line x1="260.10" y1="500.00" x2="260.10" y2="648.60" stroke="#000" stroke-width="2.0" />
<line x1="259.10" y1="647.60" x2="418.00" y2="647.60" stroke="#000" stroke-width="2.0" />
<path d="M256.7,502.5 L263.5,502.5 L260.1,495.3 Z" fill="#000" />
<path d="M416,644.0 L416,651.2 L423,647.6 Z" fill="#000" />
<line x1="269.01" y1="647.60" x2="269.01" y2="649.90" stroke="#000" stroke-width="0.6" />
<line x1="275.51" y1="647.60" x2="275.51" y2="649.90" stroke="#000" stroke-width="0.6" />
<line x1="280.12" y1="647.60" x2="280.12" y2="649.90" stroke="#000" stroke-width="0.6" />
<line x1="283.69" y1="647.60" x2="283.69" y2="649.90" stroke="#000" stroke-width="0.6" />
<line x1="286.61" y1="647.60" x2="286.61" y2="649.90" stroke="#000" stroke-width="0.6" />
<line x1="289.08" y1="647.60" x2="289.08" y2="649.90" stroke="#000" stroke-width="0.6" />
<line x1="291.22" y1="647.60" x2="291.22" y2="649.90" stroke="#000" stroke-width="0.6" />
<line x1="293.11" y1="647.60" x2="293.11" y2="649.90" stroke="#000" stroke-width="0.6" />
<line x1="294.80" y1="647.60" x2="294.80" y2="651.60" stroke="#000" stroke-width="0.9" />
<line x1="305.82" y1="647.60" x2="305.82" y2="649.90" stroke="#000" stroke-width="0.6" />
<line x1="312.26" y1="647.60" x2="312.26" y2="649.90" stroke="#000" stroke-width="0.6" />
<line x1="316.84" y1="647.60" x2="316.84" y2="649.90" stroke="#000" stroke-width="0.6" />
<line x1="320.38" y1="647.60" x2="320.38" y2="649.90" stroke="#000" stroke-width="0.6" />
<line x1="323.28" y1="647.60" x2="323.28" y2="649.90" stroke="#000" stroke-width="0.6" />
<line x1="325.73" y1="647.60" x2="325.73" y2="649.90" stroke="#000" stroke-width="0.6" />
<line x1="327.85" y1="647.60" x2="327.85" y2="649.90" stroke="#000" stroke-width="0.6" />
<line x1="329.73" y1="647.60" x2="329.73" y2="649.90" stroke="#000" stroke-width="0.6" />
<line x1="331.40" y1="647.60" x2="331.40" y2="651.60" stroke="#000" stroke-width="0.9" />
<line x1="342.54" y1="647.60" x2="342.54" y2="649.90" stroke="#000" stroke-width="0.6" />
<line x1="349.05" y1="647.60" x2="349.05" y2="649.90" stroke="#000" stroke-width="0.6" />
<line x1="353.68" y1="647.60" x2="353.68" y2="649.90" stroke="#000" stroke-width="0.6" />
<line x1="357.26" y1="647.60" x2="357.26" y2="649.90" stroke="#000" stroke-width="0.6" />
<line x1="360.19" y1="647.60" x2="360.19" y2="649.90" stroke="#000" stroke-width="0.6" />
<line x1="362.67" y1="647.60" x2="362.67" y2="649.90" stroke="#000" stroke-width="0.6" />
<line x1="364.81" y1="647.60" x2="364.81" y2="649.90" stroke="#000" stroke-width="0.6" />
<line x1="366.71" y1="647.60" x2="366.71" y2="649.90" stroke="#000" stroke-width="0.6" />
<line x1="368.40" y1="647.60" x2="368.40" y2="651.60" stroke="#000" stroke-width="0.9" />
<line x1="379.60" y1="647.60" x2="379.60" y2="649.90" stroke="#000" stroke-width="0.6" />
<line x1="386.15" y1="647.60" x2="386.15" y2="649.90" stroke="#000" stroke-width="0.6" />
<line x1="390.80" y1="647.60" x2="390.80" y2="649.90" stroke="#000" stroke-width="0.6" />
<line x1="394.40" y1="647.60" x2="394.40" y2="649.90" stroke="#000" stroke-width="0.6" />
<line x1="397.35" y1="647.60" x2="397.35" y2="649.90" stroke="#000" stroke-width="0.6" />
<line x1="399.84" y1="647.60" x2="399.84" y2="649.90" stroke="#000" stroke-width="0.6" />
<line x1="401.99" y1="647.60" x2="401.99" y2="649.90" stroke="#000" stroke-width="0.6" />
<line x1="403.90" y1="647.60" x2="403.90" y2="649.90" stroke="#000" stroke-width="0.6" />
<line x1="405.60" y1="647.60" x2="405.60" y2="651.60" stroke="#000" stroke-width="0.9" />
<text x="255.40" y="532.80" font-size="9.8" fill="#000" textLength="29.00" lengthAdjust="spacingAndGlyphs" transform="rotate(-90 255.40 532.80)" >counts</text>
<text x="379.60" y="663.20" font-size="10.2" fill="#000" font-weight="bold" textLength="39.40" lengthAdjust="spacingAndGlyphs" >BODIPY</text>
<text x="288.00" y="538.90" font-size="10.2" fill="#000" font-weight="bold" textLength="27.70" lengthAdjust="spacingAndGlyphs" >Blank</text>
<text x="322.80" y="596.40" font-size="10.2" fill="#000" font-weight="bold" textLength="27.20" lengthAdjust="spacingAndGlyphs" >CTRL</text>
<text x="339.50" y="631.70" font-size="10.2" fill="#000" font-weight="bold" textLength="15.40" lengthAdjust="spacingAndGlyphs" >SM</text>
<text x="441.20" y="173.80" font-size="14.2" fill="#000" font-weight="bold" >F</text>
<rect x="503.00" y="274.50" width="18.20" height="20.70" fill="#ADADAD" />
<rect x="521.20" y="222.20" width="18.00" height="73.00" fill="#FF6666" />
<line x1="530.60" y1="199.40" x2="530.60" y2="222.20" stroke="#222" stroke-width="1.0" />
<line x1="525.90" y1="199.40" x2="535.30" y2="199.40" stroke="#222" stroke-width="1.0" />
<line x1="499.60" y1="179.30" x2="499.60" y2="296.00" stroke="#000" stroke-width="1.6" />
<line x1="493.40" y1="295.20" x2="543.10" y2="295.20" stroke="#000" stroke-width="1.6" />
<line x1="493.40" y1="180.10" x2="499.60" y2="180.10" stroke="#000" stroke-width="1.5" />
<text x="492.10" y="183.95" font-size="10.7" fill="#000" font-weight="bold" text-anchor="end" >80</text>
<line x1="493.40" y1="209.00" x2="499.60" y2="209.00" stroke="#000" stroke-width="1.5" />
<text x="492.10" y="212.85" font-size="10.7" fill="#000" font-weight="bold" text-anchor="end" >60</text>
<line x1="493.40" y1="237.10" x2="499.60" y2="237.10" stroke="#000" stroke-width="1.5" />
<text x="492.10" y="240.95" font-size="10.7" fill="#000" font-weight="bold" text-anchor="end" >40</text>
<line x1="493.40" y1="266.30" x2="499.60" y2="266.30" stroke="#000" stroke-width="1.5" />
<text x="492.10" y="270.15" font-size="10.7" fill="#000" font-weight="bold" text-anchor="end" >20</text>
<line x1="493.40" y1="295.20" x2="499.60" y2="295.20" stroke="#000" stroke-width="1.5" />
<text x="492.10" y="299.05" font-size="10.7" fill="#000" font-weight="bold" text-anchor="end" >0</text>
<line x1="512.10" y1="295.20" x2="512.10" y2="299.80" stroke="#000" stroke-width="1.5" />
<line x1="530.20" y1="295.20" x2="530.20" y2="299.80" stroke="#000" stroke-width="1.5" />
<circle cx="505.00" cy="275.50" r="1.50" fill="#fff" stroke="#111" stroke-width="0.6"/>
<circle cx="512.30" cy="274.50" r="1.50" fill="#fff" stroke="#111" stroke-width="0.6"/>
<circle cx="519.70" cy="275.00" r="1.50" fill="#fff" stroke="#111" stroke-width="0.6"/>
<circle cx="527.10" cy="203.80" r="1.50" fill="#fff" stroke="#111" stroke-width="0.6"/>
<circle cx="532.90" cy="202.60" r="1.50" fill="#fff" stroke="#111" stroke-width="0.6"/>
<circle cx="530.00" cy="231.00" r="1.50" fill="#fff" stroke="#111" stroke-width="0.6"/>
<circle cx="530.00" cy="252.00" r="1.50" fill="#fff" stroke="#111" stroke-width="0.6"/>
<path d="M510.4,194.2 L510.4,187.2 L530.6,187.2 L530.6,194.2" fill="none" stroke="#111" stroke-width="0.9"/>
<text x="505.20" y="184.20" font-size="7.95" fill="#000" ><tspan font-style="italic">P</tspan> = 0.013</text>
<text x="473.00" y="237.60" font-size="12.2" fill="#000" text-anchor="middle" textLength="103.70" lengthAdjust="spacingAndGlyphs" transform="rotate(-90 473.00 237.60)" >Lipids in CA (mg/g)</text>
<text x="516.70" y="309.20" font-size="11.8" fill="#000" text-anchor="end" transform="rotate(-45 516.70 309.20)" >CON</text>
<text x="534.80" y="309.20" font-size="11.8" fill="#000" text-anchor="end" transform="rotate(-45 534.80 309.20)" >HU</text>
<text x="559.80" y="174.00" font-size="14.2" fill="#000" font-weight="bold" >G</text>
<rect x="617.90" y="231.00" width="17.90" height="62.80" fill="#ADADAD" />
<rect x="635.80" y="207.70" width="17.70" height="86.10" fill="#FF6666" />
<line x1="626.60" y1="217.80" x2="626.60" y2="231.00" stroke="#222" stroke-width="1.0" />
<line x1="622.20" y1="217.80" x2="631.00" y2="217.80" stroke="#222" stroke-width="1.0" />
<line x1="644.60" y1="193.30" x2="644.60" y2="207.70" stroke="#222" stroke-width="1.0" />
<line x1="640.20" y1="193.30" x2="649.00" y2="193.30" stroke="#222" stroke-width="1.0" />
<line x1="614.70" y1="177.60" x2="614.70" y2="294.60" stroke="#000" stroke-width="1.6" />
<line x1="608.50" y1="293.80" x2="657.40" y2="293.80" stroke="#000" stroke-width="1.6" />
<line x1="608.50" y1="178.40" x2="614.70" y2="178.40" stroke="#000" stroke-width="1.5" />
<text x="607.20" y="182.25" font-size="10.7" fill="#000" font-weight="bold" text-anchor="end" >6</text>
<line x1="608.50" y1="216.90" x2="614.70" y2="216.90" stroke="#000" stroke-width="1.5" />
<text x="607.20" y="220.75" font-size="10.7" fill="#000" font-weight="bold" text-anchor="end" >4</text>
<line x1="608.50" y1="255.50" x2="614.70" y2="255.50" stroke="#000" stroke-width="1.5" />
<text x="607.20" y="259.35" font-size="10.7" fill="#000" font-weight="bold" text-anchor="end" >2</text>
<line x1="608.50" y1="293.80" x2="614.70" y2="293.80" stroke="#000" stroke-width="1.5" />
<text x="607.20" y="297.65" font-size="10.7" fill="#000" font-weight="bold" text-anchor="end" >0</text>
<line x1="626.85" y1="293.80" x2="626.85" y2="298.40" stroke="#000" stroke-width="1.5" />
<line x1="644.65" y1="293.80" x2="644.65" y2="298.40" stroke="#000" stroke-width="1.5" />
<circle cx="626.60" cy="220.10" r="1.50" fill="#fff" stroke="#111" stroke-width="0.6"/>
<circle cx="626.60" cy="228.90" r="1.50" fill="#fff" stroke="#111" stroke-width="0.6"/>
<circle cx="626.60" cy="245.00" r="1.50" fill="#fff" stroke="#111" stroke-width="0.6"/>
<circle cx="644.60" cy="185.90" r="1.50" fill="#fff" stroke="#111" stroke-width="0.6"/>
<circle cx="637.10" cy="216.10" r="1.50" fill="#fff" stroke="#111" stroke-width="0.6"/>
<circle cx="644.60" cy="213.40" r="1.50" fill="#fff" stroke="#111" stroke-width="0.6"/>
<circle cx="652.00" cy="216.10" r="1.50" fill="#fff" stroke="#111" stroke-width="0.6"/>
<path d="M625.7,183.7 L625.7,177.0 L645.8,177.0 L645.8,183.7" fill="none" stroke="#111" stroke-width="0.9"/>
<text x="617.50" y="173.70" font-size="7.7" fill="#000" ><tspan font-style="italic">P</tspan> = 0.0571</text>
<text x="592.70" y="236.70" font-size="12.2" fill="#000" text-anchor="middle" textLength="87.60" lengthAdjust="spacingAndGlyphs" transform="rotate(-90 592.70 236.70)" >FA in CA (mg/g)</text>
<text x="631.45" y="308.20" font-size="11.8" fill="#000" text-anchor="end" transform="rotate(-45 631.45 308.20)" >CON</text>
<text x="649.25" y="308.20" font-size="11.8" fill="#000" text-anchor="end" transform="rotate(-45 649.25 308.20)" >HU</text>
<text x="440.60" y="338.70" font-size="14.2" fill="#000" font-weight="bold" >H</text>
<rect x="501.70" y="448.00" width="18.00" height="21.00" fill="#ADADAD" />
<rect x="519.70" y="400.90" width="17.80" height="68.10" fill="#FF6666" />
<line x1="510.50" y1="447.40" x2="510.50" y2="448.00" stroke="#222" stroke-width="1.0" />
<line x1="505.90" y1="447.40" x2="515.10" y2="447.40" stroke="#222" stroke-width="1.0" />
<line x1="528.80" y1="375.50" x2="528.80" y2="400.90" stroke="#222" stroke-width="1.0" />
<line x1="524.60" y1="375.50" x2="533.00" y2="375.50" stroke="#222" stroke-width="1.0" />
<line x1="498.30" y1="353.10" x2="498.30" y2="469.80" stroke="#000" stroke-width="1.6" />
<line x1="492.10" y1="469.00" x2="541.60" y2="469.00" stroke="#000" stroke-width="1.6" />
<line x1="492.10" y1="353.90" x2="498.30" y2="353.90" stroke="#000" stroke-width="1.5" />
<text x="490.80" y="357.75" font-size="11.2" fill="#000" font-weight="bold" text-anchor="end" >0.15</text>
<line x1="492.10" y1="392.40" x2="498.30" y2="392.40" stroke="#000" stroke-width="1.5" />
<text x="490.80" y="396.25" font-size="11.2" fill="#000" font-weight="bold" text-anchor="end" >0.10</text>
<line x1="492.10" y1="430.90" x2="498.30" y2="430.90" stroke="#000" stroke-width="1.5" />
<text x="490.80" y="434.75" font-size="11.2" fill="#000" font-weight="bold" text-anchor="end" >0.05</text>
<line x1="492.10" y1="469.00" x2="498.30" y2="469.00" stroke="#000" stroke-width="1.5" />
<text x="490.80" y="472.85" font-size="11.2" fill="#000" font-weight="bold" text-anchor="end" >0.00</text>
<line x1="510.70" y1="469.00" x2="510.70" y2="473.60" stroke="#000" stroke-width="1.5" />
<line x1="528.60" y1="469.00" x2="528.60" y2="473.60" stroke="#000" stroke-width="1.5" />
<circle cx="503.10" cy="449.10" r="1.50" fill="#fff" stroke="#111" stroke-width="0.6"/>
<circle cx="510.40" cy="447.20" r="1.50" fill="#fff" stroke="#111" stroke-width="0.6"/>
<circle cx="518.00" cy="449.00" r="1.50" fill="#fff" stroke="#111" stroke-width="0.6"/>
<circle cx="528.80" cy="373.50" r="1.50" fill="#fff" stroke="#111" stroke-width="0.6"/>
<circle cx="525.30" cy="396.00" r="1.50" fill="#fff" stroke="#111" stroke-width="0.6"/>
<circle cx="531.60" cy="398.20" r="1.50" fill="#fff" stroke="#111" stroke-width="0.6"/>
<circle cx="528.50" cy="435.40" r="1.50" fill="#fff" stroke="#111" stroke-width="0.6"/>
<path d="M509.7,358.8 L509.7,352.2 L529.7,352.2 L529.7,358.8" fill="none" stroke="#111" stroke-width="0.9"/>
<text x="503.10" y="350.90" font-size="7.95" fill="#000" ><tspan font-style="italic">P</tspan> = 0.0256</text>
<text x="461.00" y="412.00" font-size="12.2" fill="#000" text-anchor="middle" textLength="94.80" lengthAdjust="spacingAndGlyphs" transform="rotate(-90 461.00 412.00)" >ChE in CA (mg/g)</text>
<text x="515.30" y="482.30" font-size="11.8" fill="#000" text-anchor="end" transform="rotate(-45 515.30 482.30)" >CON</text>
<text x="533.20" y="482.30" font-size="11.8" fill="#000" text-anchor="end" transform="rotate(-45 533.20 482.30)" >HU</text>
<text x="563.60" y="338.70" font-size="14.2" fill="#000" font-weight="bold" >I</text>
<rect x="616.40" y="430.20" width="18.50" height="40.60" fill="#ADADAD" />
<rect x="634.90" y="389.80" width="17.70" height="81.00" fill="#FF6666" />
<line x1="625.70" y1="429.30" x2="625.70" y2="430.20" stroke="#222" stroke-width="1.0" />
<line x1="621.10" y1="429.30" x2="630.30" y2="429.30" stroke="#222" stroke-width="1.0" />
<line x1="644.10" y1="374.60" x2="644.10" y2="389.80" stroke="#222" stroke-width="1.0" />
<line x1="639.90" y1="374.60" x2="648.30" y2="374.60" stroke="#222" stroke-width="1.0" />
<line x1="612.60" y1="355.40" x2="612.60" y2="471.60" stroke="#000" stroke-width="1.6" />
<line x1="606.40" y1="470.80" x2="656.70" y2="470.80" stroke="#000" stroke-width="1.6" />
<line x1="606.40" y1="356.20" x2="612.60" y2="356.20" stroke="#000" stroke-width="1.5" />
<text x="605.10" y="360.05" font-size="10.7" fill="#000" font-weight="bold" text-anchor="end" >2.5</text>
<line x1="606.40" y1="379.00" x2="612.60" y2="379.00" stroke="#000" stroke-width="1.5" />
<text x="605.10" y="382.85" font-size="10.7" fill="#000" font-weight="bold" text-anchor="end" >2.0</text>
<line x1="606.40" y1="401.70" x2="612.60" y2="401.70" stroke="#000" stroke-width="1.5" />
<text x="605.10" y="405.55" font-size="10.7" fill="#000" font-weight="bold" text-anchor="end" >1.5</text>
<line x1="606.40" y1="424.70" x2="612.60" y2="424.70" stroke="#000" stroke-width="1.5" />
<text x="605.10" y="428.55" font-size="10.7" fill="#000" font-weight="bold" text-anchor="end" >1.0</text>
<line x1="606.40" y1="447.70" x2="612.60" y2="447.70" stroke="#000" stroke-width="1.5" />
<text x="605.10" y="451.55" font-size="10.7" fill="#000" font-weight="bold" text-anchor="end" >0.5</text>
<line x1="606.40" y1="470.80" x2="612.60" y2="470.80" stroke="#000" stroke-width="1.5" />
<text x="605.10" y="474.65" font-size="10.7" fill="#000" font-weight="bold" text-anchor="end" >0.0</text>
<line x1="625.65" y1="470.80" x2="625.65" y2="475.40" stroke="#000" stroke-width="1.5" />
<line x1="643.75" y1="470.80" x2="643.75" y2="475.40" stroke="#000" stroke-width="1.5" />
<circle cx="618.20" cy="431.40" r="1.50" fill="#fff" stroke="#111" stroke-width="0.6"/>
<circle cx="625.70" cy="429.10" r="1.50" fill="#fff" stroke="#111" stroke-width="0.6"/>
<circle cx="633.20" cy="430.90" r="1.50" fill="#fff" stroke="#111" stroke-width="0.6"/>
<circle cx="644.10" cy="376.70" r="1.50" fill="#fff" stroke="#111" stroke-width="0.6"/>
<circle cx="644.10" cy="385.40" r="1.50" fill="#fff" stroke="#111" stroke-width="0.6"/>
<circle cx="644.10" cy="388.00" r="1.50" fill="#fff" stroke="#111" stroke-width="0.6"/>
<circle cx="644.10" cy="411.70" r="1.50" fill="#fff" stroke="#111" stroke-width="0.6"/>
<path d="M623.9,369.3 L623.9,362.3 L644.1,362.3 L644.1,369.3" fill="none" stroke="#111" stroke-width="0.9"/>
<text x="617.50" y="360.60" font-size="7.9" fill="#000" ><tspan font-style="italic">P</tspan> = 0.007</text>
<text x="581.70" y="413.00" font-size="12.2" fill="#000" text-anchor="middle" textLength="89.40" lengthAdjust="spacingAndGlyphs" transform="rotate(-90 581.70 413.00)" >MG in CA (μg/g)</text>
<text x="630.25" y="483.30" font-size="11.8" fill="#000" text-anchor="end" transform="rotate(-45 630.25 483.30)" >CON</text>
<text x="648.35" y="483.30" font-size="11.8" fill="#000" text-anchor="end" transform="rotate(-45 648.35 483.30)" >HU</text>
<text x="441.60" y="518.90" font-size="14.2" fill="#000" font-weight="bold" >J</text>
<rect x="502.20" y="625.90" width="18.00" height="8.10" fill="#ADADAD" />
<rect x="520.20" y="588.80" width="17.60" height="45.20" fill="#FF6666" />
<line x1="511.20" y1="625.30" x2="511.20" y2="625.90" stroke="#222" stroke-width="1.0" />
<line x1="506.60" y1="625.30" x2="515.80" y2="625.30" stroke="#222" stroke-width="1.0" />
<line x1="529.00" y1="552.00" x2="529.00" y2="588.80" stroke="#222" stroke-width="1.0" />
<line x1="524.60" y1="552.00" x2="533.40" y2="552.00" stroke="#222" stroke-width="1.0" />
<line x1="498.70" y1="518.10" x2="498.70" y2="634.80" stroke="#000" stroke-width="1.6" />
<line x1="492.50" y1="634.00" x2="541.60" y2="634.00" stroke="#000" stroke-width="1.6" />
<line x1="492.50" y1="518.90" x2="498.70" y2="518.90" stroke="#000" stroke-width="1.5" />
<text x="491.20" y="522.75" font-size="10.7" fill="#000" font-weight="bold" text-anchor="end" >3</text>
<line x1="492.50" y1="557.50" x2="498.70" y2="557.50" stroke="#000" stroke-width="1.5" />
<text x="491.20" y="561.35" font-size="10.7" fill="#000" font-weight="bold" text-anchor="end" >2</text>
<line x1="492.50" y1="595.80" x2="498.70" y2="595.80" stroke="#000" stroke-width="1.5" />
<text x="491.20" y="599.65" font-size="10.7" fill="#000" font-weight="bold" text-anchor="end" >1</text>
<line x1="492.50" y1="634.00" x2="498.70" y2="634.00" stroke="#000" stroke-width="1.5" />
<text x="491.20" y="637.85" font-size="10.7" fill="#000" font-weight="bold" text-anchor="end" >0</text>
<line x1="511.20" y1="634.00" x2="511.20" y2="638.60" stroke="#000" stroke-width="1.5" />
<line x1="529.00" y1="634.00" x2="529.00" y2="638.60" stroke="#000" stroke-width="1.5" />
<circle cx="503.90" cy="626.80" r="1.50" fill="#fff" stroke="#111" stroke-width="0.6"/>
<circle cx="511.00" cy="625.20" r="1.50" fill="#fff" stroke="#111" stroke-width="0.6"/>
<circle cx="518.00" cy="625.90" r="1.50" fill="#fff" stroke="#111" stroke-width="0.6"/>
<circle cx="529.00" cy="537.10" r="1.50" fill="#fff" stroke="#111" stroke-width="0.6"/>
<circle cx="529.00" cy="594.90" r="1.50" fill="#fff" stroke="#111" stroke-width="0.6"/>
<circle cx="529.00" cy="600.10" r="1.50" fill="#fff" stroke="#111" stroke-width="0.6"/>
<circle cx="529.00" cy="622.90" r="1.50" fill="#fff" stroke="#111" stroke-width="0.6"/>
<path d="M509.6,529.8 L509.6,522.8 L529.3,522.8 L529.3,529.8" fill="none" stroke="#111" stroke-width="0.9"/>
<text x="499.20" y="520.10" font-size="9.0" fill="#000" ><tspan font-style="italic">P</tspan> = 0.1459</text>
<text x="476.60" y="577.00" font-size="12.2" fill="#000" text-anchor="middle" textLength="91.20" lengthAdjust="spacingAndGlyphs" transform="rotate(-90 476.60 577.00)" >DG in CA (mg/g)</text>
<text x="515.80" y="647.80" font-size="11.8" fill="#000" text-anchor="end" transform="rotate(-45 515.80 647.80)" >CON</text>
<text x="533.60" y="647.80" font-size="11.8" fill="#000" text-anchor="end" transform="rotate(-45 533.60 647.80)" >HU</text>
<text x="559.90" y="518.90" font-size="14.2" fill="#000" font-weight="bold" >K</text>
<rect x="614.00" y="621.20" width="17.80" height="12.80" fill="#ADADAD" />
<rect x="631.80" y="557.80" width="18.10" height="76.20" fill="#FF6666" />
<line x1="622.90" y1="620.40" x2="622.90" y2="621.20" stroke="#222" stroke-width="1.0" />
<line x1="618.30" y1="620.40" x2="627.50" y2="620.40" stroke="#222" stroke-width="1.0" />
<line x1="640.60" y1="529.40" x2="640.60" y2="557.80" stroke="#222" stroke-width="1.0" />
<line x1="635.90" y1="529.40" x2="645.30" y2="529.40" stroke="#222" stroke-width="1.0" />
<line x1="610.80" y1="518.10" x2="610.80" y2="634.80" stroke="#000" stroke-width="1.6" />
<line x1="604.60" y1="634.00" x2="653.70" y2="634.00" stroke="#000" stroke-width="1.6" />
<line x1="604.60" y1="518.90" x2="610.80" y2="518.90" stroke="#000" stroke-width="1.5" />
<text x="603.30" y="522.75" font-size="10.7" fill="#000" font-weight="bold" text-anchor="end" >60</text>
<line x1="604.60" y1="557.50" x2="610.80" y2="557.50" stroke="#000" stroke-width="1.5" />
<text x="603.30" y="561.35" font-size="10.7" fill="#000" font-weight="bold" text-anchor="end" >40</text>
<line x1="604.60" y1="595.80" x2="610.80" y2="595.80" stroke="#000" stroke-width="1.5" />
<text x="603.30" y="599.65" font-size="10.7" fill="#000" font-weight="bold" text-anchor="end" >20</text>
<line x1="604.60" y1="634.00" x2="610.80" y2="634.00" stroke="#000" stroke-width="1.5" />
<text x="603.30" y="637.85" font-size="10.7" fill="#000" font-weight="bold" text-anchor="end" >0</text>
<line x1="622.90" y1="634.00" x2="622.90" y2="638.60" stroke="#000" stroke-width="1.5" />
<line x1="640.85" y1="634.00" x2="640.85" y2="638.60" stroke="#000" stroke-width="1.5" />
<circle cx="615.50" cy="622.00" r="1.50" fill="#fff" stroke="#111" stroke-width="0.6"/>
<circle cx="622.70" cy="620.30" r="1.50" fill="#fff" stroke="#111" stroke-width="0.6"/>
<circle cx="630.10" cy="622.00" r="1.50" fill="#fff" stroke="#111" stroke-width="0.6"/>
<circle cx="640.60" cy="531.50" r="1.50" fill="#fff" stroke="#111" stroke-width="0.6"/>
<circle cx="640.60" cy="538.90" r="1.50" fill="#fff" stroke="#111" stroke-width="0.6"/>
<circle cx="640.60" cy="568.90" r="1.50" fill="#fff" stroke="#111" stroke-width="0.6"/>
<circle cx="640.60" cy="594.40" r="1.50" fill="#fff" stroke="#111" stroke-width="0.6"/>
<path d="M621.3,524.2 L621.3,517.2 L641.5,517.2 L641.5,524.2" fill="none" stroke="#111" stroke-width="0.9"/>
<text x="613.40" y="515.20" font-size="7.84" fill="#000" ><tspan font-style="italic">P</tspan> = 0.0141</text>
<text x="583.00" y="576.00" font-size="12.2" fill="#000" text-anchor="middle" textLength="89.40" lengthAdjust="spacingAndGlyphs" transform="rotate(-90 583.00 576.00)" >TG in CA (mg/g)</text>
<text x="627.50" y="647.80" font-size="11.8" fill="#000" text-anchor="end" transform="rotate(-45 627.50 647.80)" >CON</text>
<text x="645.45" y="647.80" font-size="11.8" fill="#000" text-anchor="end" transform="rotate(-45 645.45 647.80)" >HU</text>
</svg>
</body></html>
